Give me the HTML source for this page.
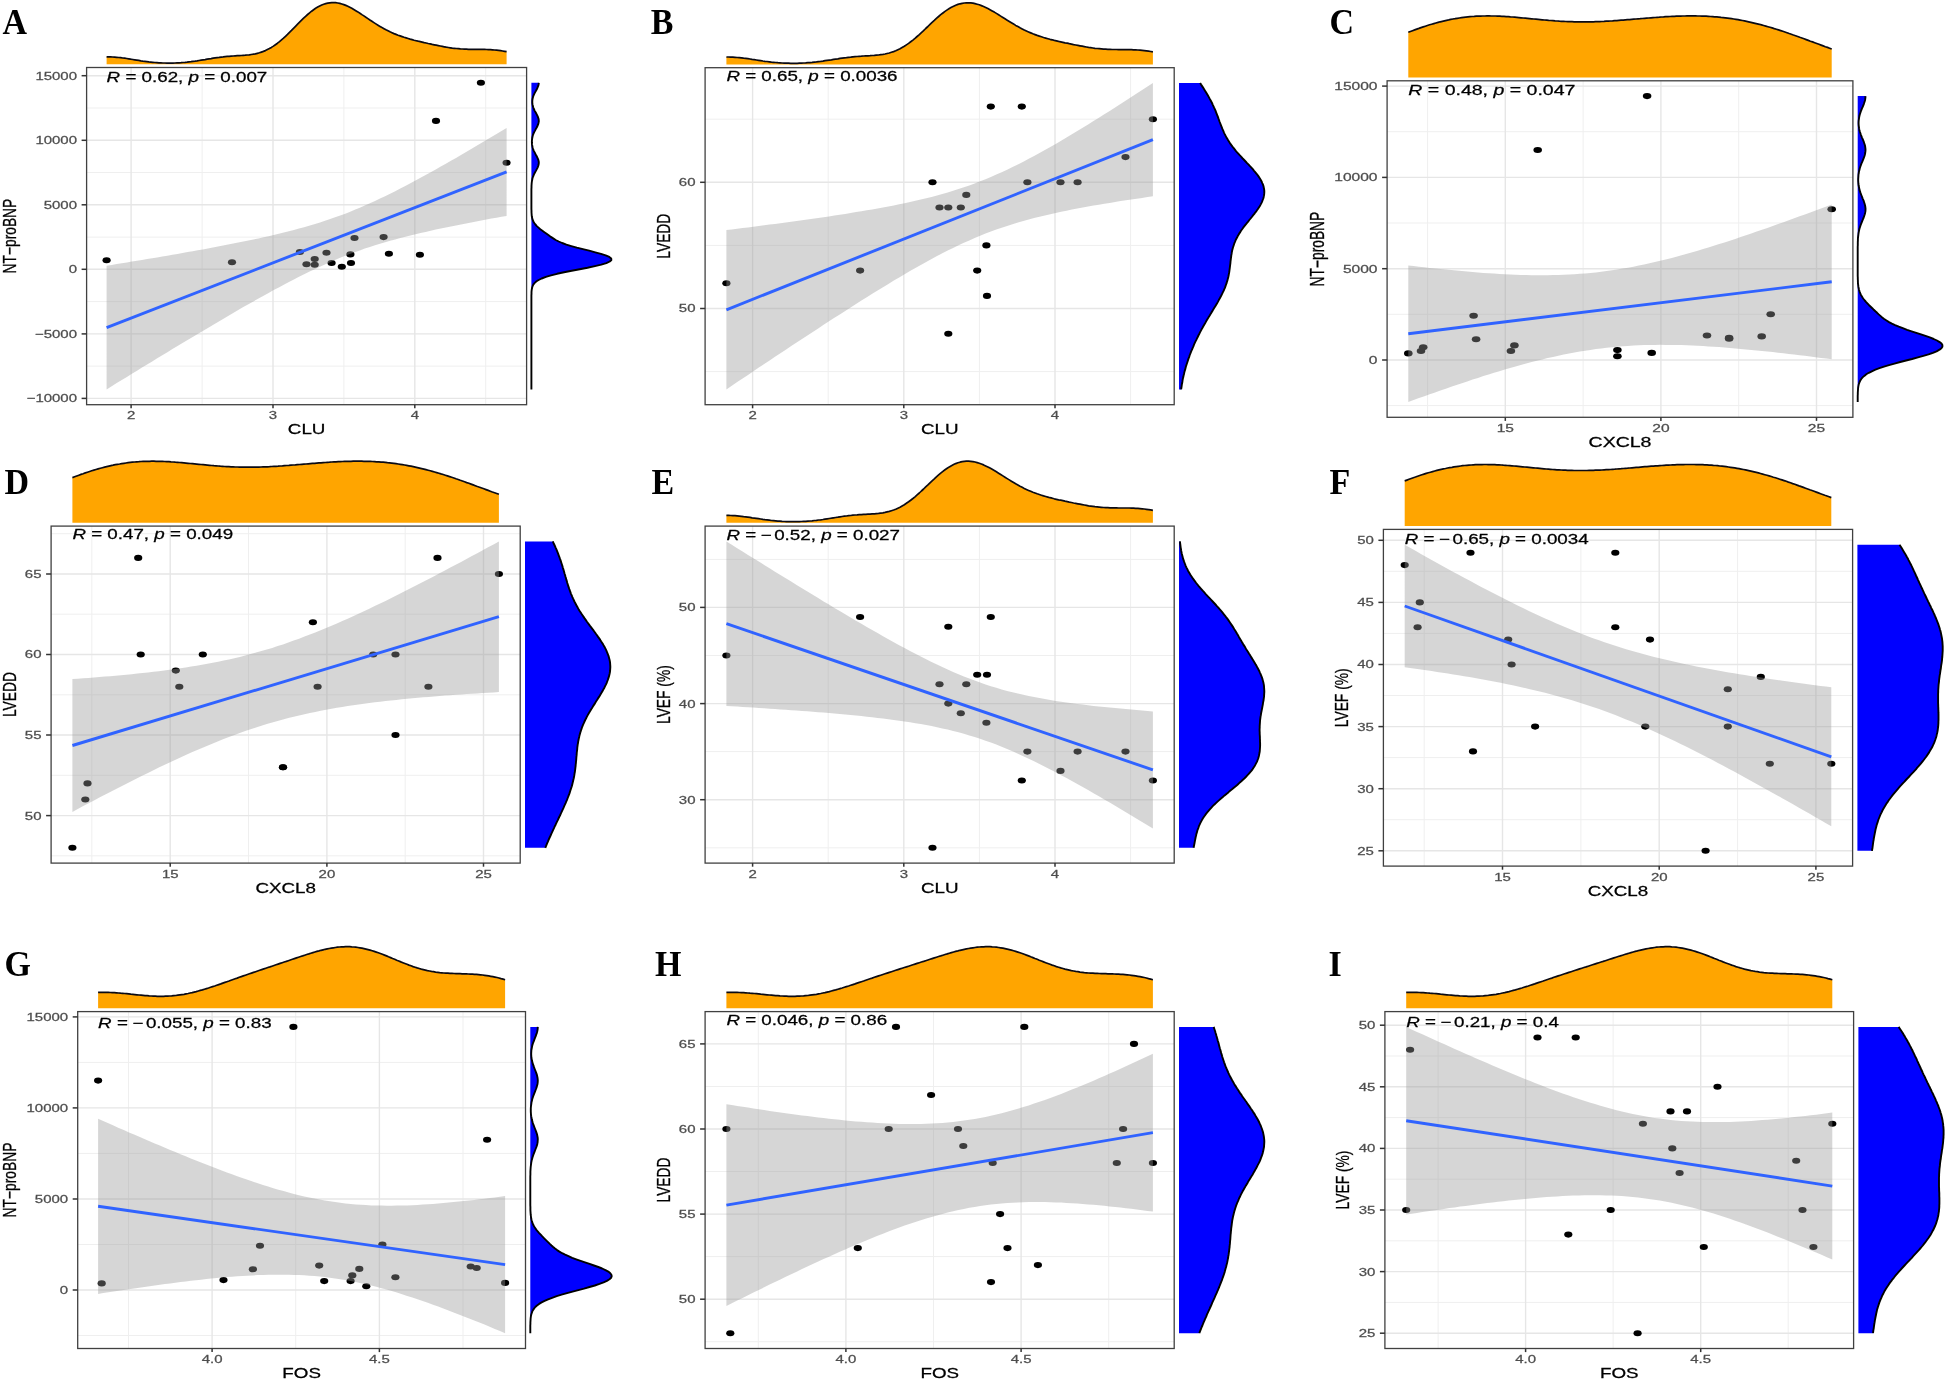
<!DOCTYPE html>
<html lang="en"><head><meta charset="utf-8"><title>Correlation of CLU, CXCL8 and FOS with NT-proBNP, LVEDD and LVEF</title>
<style>
html,body{margin:0;padding:0;background:#fff}
body{width:1948px;height:1382px;overflow:hidden}
svg{display:block}
svg text{font-family:"Liberation Sans",Arial,sans-serif;stroke-width:0.25px;paint-order:stroke}
svg text.pl{stroke:none;font-family:"Liberation Serif","Times New Roman",serif;font-weight:bold;font-size:34px;fill:#000}
</style></head><body>
<svg width="1948" height="1382" viewBox="0 0 1948 1382">
<defs><filter id="soft" x="0" y="0" width="1948" height="1382" filterUnits="userSpaceOnUse" color-interpolation-filters="sRGB"><feGaussianBlur stdDeviation="0.5"/></filter></defs>
<rect width="1948" height="1382" fill="#fff"/>
<g filter="url(#soft)">
<rect width="1948" height="1382" fill="#fff"/>
<g>
<rect x="86.6" y="67.5" width="440" height="337.2" fill="#fff"/>
<path d="M202.1 67.5V404.7" stroke="#efefef" stroke-width="1"/><path d="M343.9 67.5V404.7" stroke="#efefef" stroke-width="1"/><path d="M485.7 67.5V404.7" stroke="#efefef" stroke-width="1"/><path d="M86.6 366.1H526.6" stroke="#efefef" stroke-width="1"/><path d="M86.6 301.6H526.6" stroke="#efefef" stroke-width="1"/><path d="M86.6 237.1H526.6" stroke="#efefef" stroke-width="1"/><path d="M86.6 172.5H526.6" stroke="#efefef" stroke-width="1"/><path d="M86.6 108H526.6" stroke="#efefef" stroke-width="1"/><path d="M131.1 67.5V404.7" stroke="#e6e6e6" stroke-width="1.4"/><path d="M273 67.5V404.7" stroke="#e6e6e6" stroke-width="1.4"/><path d="M414.8 67.5V404.7" stroke="#e6e6e6" stroke-width="1.4"/><path d="M86.6 398.4H526.6" stroke="#e6e6e6" stroke-width="1.4"/><path d="M86.6 333.9H526.6" stroke="#e6e6e6" stroke-width="1.4"/><path d="M86.6 269.3H526.6" stroke="#e6e6e6" stroke-width="1.4"/><path d="M86.6 204.8H526.6" stroke="#e6e6e6" stroke-width="1.4"/><path d="M86.6 140.3H526.6" stroke="#e6e6e6" stroke-width="1.4"/><path d="M86.6 75.7H526.6" stroke="#e6e6e6" stroke-width="1.4"/>
<g fill="#000"><ellipse cx="106.6" cy="260.3" rx="4.1" ry="3.05"/><ellipse cx="232" cy="262.3" rx="4.1" ry="3.05"/><ellipse cx="299.9" cy="252" rx="4.1" ry="3.05"/><ellipse cx="306.5" cy="264.3" rx="4.1" ry="3.05"/><ellipse cx="314.7" cy="259" rx="4.1" ry="3.05"/><ellipse cx="314.7" cy="264.7" rx="4.1" ry="3.05"/><ellipse cx="326.5" cy="252.7" rx="4.1" ry="3.05"/><ellipse cx="331.6" cy="263" rx="4.1" ry="3.05"/><ellipse cx="341.8" cy="266.7" rx="4.1" ry="3.05"/><ellipse cx="350.4" cy="254.4" rx="4.1" ry="3.05"/><ellipse cx="351" cy="263" rx="4.1" ry="3.05"/><ellipse cx="354.5" cy="238" rx="4.1" ry="3.05"/><ellipse cx="383.6" cy="237.1" rx="4.1" ry="3.05"/><ellipse cx="388.9" cy="253.7" rx="4.1" ry="3.05"/><ellipse cx="419.9" cy="254.7" rx="4.1" ry="3.05"/><ellipse cx="436" cy="120.9" rx="4.1" ry="3.05"/><ellipse cx="480.9" cy="82.8" rx="4.1" ry="3.05"/><ellipse cx="506.6" cy="162.8" rx="4.1" ry="3.05"/></g>
<path d="M106.6 265.8 L111.7 264.9 L116.7 264.1 L121.8 263.3 L126.9 262.5 L131.9 261.6 L137 260.8 L142 259.9 L147.1 259.1 L152.2 258.2 L157.2 257.4 L162.3 256.5 L167.4 255.7 L172.4 254.8 L177.5 253.9 L182.5 253 L187.6 252.1 L192.7 251.2 L197.7 250.3 L202.8 249.4 L207.9 248.5 L212.9 247.5 L218 246.6 L223.1 245.6 L228.1 244.6 L233.2 243.6 L238.2 242.6 L243.3 241.6 L248.4 240.6 L253.4 239.5 L258.5 238.4 L263.6 237.3 L268.6 236.2 L273.7 235 L278.8 233.8 L283.8 232.6 L288.9 231.3 L293.9 230 L299 228.6 L304.1 227.2 L309.1 225.8 L314.2 224.2 L319.3 222.7 L324.3 221 L329.4 219.3 L334.4 217.6 L339.5 215.8 L344.6 213.9 L349.6 211.9 L354.7 209.8 L359.8 207.7 L364.8 205.5 L369.9 203.3 L375 201 L380 198.6 L385.1 196.2 L390.1 193.7 L395.2 191.2 L400.3 188.6 L405.3 185.9 L410.4 183.3 L415.5 180.6 L420.5 177.8 L425.6 175.1 L430.7 172.3 L435.7 169.4 L440.8 166.6 L445.8 163.7 L450.9 160.8 L456 157.9 L461 155 L466.1 152 L471.2 149 L476.2 146.1 L481.3 143.1 L486.3 140.1 L491.4 137.1 L496.5 134 L501.5 131 L506.6 128 L506.6 215.9 L501.5 216.8 L496.5 217.7 L491.4 218.6 L486.3 219.6 L481.3 220.5 L476.2 221.5 L471.2 222.4 L466.1 223.4 L461 224.4 L456 225.4 L450.9 226.4 L445.8 227.5 L440.8 228.5 L435.7 229.6 L430.7 230.7 L425.6 231.9 L420.5 233 L415.5 234.2 L410.4 235.5 L405.3 236.7 L400.3 238 L395.2 239.4 L390.1 240.8 L385.1 242.3 L380 243.8 L375 245.3 L369.9 247 L364.8 248.6 L359.8 250.4 L354.7 252.2 L349.6 254.1 L344.6 256.1 L339.5 258.1 L334.4 260.3 L329.4 262.4 L324.3 264.7 L319.3 267 L314.2 269.4 L309.1 271.8 L304.1 274.3 L299 276.8 L293.9 279.4 L288.9 282 L283.8 284.7 L278.8 287.4 L273.7 290.1 L268.6 292.9 L263.6 295.7 L258.5 298.5 L253.4 301.4 L248.4 304.2 L243.3 307.1 L238.2 310.1 L233.2 313 L228.1 315.9 L223.1 318.9 L218 321.9 L212.9 324.9 L207.9 327.9 L202.8 330.9 L197.7 333.9 L192.7 336.9 L187.6 340 L182.5 343 L177.5 346.1 L172.4 349.1 L167.4 352.2 L162.3 355.3 L157.2 358.3 L152.2 361.4 L147.1 364.5 L142 367.6 L137 370.7 L131.9 373.8 L126.9 376.9 L121.8 380 L116.7 383.1 L111.7 386.3 L106.6 389.4Z" fill="#999" fill-opacity="0.4"/>
<path d="M106.6 327.6L506.6 171.9" stroke="#3063ff" stroke-width="2.9" fill="none"/>
<rect x="86.6" y="67.5" width="440" height="337.2" fill="none" stroke="#404040" stroke-width="1.3"/>
<path d="M131.1 404.7v3.6" stroke="#333" stroke-width="1.5"/><text transform="translate(131.1 419.3) scale(1.36 1)" font-size="11.0" text-anchor="middle" fill="#4d4d4d" stroke="#4d4d4d">2</text><path d="M273 404.7v3.6" stroke="#333" stroke-width="1.5"/><text transform="translate(273 419.3) scale(1.36 1)" font-size="11.0" text-anchor="middle" fill="#4d4d4d" stroke="#4d4d4d">3</text><path d="M414.8 404.7v3.6" stroke="#333" stroke-width="1.5"/><text transform="translate(414.8 419.3) scale(1.36 1)" font-size="11.0" text-anchor="middle" fill="#4d4d4d" stroke="#4d4d4d">4</text><path d="M86.6 398.4h-5" stroke="#333" stroke-width="1.5"/><text transform="translate(77 402.3) scale(1.36 1)" font-size="11.0" text-anchor="end" fill="#4d4d4d" stroke="#4d4d4d">−10000</text><path d="M86.6 333.9h-5" stroke="#333" stroke-width="1.5"/><text transform="translate(77 337.8) scale(1.36 1)" font-size="11.0" text-anchor="end" fill="#4d4d4d" stroke="#4d4d4d">−5000</text><path d="M86.6 269.3h-5" stroke="#333" stroke-width="1.5"/><text transform="translate(77 273.2) scale(1.36 1)" font-size="11.0" text-anchor="end" fill="#4d4d4d" stroke="#4d4d4d">0</text><path d="M86.6 204.8h-5" stroke="#333" stroke-width="1.5"/><text transform="translate(77 208.7) scale(1.36 1)" font-size="11.0" text-anchor="end" fill="#4d4d4d" stroke="#4d4d4d">5000</text><path d="M86.6 140.3h-5" stroke="#333" stroke-width="1.5"/><text transform="translate(77 144.2) scale(1.36 1)" font-size="11.0" text-anchor="end" fill="#4d4d4d" stroke="#4d4d4d">10000</text><path d="M86.6 75.7h-5" stroke="#333" stroke-width="1.5"/><text transform="translate(77 79.6) scale(1.36 1)" font-size="11.0" text-anchor="end" fill="#4d4d4d" stroke="#4d4d4d">15000</text>
<text transform="translate(306.6 434.3) scale(1.36 1)" font-size="13.8" text-anchor="middle" fill="#000" stroke="#000">CLU</text>
<text transform="translate(16 236.1) rotate(-90) scale(1 1.36)" font-size="13.8" text-anchor="middle" fill="#000" stroke="#000">NT−proBNP</text>
<text xml:space="preserve" transform="translate(106.6 81.5) scale(1.36 1)" font-size="13.8" fill="#000" stroke="#000"><tspan font-style="italic">R</tspan> = 0.62, <tspan font-style="italic">p</tspan> = 0.007</text>
<path d="M106.6 64.2 L106.6 56.8 L108.6 56.8 L110.6 56.9 L112.6 57 L114.6 57.1 L116.7 57.3 L118.7 57.5 L120.7 57.7 L122.7 58 L124.7 58.2 L126.7 58.5 L128.7 58.8 L130.7 59.2 L132.7 59.5 L134.7 59.8 L136.8 60.1 L138.8 60.4 L140.8 60.8 L142.8 61.1 L144.8 61.3 L146.8 61.6 L148.8 61.9 L150.8 62.1 L152.8 62.3 L154.8 62.5 L156.9 62.6 L158.9 62.8 L160.9 62.9 L162.9 63 L164.9 63 L166.9 63.1 L168.9 63.1 L170.9 63.1 L172.9 63.1 L174.9 63 L177 62.9 L179 62.8 L181 62.7 L183 62.5 L185 62.4 L187 62.2 L189 61.9 L191 61.7 L193 61.4 L195 61.2 L197.1 60.9 L199.1 60.5 L201.1 60.2 L203.1 59.9 L205.1 59.6 L207.1 59.2 L209.1 58.9 L211.1 58.6 L213.1 58.2 L215.1 57.9 L217.2 57.6 L219.2 57.4 L221.2 57.1 L223.2 56.9 L225.2 56.6 L227.2 56.4 L229.2 56.3 L231.2 56.1 L233.2 56 L235.2 55.8 L237.3 55.7 L239.3 55.6 L241.3 55.5 L243.3 55.3 L245.3 55.2 L247.3 55 L249.3 54.8 L251.3 54.5 L253.3 54.2 L255.3 53.8 L257.4 53.3 L259.4 52.8 L261.4 52.1 L263.4 51.4 L265.4 50.6 L267.4 49.6 L269.4 48.6 L271.4 47.4 L273.4 46.1 L275.4 44.7 L277.5 43.2 L279.5 41.6 L281.5 39.9 L283.5 38.2 L285.5 36.3 L287.5 34.4 L289.5 32.4 L291.5 30.4 L293.5 28.3 L295.5 26.3 L297.6 24.2 L299.6 22.2 L301.6 20.2 L303.6 18.2 L305.6 16.3 L307.6 14.5 L309.6 12.8 L311.6 11.2 L313.6 9.7 L315.6 8.3 L317.7 7.1 L319.7 6 L321.7 5 L323.7 4.2 L325.7 3.6 L327.7 3.1 L329.7 2.8 L331.7 2.6 L333.7 2.6 L335.7 2.7 L337.8 3 L339.8 3.4 L341.8 4 L343.8 4.6 L345.8 5.4 L347.8 6.3 L349.8 7.3 L351.8 8.3 L353.8 9.5 L355.8 10.7 L357.9 11.9 L359.9 13.2 L361.9 14.6 L363.9 15.9 L365.9 17.3 L367.9 18.6 L369.9 20 L371.9 21.3 L373.9 22.6 L375.9 23.9 L378 25.2 L380 26.4 L382 27.6 L384 28.7 L386 29.8 L388 30.8 L390 31.8 L392 32.7 L394 33.6 L396 34.4 L398.1 35.2 L400.1 35.9 L402.1 36.6 L404.1 37.3 L406.1 37.9 L408.1 38.5 L410.1 39.1 L412.1 39.6 L414.1 40.2 L416.1 40.7 L418.2 41.2 L420.2 41.6 L422.2 42.1 L424.2 42.6 L426.2 43 L428.2 43.5 L430.2 43.9 L432.2 44.4 L434.2 44.8 L436.2 45.2 L438.3 45.6 L440.3 46 L442.3 46.4 L444.3 46.8 L446.3 47.2 L448.3 47.5 L450.3 47.8 L452.3 48.1 L454.3 48.3 L456.3 48.5 L458.4 48.7 L460.4 48.9 L462.4 49 L464.4 49.1 L466.4 49.2 L468.4 49.3 L470.4 49.3 L472.4 49.3 L474.4 49.4 L476.4 49.4 L478.5 49.4 L480.5 49.4 L482.5 49.4 L484.5 49.4 L486.5 49.5 L488.5 49.6 L490.5 49.7 L492.5 49.8 L494.5 50 L496.5 50.2 L498.6 50.4 L500.6 50.7 L502.6 51 L504.6 51.3 L506.6 51.7 L506.6 64.2Z" fill="#ffa500"/>
<path d="M106.6 56.8 L108.6 56.8 L110.6 56.9 L112.6 57 L114.6 57.1 L116.7 57.3 L118.7 57.5 L120.7 57.7 L122.7 58 L124.7 58.2 L126.7 58.5 L128.7 58.8 L130.7 59.2 L132.7 59.5 L134.7 59.8 L136.8 60.1 L138.8 60.4 L140.8 60.8 L142.8 61.1 L144.8 61.3 L146.8 61.6 L148.8 61.9 L150.8 62.1 L152.8 62.3 L154.8 62.5 L156.9 62.6 L158.9 62.8 L160.9 62.9 L162.9 63 L164.9 63 L166.9 63.1 L168.9 63.1 L170.9 63.1 L172.9 63.1 L174.9 63 L177 62.9 L179 62.8 L181 62.7 L183 62.5 L185 62.4 L187 62.2 L189 61.9 L191 61.7 L193 61.4 L195 61.2 L197.1 60.9 L199.1 60.5 L201.1 60.2 L203.1 59.9 L205.1 59.6 L207.1 59.2 L209.1 58.9 L211.1 58.6 L213.1 58.2 L215.1 57.9 L217.2 57.6 L219.2 57.4 L221.2 57.1 L223.2 56.9 L225.2 56.6 L227.2 56.4 L229.2 56.3 L231.2 56.1 L233.2 56 L235.2 55.8 L237.3 55.7 L239.3 55.6 L241.3 55.5 L243.3 55.3 L245.3 55.2 L247.3 55 L249.3 54.8 L251.3 54.5 L253.3 54.2 L255.3 53.8 L257.4 53.3 L259.4 52.8 L261.4 52.1 L263.4 51.4 L265.4 50.6 L267.4 49.6 L269.4 48.6 L271.4 47.4 L273.4 46.1 L275.4 44.7 L277.5 43.2 L279.5 41.6 L281.5 39.9 L283.5 38.2 L285.5 36.3 L287.5 34.4 L289.5 32.4 L291.5 30.4 L293.5 28.3 L295.5 26.3 L297.6 24.2 L299.6 22.2 L301.6 20.2 L303.6 18.2 L305.6 16.3 L307.6 14.5 L309.6 12.8 L311.6 11.2 L313.6 9.7 L315.6 8.3 L317.7 7.1 L319.7 6 L321.7 5 L323.7 4.2 L325.7 3.6 L327.7 3.1 L329.7 2.8 L331.7 2.6 L333.7 2.6 L335.7 2.7 L337.8 3 L339.8 3.4 L341.8 4 L343.8 4.6 L345.8 5.4 L347.8 6.3 L349.8 7.3 L351.8 8.3 L353.8 9.5 L355.8 10.7 L357.9 11.9 L359.9 13.2 L361.9 14.6 L363.9 15.9 L365.9 17.3 L367.9 18.6 L369.9 20 L371.9 21.3 L373.9 22.6 L375.9 23.9 L378 25.2 L380 26.4 L382 27.6 L384 28.7 L386 29.8 L388 30.8 L390 31.8 L392 32.7 L394 33.6 L396 34.4 L398.1 35.2 L400.1 35.9 L402.1 36.6 L404.1 37.3 L406.1 37.9 L408.1 38.5 L410.1 39.1 L412.1 39.6 L414.1 40.2 L416.1 40.7 L418.2 41.2 L420.2 41.6 L422.2 42.1 L424.2 42.6 L426.2 43 L428.2 43.5 L430.2 43.9 L432.2 44.4 L434.2 44.8 L436.2 45.2 L438.3 45.6 L440.3 46 L442.3 46.4 L444.3 46.8 L446.3 47.2 L448.3 47.5 L450.3 47.8 L452.3 48.1 L454.3 48.3 L456.3 48.5 L458.4 48.7 L460.4 48.9 L462.4 49 L464.4 49.1 L466.4 49.2 L468.4 49.3 L470.4 49.3 L472.4 49.3 L474.4 49.4 L476.4 49.4 L478.5 49.4 L480.5 49.4 L482.5 49.4 L484.5 49.4 L486.5 49.5 L488.5 49.6 L490.5 49.7 L492.5 49.8 L494.5 50 L496.5 50.2 L498.6 50.4 L500.6 50.7 L502.6 51 L504.6 51.3 L506.6 51.7" fill="none" stroke="#0a0a14" stroke-width="1.7" stroke-linejoin="round"/>
<path d="M531.4 389.4 L531.4 389.4 L531.4 387.8 L531.4 386.3 L531.4 384.8 L531.4 383.2 L531.4 381.7 L531.4 380.1 L531.4 378.6 L531.4 377 L531.4 375.5 L531.4 374 L531.4 372.4 L531.4 370.9 L531.4 369.3 L531.4 367.8 L531.4 366.3 L531.4 364.7 L531.4 363.2 L531.4 361.6 L531.4 360.1 L531.4 358.6 L531.4 357 L531.4 355.5 L531.4 353.9 L531.4 352.4 L531.4 350.9 L531.4 349.3 L531.4 347.8 L531.4 346.2 L531.4 344.7 L531.4 343.2 L531.4 341.6 L531.4 340.1 L531.4 338.5 L531.4 337 L531.4 335.5 L531.4 333.9 L531.4 332.4 L531.4 330.8 L531.4 329.3 L531.4 327.8 L531.4 326.2 L531.4 324.7 L531.4 323.1 L531.4 321.6 L531.4 320.1 L531.4 318.5 L531.4 317 L531.4 315.4 L531.4 313.9 L531.4 312.4 L531.4 310.8 L531.4 309.3 L531.4 307.7 L531.4 306.2 L531.4 304.6 L531.4 303.1 L531.4 301.6 L531.4 300 L531.4 298.5 L531.4 296.9 L531.4 295.4 L531.5 293.9 L531.5 292.3 L531.6 290.8 L531.8 289.2 L532.1 287.7 L532.6 286.2 L533.3 284.6 L534.5 283.1 L536.2 281.5 L538.6 280 L541.7 278.5 L545.9 276.9 L551 275.4 L557.1 273.8 L564.1 272.3 L571.7 270.8 L579.7 269.2 L587.5 267.7 L594.9 266.1 L601.3 264.6 L606.3 263.1 L609.8 261.5 L611.4 260 L611.2 258.4 L609.3 256.9 L605.7 255.4 L601 253.8 L595.3 252.3 L589.2 250.7 L582.9 249.2 L576.8 247.7 L571.3 246.1 L566.4 244.6 L562.2 243 L558.7 241.5 L555.7 240 L553.2 238.4 L550.9 236.9 L548.7 235.3 L546.6 233.8 L544.4 232.2 L542.4 230.7 L540.3 229.2 L538.5 227.6 L536.8 226.1 L535.4 224.5 L534.3 223 L533.4 221.5 L532.7 219.9 L532.3 218.4 L531.9 216.8 L531.7 215.3 L531.6 213.8 L531.5 212.2 L531.5 210.7 L531.4 209.1 L531.4 207.6 L531.4 206.1 L531.4 204.5 L531.4 203 L531.4 201.4 L531.4 199.9 L531.4 198.4 L531.4 196.8 L531.4 195.3 L531.4 193.7 L531.4 192.2 L531.4 190.7 L531.4 189.1 L531.5 187.6 L531.5 186 L531.6 184.5 L531.7 183 L531.9 181.4 L532.2 179.9 L532.5 178.3 L533 176.8 L533.6 175.3 L534.3 173.7 L535.1 172.2 L536 170.6 L536.8 169.1 L537.6 167.6 L538.2 166 L538.6 164.5 L538.8 162.9 L538.7 161.4 L538.3 159.8 L537.7 158.3 L537 156.8 L536.1 155.2 L535.3 153.7 L534.5 152.1 L533.7 150.6 L533.1 149.1 L532.6 147.5 L532.3 146 L532 144.4 L531.9 142.9 L531.9 141.4 L532 139.8 L532.2 138.3 L532.5 136.7 L532.9 135.2 L533.5 133.7 L534.2 132.1 L535 130.6 L535.8 129 L536.7 127.5 L537.4 126 L538.1 124.4 L538.5 122.9 L538.8 121.3 L538.7 119.8 L538.4 118.3 L537.8 116.7 L537.1 115.2 L536.3 113.6 L535.4 112.1 L534.6 110.6 L533.9 109 L533.3 107.5 L532.8 105.9 L532.5 104.4 L532.3 102.9 L532.3 101.3 L532.4 99.8 L532.7 98.2 L533.1 96.7 L533.7 95.2 L534.4 93.6 L535.2 92.1 L536.1 90.5 L536.9 89 L537.6 87.4 L538.2 85.9 L538.6 84.4 L538.8 82.8 L531.4 82.8Z" fill="#0000ff"/>
<path d="M531.4 389.4 L531.4 387.8 L531.4 386.3 L531.4 384.8 L531.4 383.2 L531.4 381.7 L531.4 380.1 L531.4 378.6 L531.4 377 L531.4 375.5 L531.4 374 L531.4 372.4 L531.4 370.9 L531.4 369.3 L531.4 367.8 L531.4 366.3 L531.4 364.7 L531.4 363.2 L531.4 361.6 L531.4 360.1 L531.4 358.6 L531.4 357 L531.4 355.5 L531.4 353.9 L531.4 352.4 L531.4 350.9 L531.4 349.3 L531.4 347.8 L531.4 346.2 L531.4 344.7 L531.4 343.2 L531.4 341.6 L531.4 340.1 L531.4 338.5 L531.4 337 L531.4 335.5 L531.4 333.9 L531.4 332.4 L531.4 330.8 L531.4 329.3 L531.4 327.8 L531.4 326.2 L531.4 324.7 L531.4 323.1 L531.4 321.6 L531.4 320.1 L531.4 318.5 L531.4 317 L531.4 315.4 L531.4 313.9 L531.4 312.4 L531.4 310.8 L531.4 309.3 L531.4 307.7 L531.4 306.2 L531.4 304.6 L531.4 303.1 L531.4 301.6 L531.4 300 L531.4 298.5 L531.4 296.9 L531.4 295.4 L531.5 293.9 L531.5 292.3 L531.6 290.8 L531.8 289.2 L532.1 287.7 L532.6 286.2 L533.3 284.6 L534.5 283.1 L536.2 281.5 L538.6 280 L541.7 278.5 L545.9 276.9 L551 275.4 L557.1 273.8 L564.1 272.3 L571.7 270.8 L579.7 269.2 L587.5 267.7 L594.9 266.1 L601.3 264.6 L606.3 263.1 L609.8 261.5 L611.4 260 L611.2 258.4 L609.3 256.9 L605.7 255.4 L601 253.8 L595.3 252.3 L589.2 250.7 L582.9 249.2 L576.8 247.7 L571.3 246.1 L566.4 244.6 L562.2 243 L558.7 241.5 L555.7 240 L553.2 238.4 L550.9 236.9 L548.7 235.3 L546.6 233.8 L544.4 232.2 L542.4 230.7 L540.3 229.2 L538.5 227.6 L536.8 226.1 L535.4 224.5 L534.3 223 L533.4 221.5 L532.7 219.9 L532.3 218.4 L531.9 216.8 L531.7 215.3 L531.6 213.8 L531.5 212.2 L531.5 210.7 L531.4 209.1 L531.4 207.6 L531.4 206.1 L531.4 204.5 L531.4 203 L531.4 201.4 L531.4 199.9 L531.4 198.4 L531.4 196.8 L531.4 195.3 L531.4 193.7 L531.4 192.2 L531.4 190.7 L531.4 189.1 L531.5 187.6 L531.5 186 L531.6 184.5 L531.7 183 L531.9 181.4 L532.2 179.9 L532.5 178.3 L533 176.8 L533.6 175.3 L534.3 173.7 L535.1 172.2 L536 170.6 L536.8 169.1 L537.6 167.6 L538.2 166 L538.6 164.5 L538.8 162.9 L538.7 161.4 L538.3 159.8 L537.7 158.3 L537 156.8 L536.1 155.2 L535.3 153.7 L534.5 152.1 L533.7 150.6 L533.1 149.1 L532.6 147.5 L532.3 146 L532 144.4 L531.9 142.9 L531.9 141.4 L532 139.8 L532.2 138.3 L532.5 136.7 L532.9 135.2 L533.5 133.7 L534.2 132.1 L535 130.6 L535.8 129 L536.7 127.5 L537.4 126 L538.1 124.4 L538.5 122.9 L538.8 121.3 L538.7 119.8 L538.4 118.3 L537.8 116.7 L537.1 115.2 L536.3 113.6 L535.4 112.1 L534.6 110.6 L533.9 109 L533.3 107.5 L532.8 105.9 L532.5 104.4 L532.3 102.9 L532.3 101.3 L532.4 99.8 L532.7 98.2 L533.1 96.7 L533.7 95.2 L534.4 93.6 L535.2 92.1 L536.1 90.5 L536.9 89 L537.6 87.4 L538.2 85.9 L538.6 84.4 L538.8 82.8" fill="none" stroke="#000" stroke-width="1.9" stroke-linejoin="round"/>
<text class="pl" transform="translate(2.5 34.2) scale(1 1.045)">A</text>
</g>
<g>
<rect x="705.1" y="67.7" width="469.1" height="337" fill="#fff"/>
<path d="M828.2 67.7V404.7" stroke="#efefef" stroke-width="1"/><path d="M979.4 67.7V404.7" stroke="#efefef" stroke-width="1"/><path d="M1130.6 67.7V404.7" stroke="#efefef" stroke-width="1"/><path d="M705.1 371.6H1174.2" stroke="#efefef" stroke-width="1"/><path d="M705.1 245.4H1174.2" stroke="#efefef" stroke-width="1"/><path d="M705.1 119.2H1174.2" stroke="#efefef" stroke-width="1"/><path d="M752.6 67.7V404.7" stroke="#e6e6e6" stroke-width="1.4"/><path d="M903.8 67.7V404.7" stroke="#e6e6e6" stroke-width="1.4"/><path d="M1055 67.7V404.7" stroke="#e6e6e6" stroke-width="1.4"/><path d="M705.1 308.5H1174.2" stroke="#e6e6e6" stroke-width="1.4"/><path d="M705.1 182.3H1174.2" stroke="#e6e6e6" stroke-width="1.4"/>
<g fill="#000"><ellipse cx="726.4" cy="283.2" rx="4.1" ry="3.05"/><ellipse cx="860.1" cy="270.6" rx="4.1" ry="3.05"/><ellipse cx="932.5" cy="182.3" rx="4.1" ry="3.05"/><ellipse cx="939.5" cy="207.5" rx="4.1" ry="3.05"/><ellipse cx="948.3" cy="207.5" rx="4.1" ry="3.05"/><ellipse cx="948.3" cy="333.7" rx="4.1" ry="3.05"/><ellipse cx="960.8" cy="207.5" rx="4.1" ry="3.05"/><ellipse cx="966.3" cy="194.9" rx="4.1" ry="3.05"/><ellipse cx="977.2" cy="270.6" rx="4.1" ry="3.05"/><ellipse cx="986.4" cy="245.4" rx="4.1" ry="3.05"/><ellipse cx="987" cy="295.9" rx="4.1" ry="3.05"/><ellipse cx="990.8" cy="106.6" rx="4.1" ry="3.05"/><ellipse cx="1021.8" cy="106.6" rx="4.1" ry="3.05"/><ellipse cx="1027.4" cy="182.3" rx="4.1" ry="3.05"/><ellipse cx="1060.5" cy="182.3" rx="4.1" ry="3.05"/><ellipse cx="1077.6" cy="182.3" rx="4.1" ry="3.05"/><ellipse cx="1125.5" cy="157.1" rx="4.1" ry="3.05"/><ellipse cx="1152.9" cy="119.2" rx="4.1" ry="3.05"/></g>
<path d="M726.4 230.1 L731.8 229.4 L737.2 228.8 L742.6 228.1 L748 227.4 L753.4 226.7 L758.8 226 L764.2 225.3 L769.6 224.6 L775 223.9 L780.4 223.2 L785.8 222.5 L791.2 221.7 L796.6 221 L802 220.2 L807.4 219.5 L812.8 218.7 L818.2 217.9 L823.6 217.2 L829 216.4 L834.4 215.5 L839.8 214.7 L845.2 213.9 L850.6 213 L856 212.1 L861.4 211.3 L866.8 210.3 L872.2 209.4 L877.6 208.4 L883 207.5 L888.4 206.4 L893.8 205.4 L899.2 204.3 L904.6 203.2 L910 202 L915.4 200.8 L920.8 199.6 L926.2 198.3 L931.6 196.9 L937 195.5 L942.3 194 L947.7 192.4 L953.1 190.8 L958.5 189.1 L963.9 187.3 L969.3 185.4 L974.7 183.4 L980.1 181.3 L985.5 179.2 L990.9 176.9 L996.3 174.6 L1001.7 172.2 L1007.1 169.7 L1012.5 167.1 L1017.9 164.4 L1023.3 161.7 L1028.7 158.8 L1034.1 156 L1039.5 153 L1044.9 150 L1050.3 147 L1055.7 143.9 L1061.1 140.7 L1066.5 137.5 L1071.9 134.3 L1077.3 131 L1082.7 127.7 L1088.1 124.4 L1093.5 121.1 L1098.9 117.7 L1104.3 114.3 L1109.7 110.9 L1115.1 107.5 L1120.5 104 L1125.9 100.6 L1131.3 97.1 L1136.7 93.6 L1142.1 90.1 L1147.5 86.5 L1152.9 83 L1152.9 196.3 L1147.5 197.1 L1142.1 197.9 L1136.7 198.7 L1131.3 199.5 L1125.9 200.3 L1120.5 201.1 L1115.1 202 L1109.7 202.9 L1104.3 203.8 L1098.9 204.7 L1093.5 205.6 L1088.1 206.6 L1082.7 207.6 L1077.3 208.6 L1071.9 209.6 L1066.5 210.7 L1061.1 211.8 L1055.7 213 L1050.3 214.2 L1044.9 215.4 L1039.5 216.7 L1034.1 218.1 L1028.7 219.5 L1023.3 221 L1017.9 222.6 L1012.5 224.2 L1007.1 225.9 L1001.7 227.7 L996.3 229.6 L990.9 231.6 L985.5 233.6 L980.1 235.8 L974.7 238 L969.3 240.4 L963.9 242.8 L958.5 245.3 L953.1 247.9 L947.7 250.5 L942.3 253.3 L937 256.1 L931.6 259 L926.2 261.9 L920.8 264.9 L915.4 268 L910 271.1 L904.6 274.2 L899.2 277.4 L893.8 280.6 L888.4 283.9 L883 287.2 L877.6 290.5 L872.2 293.8 L866.8 297.2 L861.4 300.6 L856 304 L850.6 307.4 L845.2 310.9 L839.8 314.4 L834.4 317.8 L829 321.3 L823.6 324.8 L818.2 328.4 L812.8 331.9 L807.4 335.4 L802 339 L796.6 342.5 L791.2 346.1 L785.8 349.7 L780.4 353.3 L775 356.8 L769.6 360.4 L764.2 364 L758.8 367.6 L753.4 371.3 L748 374.9 L742.6 378.5 L737.2 382.1 L731.8 385.7 L726.4 389.4Z" fill="#999" fill-opacity="0.4"/>
<path d="M726.4 309.8L1152.9 139.7" stroke="#3063ff" stroke-width="2.9" fill="none"/>
<rect x="705.1" y="67.7" width="469.1" height="337" fill="none" stroke="#404040" stroke-width="1.3"/>
<path d="M752.6 404.7v3.6" stroke="#333" stroke-width="1.5"/><text transform="translate(752.6 419.3) scale(1.36 1)" font-size="11.0" text-anchor="middle" fill="#4d4d4d" stroke="#4d4d4d">2</text><path d="M903.8 404.7v3.6" stroke="#333" stroke-width="1.5"/><text transform="translate(903.8 419.3) scale(1.36 1)" font-size="11.0" text-anchor="middle" fill="#4d4d4d" stroke="#4d4d4d">3</text><path d="M1055 404.7v3.6" stroke="#333" stroke-width="1.5"/><text transform="translate(1055 419.3) scale(1.36 1)" font-size="11.0" text-anchor="middle" fill="#4d4d4d" stroke="#4d4d4d">4</text><path d="M705.1 308.5h-5" stroke="#333" stroke-width="1.5"/><text transform="translate(695.5 312.4) scale(1.36 1)" font-size="11.0" text-anchor="end" fill="#4d4d4d" stroke="#4d4d4d">50</text><path d="M705.1 182.3h-5" stroke="#333" stroke-width="1.5"/><text transform="translate(695.5 186.2) scale(1.36 1)" font-size="11.0" text-anchor="end" fill="#4d4d4d" stroke="#4d4d4d">60</text>
<text transform="translate(939.7 434.3) scale(1.36 1)" font-size="13.8" text-anchor="middle" fill="#000" stroke="#000">CLU</text>
<text transform="translate(670 236.2) rotate(-90) scale(1 1.36)" font-size="13.8" text-anchor="middle" fill="#000" stroke="#000">LVEDD</text>
<text xml:space="preserve" transform="translate(726.4 81.3) scale(1.36 1)" font-size="13.8" fill="#000" stroke="#000"><tspan font-style="italic">R</tspan> = 0.65, <tspan font-style="italic">p</tspan> = 0.0036</text>
<path d="M726.4 64.4 L726.4 57 L728.6 57 L730.7 57.1 L732.9 57.2 L735 57.3 L737.1 57.5 L739.3 57.7 L741.4 57.9 L743.6 58.2 L745.7 58.4 L747.9 58.7 L750 59 L752.1 59.4 L754.3 59.7 L756.4 60 L758.6 60.3 L760.7 60.6 L762.9 61 L765 61.3 L767.1 61.5 L769.3 61.8 L771.4 62.1 L773.6 62.3 L775.7 62.5 L777.9 62.7 L780 62.8 L782.1 63 L784.3 63.1 L786.4 63.2 L788.6 63.2 L790.7 63.3 L792.9 63.3 L795 63.3 L797.1 63.3 L799.3 63.2 L801.4 63.1 L803.6 63 L805.7 62.9 L807.9 62.7 L810 62.6 L812.1 62.4 L814.3 62.1 L816.4 61.9 L818.6 61.6 L820.7 61.4 L822.9 61.1 L825 60.7 L827.1 60.4 L829.3 60.1 L831.4 59.8 L833.6 59.4 L835.7 59.1 L837.9 58.8 L840 58.4 L842.1 58.1 L844.3 57.8 L846.4 57.6 L848.6 57.3 L850.7 57.1 L852.9 56.8 L855 56.6 L857.1 56.5 L859.3 56.3 L861.4 56.2 L863.6 56 L865.7 55.9 L867.9 55.8 L870 55.7 L872.1 55.5 L874.3 55.4 L876.4 55.2 L878.6 55 L880.7 54.7 L882.9 54.4 L885 54 L887.1 53.5 L889.3 53 L891.4 52.3 L893.6 51.6 L895.7 50.8 L897.9 49.8 L900 48.8 L902.1 47.6 L904.3 46.3 L906.4 44.9 L908.6 43.4 L910.7 41.8 L912.9 40.1 L915 38.4 L917.1 36.5 L919.3 34.6 L921.4 32.6 L923.6 30.6 L925.7 28.5 L927.9 26.5 L930 24.4 L932.1 22.4 L934.3 20.4 L936.4 18.4 L938.6 16.5 L940.7 14.7 L942.9 13 L945 11.4 L947.2 9.9 L949.3 8.5 L951.4 7.3 L953.6 6.2 L955.7 5.2 L957.9 4.4 L960 3.8 L962.2 3.3 L964.3 3 L966.4 2.8 L968.6 2.8 L970.7 2.9 L972.9 3.2 L975 3.6 L977.2 4.2 L979.3 4.8 L981.4 5.6 L983.6 6.5 L985.7 7.5 L987.9 8.5 L990 9.7 L992.2 10.9 L994.3 12.1 L996.4 13.4 L998.6 14.8 L1000.7 16.1 L1002.9 17.5 L1005 18.8 L1007.2 20.2 L1009.3 21.5 L1011.4 22.8 L1013.6 24.1 L1015.7 25.4 L1017.9 26.6 L1020 27.8 L1022.2 28.9 L1024.3 30 L1026.4 31 L1028.6 32 L1030.7 32.9 L1032.9 33.8 L1035 34.6 L1037.2 35.4 L1039.3 36.1 L1041.4 36.8 L1043.6 37.5 L1045.7 38.1 L1047.9 38.7 L1050 39.3 L1052.2 39.8 L1054.3 40.4 L1056.4 40.9 L1058.6 41.4 L1060.7 41.8 L1062.9 42.3 L1065 42.8 L1067.2 43.2 L1069.3 43.7 L1071.4 44.1 L1073.6 44.6 L1075.7 45 L1077.9 45.4 L1080 45.8 L1082.2 46.2 L1084.3 46.6 L1086.4 47 L1088.6 47.4 L1090.7 47.7 L1092.9 48 L1095 48.3 L1097.2 48.5 L1099.3 48.7 L1101.4 48.9 L1103.6 49.1 L1105.7 49.2 L1107.9 49.3 L1110 49.4 L1112.2 49.5 L1114.3 49.5 L1116.4 49.5 L1118.6 49.6 L1120.7 49.6 L1122.9 49.6 L1125 49.6 L1127.2 49.6 L1129.3 49.6 L1131.4 49.7 L1133.6 49.8 L1135.7 49.9 L1137.9 50 L1140 50.2 L1142.2 50.4 L1144.3 50.6 L1146.4 50.9 L1148.6 51.2 L1150.7 51.5 L1152.9 51.9 L1152.9 64.4Z" fill="#ffa500"/>
<path d="M726.4 57 L728.6 57 L730.7 57.1 L732.9 57.2 L735 57.3 L737.1 57.5 L739.3 57.7 L741.4 57.9 L743.6 58.2 L745.7 58.4 L747.9 58.7 L750 59 L752.1 59.4 L754.3 59.7 L756.4 60 L758.6 60.3 L760.7 60.6 L762.9 61 L765 61.3 L767.1 61.5 L769.3 61.8 L771.4 62.1 L773.6 62.3 L775.7 62.5 L777.9 62.7 L780 62.8 L782.1 63 L784.3 63.1 L786.4 63.2 L788.6 63.2 L790.7 63.3 L792.9 63.3 L795 63.3 L797.1 63.3 L799.3 63.2 L801.4 63.1 L803.6 63 L805.7 62.9 L807.9 62.7 L810 62.6 L812.1 62.4 L814.3 62.1 L816.4 61.9 L818.6 61.6 L820.7 61.4 L822.9 61.1 L825 60.7 L827.1 60.4 L829.3 60.1 L831.4 59.8 L833.6 59.4 L835.7 59.1 L837.9 58.8 L840 58.4 L842.1 58.1 L844.3 57.8 L846.4 57.6 L848.6 57.3 L850.7 57.1 L852.9 56.8 L855 56.6 L857.1 56.5 L859.3 56.3 L861.4 56.2 L863.6 56 L865.7 55.9 L867.9 55.8 L870 55.7 L872.1 55.5 L874.3 55.4 L876.4 55.2 L878.6 55 L880.7 54.7 L882.9 54.4 L885 54 L887.1 53.5 L889.3 53 L891.4 52.3 L893.6 51.6 L895.7 50.8 L897.9 49.8 L900 48.8 L902.1 47.6 L904.3 46.3 L906.4 44.9 L908.6 43.4 L910.7 41.8 L912.9 40.1 L915 38.4 L917.1 36.5 L919.3 34.6 L921.4 32.6 L923.6 30.6 L925.7 28.5 L927.9 26.5 L930 24.4 L932.1 22.4 L934.3 20.4 L936.4 18.4 L938.6 16.5 L940.7 14.7 L942.9 13 L945 11.4 L947.2 9.9 L949.3 8.5 L951.4 7.3 L953.6 6.2 L955.7 5.2 L957.9 4.4 L960 3.8 L962.2 3.3 L964.3 3 L966.4 2.8 L968.6 2.8 L970.7 2.9 L972.9 3.2 L975 3.6 L977.2 4.2 L979.3 4.8 L981.4 5.6 L983.6 6.5 L985.7 7.5 L987.9 8.5 L990 9.7 L992.2 10.9 L994.3 12.1 L996.4 13.4 L998.6 14.8 L1000.7 16.1 L1002.9 17.5 L1005 18.8 L1007.2 20.2 L1009.3 21.5 L1011.4 22.8 L1013.6 24.1 L1015.7 25.4 L1017.9 26.6 L1020 27.8 L1022.2 28.9 L1024.3 30 L1026.4 31 L1028.6 32 L1030.7 32.9 L1032.9 33.8 L1035 34.6 L1037.2 35.4 L1039.3 36.1 L1041.4 36.8 L1043.6 37.5 L1045.7 38.1 L1047.9 38.7 L1050 39.3 L1052.2 39.8 L1054.3 40.4 L1056.4 40.9 L1058.6 41.4 L1060.7 41.8 L1062.9 42.3 L1065 42.8 L1067.2 43.2 L1069.3 43.7 L1071.4 44.1 L1073.6 44.6 L1075.7 45 L1077.9 45.4 L1080 45.8 L1082.2 46.2 L1084.3 46.6 L1086.4 47 L1088.6 47.4 L1090.7 47.7 L1092.9 48 L1095 48.3 L1097.2 48.5 L1099.3 48.7 L1101.4 48.9 L1103.6 49.1 L1105.7 49.2 L1107.9 49.3 L1110 49.4 L1112.2 49.5 L1114.3 49.5 L1116.4 49.5 L1118.6 49.6 L1120.7 49.6 L1122.9 49.6 L1125 49.6 L1127.2 49.6 L1129.3 49.6 L1131.4 49.7 L1133.6 49.8 L1135.7 49.9 L1137.9 50 L1140 50.2 L1142.2 50.4 L1144.3 50.6 L1146.4 50.9 L1148.6 51.2 L1150.7 51.5 L1152.9 51.9" fill="none" stroke="#0a0a14" stroke-width="1.7" stroke-linejoin="round"/>
<path d="M1179 389.4 L1181.1 389.4 L1181.4 387.8 L1181.6 386.3 L1181.8 384.8 L1182.1 383.2 L1182.4 381.7 L1182.6 380.1 L1182.9 378.6 L1183.3 377.1 L1183.6 375.5 L1184 374 L1184.3 372.4 L1184.7 370.9 L1185.2 369.4 L1185.6 367.8 L1186 366.3 L1186.5 364.7 L1187 363.2 L1187.5 361.7 L1188 360.1 L1188.5 358.6 L1189.1 357.1 L1189.6 355.5 L1190.2 354 L1190.8 352.4 L1191.4 350.9 L1192.1 349.4 L1192.7 347.8 L1193.4 346.3 L1194 344.7 L1194.7 343.2 L1195.4 341.7 L1196.2 340.1 L1196.9 338.6 L1197.7 337 L1198.4 335.5 L1199.2 334 L1200 332.4 L1200.8 330.9 L1201.6 329.3 L1202.5 327.8 L1203.3 326.3 L1204.2 324.7 L1205.1 323.2 L1206 321.6 L1206.9 320.1 L1207.8 318.6 L1208.7 317 L1209.7 315.5 L1210.6 313.9 L1211.5 312.4 L1212.5 310.9 L1213.4 309.3 L1214.3 307.8 L1215.3 306.2 L1216.2 304.7 L1217.1 303.2 L1218 301.6 L1218.8 300.1 L1219.7 298.6 L1220.5 297 L1221.3 295.5 L1222.1 293.9 L1222.8 292.4 L1223.6 290.9 L1224.2 289.3 L1224.9 287.8 L1225.5 286.2 L1226 284.7 L1226.6 283.2 L1227 281.6 L1227.5 280.1 L1227.9 278.5 L1228.3 277 L1228.6 275.5 L1228.9 273.9 L1229.2 272.4 L1229.4 270.8 L1229.6 269.3 L1229.8 267.8 L1230 266.2 L1230.2 264.7 L1230.4 263.1 L1230.5 261.6 L1230.7 260.1 L1230.9 258.5 L1231.1 257 L1231.3 255.4 L1231.6 253.9 L1231.8 252.4 L1232.1 250.8 L1232.5 249.3 L1232.9 247.7 L1233.4 246.2 L1233.9 244.7 L1234.4 243.1 L1235.1 241.6 L1235.7 240 L1236.5 238.5 L1237.3 237 L1238.1 235.4 L1239 233.9 L1240 232.4 L1241 230.8 L1242.1 229.3 L1243.2 227.7 L1244.4 226.2 L1245.6 224.7 L1246.8 223.1 L1248.1 221.6 L1249.3 220 L1250.6 218.5 L1251.8 217 L1253 215.4 L1254.3 213.9 L1255.4 212.3 L1256.6 210.8 L1257.7 209.3 L1258.7 207.7 L1259.7 206.2 L1260.6 204.6 L1261.4 203.1 L1262.1 201.6 L1262.7 200 L1263.3 198.5 L1263.7 196.9 L1264 195.4 L1264.2 193.9 L1264.3 192.3 L1264.3 190.8 L1264.1 189.2 L1263.8 187.7 L1263.5 186.2 L1263 184.6 L1262.3 183.1 L1261.6 181.5 L1260.8 180 L1259.9 178.5 L1258.9 176.9 L1257.8 175.4 L1256.6 173.8 L1255.4 172.3 L1254.1 170.8 L1252.8 169.2 L1251.4 167.7 L1250 166.2 L1248.6 164.6 L1247.1 163.1 L1245.6 161.5 L1244.2 160 L1242.7 158.5 L1241.3 156.9 L1239.9 155.4 L1238.5 153.8 L1237.1 152.3 L1235.8 150.8 L1234.5 149.2 L1233.3 147.7 L1232.1 146.1 L1231 144.6 L1229.9 143.1 L1228.9 141.5 L1228 140 L1227.1 138.4 L1226.2 136.9 L1225.4 135.4 L1224.6 133.8 L1223.9 132.3 L1223.2 130.7 L1222.5 129.2 L1221.9 127.7 L1221.3 126.1 L1220.7 124.6 L1220.1 123 L1219.5 121.5 L1219 120 L1218.4 118.4 L1217.9 116.9 L1217.3 115.3 L1216.7 113.8 L1216.1 112.3 L1215.5 110.7 L1214.8 109.2 L1214.1 107.7 L1213.4 106.1 L1212.7 104.6 L1212 103 L1211.2 101.5 L1210.4 100 L1209.5 98.4 L1208.7 96.9 L1207.8 95.3 L1206.9 93.8 L1206 92.3 L1205 90.7 L1204.1 89.2 L1203.1 87.6 L1202.1 86.1 L1201.1 84.6 L1200.1 83 L1179 83Z" fill="#0000ff"/>
<path d="M1181.1 389.4 L1181.4 387.8 L1181.6 386.3 L1181.8 384.8 L1182.1 383.2 L1182.4 381.7 L1182.6 380.1 L1182.9 378.6 L1183.3 377.1 L1183.6 375.5 L1184 374 L1184.3 372.4 L1184.7 370.9 L1185.2 369.4 L1185.6 367.8 L1186 366.3 L1186.5 364.7 L1187 363.2 L1187.5 361.7 L1188 360.1 L1188.5 358.6 L1189.1 357.1 L1189.6 355.5 L1190.2 354 L1190.8 352.4 L1191.4 350.9 L1192.1 349.4 L1192.7 347.8 L1193.4 346.3 L1194 344.7 L1194.7 343.2 L1195.4 341.7 L1196.2 340.1 L1196.9 338.6 L1197.7 337 L1198.4 335.5 L1199.2 334 L1200 332.4 L1200.8 330.9 L1201.6 329.3 L1202.5 327.8 L1203.3 326.3 L1204.2 324.7 L1205.1 323.2 L1206 321.6 L1206.9 320.1 L1207.8 318.6 L1208.7 317 L1209.7 315.5 L1210.6 313.9 L1211.5 312.4 L1212.5 310.9 L1213.4 309.3 L1214.3 307.8 L1215.3 306.2 L1216.2 304.7 L1217.1 303.2 L1218 301.6 L1218.8 300.1 L1219.7 298.6 L1220.5 297 L1221.3 295.5 L1222.1 293.9 L1222.8 292.4 L1223.6 290.9 L1224.2 289.3 L1224.9 287.8 L1225.5 286.2 L1226 284.7 L1226.6 283.2 L1227 281.6 L1227.5 280.1 L1227.9 278.5 L1228.3 277 L1228.6 275.5 L1228.9 273.9 L1229.2 272.4 L1229.4 270.8 L1229.6 269.3 L1229.8 267.8 L1230 266.2 L1230.2 264.7 L1230.4 263.1 L1230.5 261.6 L1230.7 260.1 L1230.9 258.5 L1231.1 257 L1231.3 255.4 L1231.6 253.9 L1231.8 252.4 L1232.1 250.8 L1232.5 249.3 L1232.9 247.7 L1233.4 246.2 L1233.9 244.7 L1234.4 243.1 L1235.1 241.6 L1235.7 240 L1236.5 238.5 L1237.3 237 L1238.1 235.4 L1239 233.9 L1240 232.4 L1241 230.8 L1242.1 229.3 L1243.2 227.7 L1244.4 226.2 L1245.6 224.7 L1246.8 223.1 L1248.1 221.6 L1249.3 220 L1250.6 218.5 L1251.8 217 L1253 215.4 L1254.3 213.9 L1255.4 212.3 L1256.6 210.8 L1257.7 209.3 L1258.7 207.7 L1259.7 206.2 L1260.6 204.6 L1261.4 203.1 L1262.1 201.6 L1262.7 200 L1263.3 198.5 L1263.7 196.9 L1264 195.4 L1264.2 193.9 L1264.3 192.3 L1264.3 190.8 L1264.1 189.2 L1263.8 187.7 L1263.5 186.2 L1263 184.6 L1262.3 183.1 L1261.6 181.5 L1260.8 180 L1259.9 178.5 L1258.9 176.9 L1257.8 175.4 L1256.6 173.8 L1255.4 172.3 L1254.1 170.8 L1252.8 169.2 L1251.4 167.7 L1250 166.2 L1248.6 164.6 L1247.1 163.1 L1245.6 161.5 L1244.2 160 L1242.7 158.5 L1241.3 156.9 L1239.9 155.4 L1238.5 153.8 L1237.1 152.3 L1235.8 150.8 L1234.5 149.2 L1233.3 147.7 L1232.1 146.1 L1231 144.6 L1229.9 143.1 L1228.9 141.5 L1228 140 L1227.1 138.4 L1226.2 136.9 L1225.4 135.4 L1224.6 133.8 L1223.9 132.3 L1223.2 130.7 L1222.5 129.2 L1221.9 127.7 L1221.3 126.1 L1220.7 124.6 L1220.1 123 L1219.5 121.5 L1219 120 L1218.4 118.4 L1217.9 116.9 L1217.3 115.3 L1216.7 113.8 L1216.1 112.3 L1215.5 110.7 L1214.8 109.2 L1214.1 107.7 L1213.4 106.1 L1212.7 104.6 L1212 103 L1211.2 101.5 L1210.4 100 L1209.5 98.4 L1208.7 96.9 L1207.8 95.3 L1206.9 93.8 L1206 92.3 L1205 90.7 L1204.1 89.2 L1203.1 87.6 L1202.1 86.1 L1201.1 84.6 L1200.1 83" fill="none" stroke="#000" stroke-width="1.9" stroke-linejoin="round"/>
<text class="pl" transform="translate(650.8 33.8) scale(1 1.045)">B</text>
</g>
<g>
<rect x="1387.1" y="80.8" width="465.8" height="336.5" fill="#fff"/>
<path d="M1427.6 80.8V417.3" stroke="#efefef" stroke-width="1"/><path d="M1583.1 80.8V417.3" stroke="#efefef" stroke-width="1"/><path d="M1738.7 80.8V417.3" stroke="#efefef" stroke-width="1"/><path d="M1387.1 405.6H1852.9" stroke="#efefef" stroke-width="1"/><path d="M1387.1 314.3H1852.9" stroke="#efefef" stroke-width="1"/><path d="M1387.1 223H1852.9" stroke="#efefef" stroke-width="1"/><path d="M1387.1 131.7H1852.9" stroke="#efefef" stroke-width="1"/><path d="M1505.3 80.8V417.3" stroke="#e6e6e6" stroke-width="1.4"/><path d="M1660.9 80.8V417.3" stroke="#e6e6e6" stroke-width="1.4"/><path d="M1816.5 80.8V417.3" stroke="#e6e6e6" stroke-width="1.4"/><path d="M1387.1 360H1852.9" stroke="#e6e6e6" stroke-width="1.4"/><path d="M1387.1 268.7H1852.9" stroke="#e6e6e6" stroke-width="1.4"/><path d="M1387.1 177.4H1852.9" stroke="#e6e6e6" stroke-width="1.4"/><path d="M1387.1 86.1H1852.9" stroke="#e6e6e6" stroke-width="1.4"/>
<g fill="#000"><ellipse cx="1423.2" cy="347.3" rx="4.3" ry="3.05"/><ellipse cx="1617.4" cy="350.1" rx="4.3" ry="3.05"/><ellipse cx="1707" cy="335.5" rx="4.3" ry="3.05"/><ellipse cx="1651.7" cy="352.9" rx="4.3" ry="3.05"/><ellipse cx="1514.4" cy="345.4" rx="4.3" ry="3.05"/><ellipse cx="1408.3" cy="353.4" rx="4.3" ry="3.05"/><ellipse cx="1761.7" cy="336.4" rx="4.3" ry="3.05"/><ellipse cx="1510.9" cy="351" rx="4.3" ry="3.05"/><ellipse cx="1617.4" cy="356.2" rx="4.3" ry="3.05"/><ellipse cx="1729.1" cy="338.8" rx="4.3" ry="3.05"/><ellipse cx="1421" cy="351" rx="4.3" ry="3.05"/><ellipse cx="1473.6" cy="315.7" rx="4.3" ry="3.05"/><ellipse cx="1770.7" cy="314.3" rx="4.3" ry="3.05"/><ellipse cx="1729.1" cy="337.9" rx="4.3" ry="3.05"/><ellipse cx="1476.1" cy="339.3" rx="4.3" ry="3.05"/><ellipse cx="1537.7" cy="150" rx="4.3" ry="3.05"/><ellipse cx="1647.1" cy="96.1" rx="4.3" ry="3.05"/><ellipse cx="1831.7" cy="209.2" rx="4.3" ry="3.05"/></g>
<path d="M1408.3 265.4 L1413.6 266.1 L1419 266.7 L1424.4 267.3 L1429.7 267.9 L1435.1 268.5 L1440.4 269.1 L1445.8 269.6 L1451.2 270.1 L1456.5 270.6 L1461.9 271.1 L1467.2 271.6 L1472.6 272.1 L1478 272.5 L1483.3 272.9 L1488.7 273.3 L1494 273.6 L1499.4 274 L1504.8 274.2 L1510.1 274.5 L1515.5 274.7 L1520.8 274.9 L1526.2 275.1 L1531.6 275.2 L1536.9 275.2 L1542.3 275.2 L1547.6 275.2 L1553 275.1 L1558.4 275 L1563.7 274.8 L1569.1 274.5 L1574.4 274.2 L1579.8 273.8 L1585.2 273.4 L1590.5 272.9 L1595.9 272.4 L1601.2 271.7 L1606.6 271 L1612 270.3 L1617.3 269.5 L1622.7 268.6 L1628 267.7 L1633.4 266.7 L1638.8 265.6 L1644.1 264.5 L1649.5 263.3 L1654.8 262.1 L1660.2 260.8 L1665.6 259.5 L1670.9 258.2 L1676.3 256.7 L1681.6 255.3 L1687 253.8 L1692.4 252.3 L1697.7 250.7 L1703.1 249.1 L1708.4 247.5 L1713.8 245.8 L1719.2 244.1 L1724.5 242.4 L1729.9 240.7 L1735.2 238.9 L1740.6 237.1 L1746 235.3 L1751.3 233.5 L1756.7 231.6 L1762 229.8 L1767.4 227.9 L1772.8 226 L1778.1 224.1 L1783.5 222.2 L1788.8 220.2 L1794.2 218.3 L1799.6 216.3 L1804.9 214.4 L1810.3 212.4 L1815.6 210.4 L1821 208.4 L1826.4 206.4 L1831.7 204.4 L1831.7 359.3 L1826.4 358.6 L1821 357.9 L1815.6 357.2 L1810.3 356.5 L1804.9 355.8 L1799.6 355.2 L1794.2 354.5 L1788.8 353.9 L1783.5 353.3 L1778.1 352.7 L1772.8 352.1 L1767.4 351.5 L1762 350.9 L1756.7 350.4 L1751.3 349.9 L1746 349.4 L1740.6 348.9 L1735.2 348.4 L1729.9 347.9 L1724.5 347.5 L1719.2 347.1 L1713.8 346.7 L1708.4 346.4 L1703.1 346.1 L1697.7 345.8 L1692.4 345.5 L1687 345.3 L1681.6 345.1 L1676.3 345 L1670.9 344.9 L1665.6 344.9 L1660.2 344.8 L1654.8 344.9 L1649.5 345 L1644.1 345.1 L1638.8 345.3 L1633.4 345.6 L1628 345.9 L1622.7 346.3 L1617.3 346.7 L1612 347.2 L1606.6 347.8 L1601.2 348.4 L1595.9 349.1 L1590.5 349.9 L1585.2 350.7 L1579.8 351.6 L1574.4 352.5 L1569.1 353.5 L1563.7 354.6 L1558.4 355.7 L1553 356.9 L1547.6 358.1 L1542.3 359.4 L1536.9 360.7 L1531.6 362.1 L1526.2 363.5 L1520.8 364.9 L1515.5 366.4 L1510.1 368 L1504.8 369.6 L1499.4 371.2 L1494 372.8 L1488.7 374.5 L1483.3 376.1 L1478 377.9 L1472.6 379.6 L1467.2 381.4 L1461.9 383.2 L1456.5 385 L1451.2 386.8 L1445.8 388.7 L1440.4 390.5 L1435.1 392.4 L1429.7 394.3 L1424.4 396.2 L1419 398.1 L1413.6 400.1 L1408.3 402Z" fill="#999" fill-opacity="0.4"/>
<path d="M1408.3 333.7L1831.7 281.8" stroke="#3063ff" stroke-width="2.9" fill="none"/>
<rect x="1387.1" y="80.8" width="465.8" height="336.5" fill="none" stroke="#404040" stroke-width="1.3"/>
<path d="M1505.3 417.3v3.6" stroke="#333" stroke-width="1.5"/><text transform="translate(1505.3 431.9) scale(1.415 1)" font-size="11.0" text-anchor="middle" fill="#4d4d4d" stroke="#4d4d4d">15</text><path d="M1660.9 417.3v3.6" stroke="#333" stroke-width="1.5"/><text transform="translate(1660.9 431.9) scale(1.415 1)" font-size="11.0" text-anchor="middle" fill="#4d4d4d" stroke="#4d4d4d">20</text><path d="M1816.5 417.3v3.6" stroke="#333" stroke-width="1.5"/><text transform="translate(1816.5 431.9) scale(1.415 1)" font-size="11.0" text-anchor="middle" fill="#4d4d4d" stroke="#4d4d4d">25</text><path d="M1387.1 360h-5" stroke="#333" stroke-width="1.5"/><text transform="translate(1377.5 363.9) scale(1.415 1)" font-size="11.0" text-anchor="end" fill="#4d4d4d" stroke="#4d4d4d">0</text><path d="M1387.1 268.7h-5" stroke="#333" stroke-width="1.5"/><text transform="translate(1377.5 272.6) scale(1.415 1)" font-size="11.0" text-anchor="end" fill="#4d4d4d" stroke="#4d4d4d">5000</text><path d="M1387.1 177.4h-5" stroke="#333" stroke-width="1.5"/><text transform="translate(1377.5 181.3) scale(1.415 1)" font-size="11.0" text-anchor="end" fill="#4d4d4d" stroke="#4d4d4d">10000</text><path d="M1387.1 86.1h-5" stroke="#333" stroke-width="1.5"/><text transform="translate(1377.5 90) scale(1.415 1)" font-size="11.0" text-anchor="end" fill="#4d4d4d" stroke="#4d4d4d">15000</text>
<text transform="translate(1620 446.9) scale(1.415 1)" font-size="13.8" text-anchor="middle" fill="#000" stroke="#000">CXCL8</text>
<text transform="translate(1323.5 249.1) rotate(-90) scale(1 1.415)" font-size="13.8" text-anchor="middle" fill="#000" stroke="#000">NT−proBNP</text>
<text xml:space="preserve" transform="translate(1408.3 94.6) scale(1.415 1)" font-size="13.8" fill="#000" stroke="#000"><tspan font-style="italic">R</tspan> = 0.48, <tspan font-style="italic">p</tspan> = 0.047</text>
<path d="M1408.3 77.5 L1408.3 32.3 L1410.4 31.5 L1412.5 30.7 L1414.7 29.9 L1416.8 29.1 L1418.9 28.4 L1421 27.6 L1423.2 26.9 L1425.3 26.2 L1427.4 25.5 L1429.6 24.8 L1431.7 24.2 L1433.8 23.6 L1435.9 23 L1438.1 22.4 L1440.2 21.8 L1442.3 21.3 L1444.4 20.8 L1446.6 20.3 L1448.7 19.9 L1450.8 19.4 L1453 19 L1455.1 18.7 L1457.2 18.3 L1459.3 18 L1461.5 17.7 L1463.6 17.4 L1465.7 17.1 L1467.9 16.9 L1470 16.7 L1472.1 16.5 L1474.2 16.4 L1476.4 16.2 L1478.5 16.1 L1480.6 16.1 L1482.7 16 L1484.9 16 L1487 15.9 L1489.1 15.9 L1491.3 16 L1493.4 16 L1495.5 16 L1497.6 16.1 L1499.8 16.2 L1501.9 16.3 L1504 16.4 L1506.2 16.6 L1508.3 16.7 L1510.4 16.9 L1512.5 17 L1514.7 17.2 L1516.8 17.4 L1518.9 17.6 L1521.1 17.8 L1523.2 18 L1525.3 18.2 L1527.4 18.4 L1529.6 18.6 L1531.7 18.8 L1533.8 19 L1535.9 19.2 L1538.1 19.4 L1540.2 19.6 L1542.3 19.8 L1544.5 20 L1546.6 20.2 L1548.7 20.4 L1550.8 20.5 L1553 20.7 L1555.1 20.9 L1557.2 21 L1559.4 21.2 L1561.5 21.3 L1563.6 21.4 L1565.7 21.5 L1567.9 21.6 L1570 21.7 L1572.1 21.7 L1574.2 21.8 L1576.4 21.9 L1578.5 21.9 L1580.6 21.9 L1582.8 21.9 L1584.9 21.9 L1587 21.9 L1589.1 21.9 L1591.3 21.8 L1593.4 21.8 L1595.5 21.7 L1597.7 21.6 L1599.8 21.6 L1601.9 21.5 L1604 21.4 L1606.2 21.2 L1608.3 21.1 L1610.4 21 L1612.6 20.9 L1614.7 20.7 L1616.8 20.6 L1618.9 20.4 L1621.1 20.2 L1623.2 20.1 L1625.3 19.9 L1627.4 19.7 L1629.6 19.6 L1631.7 19.4 L1633.8 19.2 L1636 19 L1638.1 18.8 L1640.2 18.7 L1642.3 18.5 L1644.5 18.3 L1646.6 18.1 L1648.7 18 L1650.9 17.8 L1653 17.6 L1655.1 17.5 L1657.2 17.3 L1659.4 17.2 L1661.5 17 L1663.6 16.9 L1665.8 16.7 L1667.9 16.6 L1670 16.5 L1672.1 16.4 L1674.3 16.3 L1676.4 16.2 L1678.5 16.1 L1680.6 16.1 L1682.8 16 L1684.9 16 L1687 15.9 L1689.2 15.9 L1691.3 15.9 L1693.4 15.9 L1695.5 15.9 L1697.7 16 L1699.8 16 L1701.9 16.1 L1704.1 16.1 L1706.2 16.2 L1708.3 16.3 L1710.4 16.5 L1712.6 16.6 L1714.7 16.8 L1716.8 16.9 L1718.9 17.1 L1721.1 17.4 L1723.2 17.6 L1725.3 17.8 L1727.5 18.1 L1729.6 18.4 L1731.7 18.7 L1733.8 19 L1736 19.3 L1738.1 19.7 L1740.2 20.1 L1742.4 20.5 L1744.5 20.9 L1746.6 21.3 L1748.7 21.8 L1750.9 22.3 L1753 22.8 L1755.1 23.3 L1757.3 23.8 L1759.4 24.3 L1761.5 24.9 L1763.6 25.5 L1765.8 26.1 L1767.9 26.7 L1770 27.3 L1772.1 27.9 L1774.3 28.6 L1776.4 29.2 L1778.5 29.9 L1780.7 30.6 L1782.8 31.3 L1784.9 32 L1787 32.7 L1789.2 33.5 L1791.3 34.2 L1793.4 35 L1795.6 35.7 L1797.7 36.5 L1799.8 37.3 L1801.9 38 L1804.1 38.8 L1806.2 39.6 L1808.3 40.4 L1810.4 41.2 L1812.6 41.9 L1814.7 42.7 L1816.8 43.5 L1819 44.3 L1821.1 45.1 L1823.2 45.9 L1825.3 46.7 L1827.5 47.4 L1829.6 48.2 L1831.7 49 L1831.7 77.5Z" fill="#ffa500"/>
<path d="M1408.3 32.3 L1410.4 31.5 L1412.5 30.7 L1414.7 29.9 L1416.8 29.1 L1418.9 28.4 L1421 27.6 L1423.2 26.9 L1425.3 26.2 L1427.4 25.5 L1429.6 24.8 L1431.7 24.2 L1433.8 23.6 L1435.9 23 L1438.1 22.4 L1440.2 21.8 L1442.3 21.3 L1444.4 20.8 L1446.6 20.3 L1448.7 19.9 L1450.8 19.4 L1453 19 L1455.1 18.7 L1457.2 18.3 L1459.3 18 L1461.5 17.7 L1463.6 17.4 L1465.7 17.1 L1467.9 16.9 L1470 16.7 L1472.1 16.5 L1474.2 16.4 L1476.4 16.2 L1478.5 16.1 L1480.6 16.1 L1482.7 16 L1484.9 16 L1487 15.9 L1489.1 15.9 L1491.3 16 L1493.4 16 L1495.5 16 L1497.6 16.1 L1499.8 16.2 L1501.9 16.3 L1504 16.4 L1506.2 16.6 L1508.3 16.7 L1510.4 16.9 L1512.5 17 L1514.7 17.2 L1516.8 17.4 L1518.9 17.6 L1521.1 17.8 L1523.2 18 L1525.3 18.2 L1527.4 18.4 L1529.6 18.6 L1531.7 18.8 L1533.8 19 L1535.9 19.2 L1538.1 19.4 L1540.2 19.6 L1542.3 19.8 L1544.5 20 L1546.6 20.2 L1548.7 20.4 L1550.8 20.5 L1553 20.7 L1555.1 20.9 L1557.2 21 L1559.4 21.2 L1561.5 21.3 L1563.6 21.4 L1565.7 21.5 L1567.9 21.6 L1570 21.7 L1572.1 21.7 L1574.2 21.8 L1576.4 21.9 L1578.5 21.9 L1580.6 21.9 L1582.8 21.9 L1584.9 21.9 L1587 21.9 L1589.1 21.9 L1591.3 21.8 L1593.4 21.8 L1595.5 21.7 L1597.7 21.6 L1599.8 21.6 L1601.9 21.5 L1604 21.4 L1606.2 21.2 L1608.3 21.1 L1610.4 21 L1612.6 20.9 L1614.7 20.7 L1616.8 20.6 L1618.9 20.4 L1621.1 20.2 L1623.2 20.1 L1625.3 19.9 L1627.4 19.7 L1629.6 19.6 L1631.7 19.4 L1633.8 19.2 L1636 19 L1638.1 18.8 L1640.2 18.7 L1642.3 18.5 L1644.5 18.3 L1646.6 18.1 L1648.7 18 L1650.9 17.8 L1653 17.6 L1655.1 17.5 L1657.2 17.3 L1659.4 17.2 L1661.5 17 L1663.6 16.9 L1665.8 16.7 L1667.9 16.6 L1670 16.5 L1672.1 16.4 L1674.3 16.3 L1676.4 16.2 L1678.5 16.1 L1680.6 16.1 L1682.8 16 L1684.9 16 L1687 15.9 L1689.2 15.9 L1691.3 15.9 L1693.4 15.9 L1695.5 15.9 L1697.7 16 L1699.8 16 L1701.9 16.1 L1704.1 16.1 L1706.2 16.2 L1708.3 16.3 L1710.4 16.5 L1712.6 16.6 L1714.7 16.8 L1716.8 16.9 L1718.9 17.1 L1721.1 17.4 L1723.2 17.6 L1725.3 17.8 L1727.5 18.1 L1729.6 18.4 L1731.7 18.7 L1733.8 19 L1736 19.3 L1738.1 19.7 L1740.2 20.1 L1742.4 20.5 L1744.5 20.9 L1746.6 21.3 L1748.7 21.8 L1750.9 22.3 L1753 22.8 L1755.1 23.3 L1757.3 23.8 L1759.4 24.3 L1761.5 24.9 L1763.6 25.5 L1765.8 26.1 L1767.9 26.7 L1770 27.3 L1772.1 27.9 L1774.3 28.6 L1776.4 29.2 L1778.5 29.9 L1780.7 30.6 L1782.8 31.3 L1784.9 32 L1787 32.7 L1789.2 33.5 L1791.3 34.2 L1793.4 35 L1795.6 35.7 L1797.7 36.5 L1799.8 37.3 L1801.9 38 L1804.1 38.8 L1806.2 39.6 L1808.3 40.4 L1810.4 41.2 L1812.6 41.9 L1814.7 42.7 L1816.8 43.5 L1819 44.3 L1821.1 45.1 L1823.2 45.9 L1825.3 46.7 L1827.5 47.4 L1829.6 48.2 L1831.7 49" fill="none" stroke="#0a0a14" stroke-width="1.7" stroke-linejoin="round"/>
<path d="M1857.7 402 L1857.7 402 L1857.7 400.5 L1857.7 398.9 L1857.7 397.4 L1857.7 395.9 L1857.8 394.3 L1857.8 392.8 L1857.9 391.2 L1858 389.7 L1858.1 388.2 L1858.3 386.6 L1858.6 385.1 L1859 383.6 L1859.6 382 L1860.3 380.5 L1861.3 378.9 L1862.6 377.4 L1864.3 375.9 L1866.3 374.3 L1868.8 372.8 L1871.8 371.3 L1875.4 369.7 L1879.4 368.2 L1884 366.6 L1889 365.1 L1894.5 363.6 L1900.2 362 L1906.1 360.5 L1912.1 359 L1917.9 357.4 L1923.4 355.9 L1928.5 354.4 L1932.9 352.8 L1936.6 351.3 L1939.5 349.7 L1941.4 348.2 L1942.4 346.7 L1942.4 345.1 L1941.5 343.6 L1939.6 342.1 L1937 340.5 L1933.7 339 L1929.8 337.4 L1925.5 335.9 L1921 334.4 L1916.3 332.8 L1911.6 331.3 L1907.1 329.8 L1902.8 328.2 L1898.8 326.7 L1895.1 325.1 L1891.9 323.6 L1889 322.1 L1886.5 320.5 L1884.2 319 L1882.2 317.5 L1880.4 315.9 L1878.7 314.4 L1877.1 312.8 L1875.4 311.3 L1873.8 309.8 L1872.3 308.2 L1870.7 306.7 L1869.1 305.2 L1867.6 303.6 L1866.2 302.1 L1864.8 300.5 L1863.6 299 L1862.5 297.5 L1861.6 295.9 L1860.7 294.4 L1860.1 292.9 L1859.5 291.3 L1859 289.8 L1858.7 288.2 L1858.4 286.7 L1858.2 285.2 L1858 283.6 L1857.9 282.1 L1857.9 280.6 L1857.8 279 L1857.8 277.5 L1857.7 276 L1857.7 274.4 L1857.7 272.9 L1857.7 271.3 L1857.7 269.8 L1857.7 268.3 L1857.7 266.7 L1857.7 265.2 L1857.7 263.7 L1857.7 262.1 L1857.7 260.6 L1857.7 259 L1857.7 257.5 L1857.7 256 L1857.7 254.4 L1857.7 252.9 L1857.7 251.4 L1857.7 249.8 L1857.7 248.3 L1857.7 246.7 L1857.8 245.2 L1857.8 243.7 L1857.8 242.1 L1857.9 240.6 L1857.9 239.1 L1858 237.5 L1858.2 236 L1858.4 234.4 L1858.6 232.9 L1858.9 231.4 L1859.2 229.8 L1859.6 228.3 L1860.1 226.8 L1860.6 225.2 L1861.2 223.7 L1861.8 222.1 L1862.4 220.6 L1863 219.1 L1863.7 217.5 L1864.2 216 L1864.7 214.5 L1865.1 212.9 L1865.4 211.4 L1865.5 209.9 L1865.5 208.3 L1865.3 206.8 L1865 205.2 L1864.6 203.7 L1864.1 202.2 L1863.6 200.6 L1862.9 199.1 L1862.3 197.6 L1861.7 196 L1861.1 194.5 L1860.5 192.9 L1860 191.4 L1859.5 189.9 L1859.2 188.3 L1858.9 186.8 L1858.6 185.3 L1858.4 183.7 L1858.3 182.2 L1858.2 180.6 L1858.2 179.1 L1858.3 177.6 L1858.4 176 L1858.5 174.5 L1858.8 173 L1859 171.4 L1859.4 169.9 L1859.8 168.3 L1860.3 166.8 L1860.8 165.3 L1861.4 163.7 L1862.1 162.2 L1862.7 160.7 L1863.3 159.1 L1863.9 157.6 L1864.5 156 L1864.9 154.5 L1865.2 153 L1865.4 151.4 L1865.5 149.9 L1865.4 148.4 L1865.2 146.8 L1864.9 145.3 L1864.4 143.7 L1863.9 142.2 L1863.3 140.7 L1862.7 139.1 L1862 137.6 L1861.4 136.1 L1860.8 134.5 L1860.3 133 L1859.8 131.5 L1859.4 129.9 L1859.1 128.4 L1858.9 126.8 L1858.7 125.3 L1858.6 123.8 L1858.6 122.2 L1858.7 120.7 L1858.9 119.2 L1859.1 117.6 L1859.4 116.1 L1859.8 114.5 L1860.3 113 L1860.8 111.5 L1861.4 109.9 L1862 108.4 L1862.7 106.9 L1863.3 105.3 L1863.9 103.8 L1864.4 102.2 L1864.9 100.7 L1865.2 99.2 L1865.4 97.6 L1865.5 96.1 L1857.7 96.1Z" fill="#0000ff"/>
<path d="M1857.7 402 L1857.7 400.5 L1857.7 398.9 L1857.7 397.4 L1857.7 395.9 L1857.8 394.3 L1857.8 392.8 L1857.9 391.2 L1858 389.7 L1858.1 388.2 L1858.3 386.6 L1858.6 385.1 L1859 383.6 L1859.6 382 L1860.3 380.5 L1861.3 378.9 L1862.6 377.4 L1864.3 375.9 L1866.3 374.3 L1868.8 372.8 L1871.8 371.3 L1875.4 369.7 L1879.4 368.2 L1884 366.6 L1889 365.1 L1894.5 363.6 L1900.2 362 L1906.1 360.5 L1912.1 359 L1917.9 357.4 L1923.4 355.9 L1928.5 354.4 L1932.9 352.8 L1936.6 351.3 L1939.5 349.7 L1941.4 348.2 L1942.4 346.7 L1942.4 345.1 L1941.5 343.6 L1939.6 342.1 L1937 340.5 L1933.7 339 L1929.8 337.4 L1925.5 335.9 L1921 334.4 L1916.3 332.8 L1911.6 331.3 L1907.1 329.8 L1902.8 328.2 L1898.8 326.7 L1895.1 325.1 L1891.9 323.6 L1889 322.1 L1886.5 320.5 L1884.2 319 L1882.2 317.5 L1880.4 315.9 L1878.7 314.4 L1877.1 312.8 L1875.4 311.3 L1873.8 309.8 L1872.3 308.2 L1870.7 306.7 L1869.1 305.2 L1867.6 303.6 L1866.2 302.1 L1864.8 300.5 L1863.6 299 L1862.5 297.5 L1861.6 295.9 L1860.7 294.4 L1860.1 292.9 L1859.5 291.3 L1859 289.8 L1858.7 288.2 L1858.4 286.7 L1858.2 285.2 L1858 283.6 L1857.9 282.1 L1857.9 280.6 L1857.8 279 L1857.8 277.5 L1857.7 276 L1857.7 274.4 L1857.7 272.9 L1857.7 271.3 L1857.7 269.8 L1857.7 268.3 L1857.7 266.7 L1857.7 265.2 L1857.7 263.7 L1857.7 262.1 L1857.7 260.6 L1857.7 259 L1857.7 257.5 L1857.7 256 L1857.7 254.4 L1857.7 252.9 L1857.7 251.4 L1857.7 249.8 L1857.7 248.3 L1857.7 246.7 L1857.8 245.2 L1857.8 243.7 L1857.8 242.1 L1857.9 240.6 L1857.9 239.1 L1858 237.5 L1858.2 236 L1858.4 234.4 L1858.6 232.9 L1858.9 231.4 L1859.2 229.8 L1859.6 228.3 L1860.1 226.8 L1860.6 225.2 L1861.2 223.7 L1861.8 222.1 L1862.4 220.6 L1863 219.1 L1863.7 217.5 L1864.2 216 L1864.7 214.5 L1865.1 212.9 L1865.4 211.4 L1865.5 209.9 L1865.5 208.3 L1865.3 206.8 L1865 205.2 L1864.6 203.7 L1864.1 202.2 L1863.6 200.6 L1862.9 199.1 L1862.3 197.6 L1861.7 196 L1861.1 194.5 L1860.5 192.9 L1860 191.4 L1859.5 189.9 L1859.2 188.3 L1858.9 186.8 L1858.6 185.3 L1858.4 183.7 L1858.3 182.2 L1858.2 180.6 L1858.2 179.1 L1858.3 177.6 L1858.4 176 L1858.5 174.5 L1858.8 173 L1859 171.4 L1859.4 169.9 L1859.8 168.3 L1860.3 166.8 L1860.8 165.3 L1861.4 163.7 L1862.1 162.2 L1862.7 160.7 L1863.3 159.1 L1863.9 157.6 L1864.5 156 L1864.9 154.5 L1865.2 153 L1865.4 151.4 L1865.5 149.9 L1865.4 148.4 L1865.2 146.8 L1864.9 145.3 L1864.4 143.7 L1863.9 142.2 L1863.3 140.7 L1862.7 139.1 L1862 137.6 L1861.4 136.1 L1860.8 134.5 L1860.3 133 L1859.8 131.5 L1859.4 129.9 L1859.1 128.4 L1858.9 126.8 L1858.7 125.3 L1858.6 123.8 L1858.6 122.2 L1858.7 120.7 L1858.9 119.2 L1859.1 117.6 L1859.4 116.1 L1859.8 114.5 L1860.3 113 L1860.8 111.5 L1861.4 109.9 L1862 108.4 L1862.7 106.9 L1863.3 105.3 L1863.9 103.8 L1864.4 102.2 L1864.9 100.7 L1865.2 99.2 L1865.4 97.6 L1865.5 96.1" fill="none" stroke="#000" stroke-width="1.9" stroke-linejoin="round"/>
<text class="pl" transform="translate(1329.5 34) scale(1 1.045)">C</text>
</g>
<g>
<rect x="51.1" y="526.1" width="469.1" height="337" fill="#fff"/>
<path d="M91.8 526.1V863.1" stroke="#efefef" stroke-width="1"/><path d="M248.5 526.1V863.1" stroke="#efefef" stroke-width="1"/><path d="M405.2 526.1V863.1" stroke="#efefef" stroke-width="1"/><path d="M51.1 855.8H520.2" stroke="#efefef" stroke-width="1"/><path d="M51.1 775.3H520.2" stroke="#efefef" stroke-width="1"/><path d="M51.1 694.8H520.2" stroke="#efefef" stroke-width="1"/><path d="M51.1 614.2H520.2" stroke="#efefef" stroke-width="1"/><path d="M51.1 533.7H520.2" stroke="#efefef" stroke-width="1"/><path d="M170.2 526.1V863.1" stroke="#e6e6e6" stroke-width="1.4"/><path d="M326.9 526.1V863.1" stroke="#e6e6e6" stroke-width="1.4"/><path d="M483.5 526.1V863.1" stroke="#e6e6e6" stroke-width="1.4"/><path d="M51.1 815.6H520.2" stroke="#e6e6e6" stroke-width="1.4"/><path d="M51.1 735H520.2" stroke="#e6e6e6" stroke-width="1.4"/><path d="M51.1 654.5H520.2" stroke="#e6e6e6" stroke-width="1.4"/><path d="M51.1 574H520.2" stroke="#e6e6e6" stroke-width="1.4"/>
<g fill="#000"><ellipse cx="87.5" cy="783.4" rx="4.1" ry="3.05"/><ellipse cx="283" cy="767.3" rx="4.1" ry="3.05"/><ellipse cx="373.2" cy="654.5" rx="4.1" ry="3.05"/><ellipse cx="317.6" cy="686.7" rx="4.1" ry="3.05"/><ellipse cx="179.3" cy="686.7" rx="4.1" ry="3.05"/><ellipse cx="72.4" cy="847.8" rx="4.1" ry="3.05"/><ellipse cx="428.4" cy="686.7" rx="4.1" ry="3.05"/><ellipse cx="175.8" cy="670.6" rx="4.1" ry="3.05"/><ellipse cx="283" cy="767.3" rx="4.1" ry="3.05"/><ellipse cx="395.5" cy="735" rx="4.1" ry="3.05"/><ellipse cx="85.3" cy="799.5" rx="4.1" ry="3.05"/><ellipse cx="138.2" cy="557.9" rx="4.1" ry="3.05"/><ellipse cx="437.5" cy="557.9" rx="4.1" ry="3.05"/><ellipse cx="395.5" cy="654.5" rx="4.1" ry="3.05"/><ellipse cx="140.7" cy="654.5" rx="4.1" ry="3.05"/><ellipse cx="202.8" cy="654.5" rx="4.1" ry="3.05"/><ellipse cx="312.9" cy="622.3" rx="4.1" ry="3.05"/><ellipse cx="498.9" cy="574" rx="4.1" ry="3.05"/></g>
<path d="M72.4 679.1 L77.8 678.7 L83.2 678.3 L88.6 677.9 L94 677.5 L99.4 677.1 L104.8 676.6 L110.2 676.2 L115.6 675.7 L121 675.2 L126.4 674.7 L131.8 674.2 L137.2 673.6 L142.6 673 L148 672.5 L153.4 671.8 L158.8 671.2 L164.2 670.5 L169.6 669.8 L175 669.1 L180.4 668.3 L185.8 667.5 L191.2 666.6 L196.6 665.7 L202 664.8 L207.4 663.8 L212.8 662.8 L218.2 661.7 L223.6 660.6 L229 659.4 L234.4 658.2 L239.8 656.9 L245.2 655.5 L250.6 654.1 L256 652.6 L261.4 651.1 L266.8 649.5 L272.2 647.9 L277.6 646.1 L283 644.4 L288.3 642.5 L293.7 640.6 L299.1 638.7 L304.5 636.6 L309.9 634.6 L315.3 632.4 L320.7 630.3 L326.1 628 L331.5 625.8 L336.9 623.4 L342.3 621.1 L347.7 618.7 L353.1 616.2 L358.5 613.8 L363.9 611.2 L369.3 608.7 L374.7 606.1 L380.1 603.5 L385.5 600.9 L390.9 598.2 L396.3 595.5 L401.7 592.8 L407.1 590.1 L412.5 587.3 L417.9 584.6 L423.3 581.8 L428.7 579 L434.1 576.2 L439.5 573.3 L444.9 570.5 L450.3 567.6 L455.7 564.8 L461.1 561.9 L466.5 559 L471.9 556.1 L477.3 553.2 L482.7 550.2 L488.1 547.3 L493.5 544.4 L498.9 541.4 L498.9 692.1 L493.5 692.4 L488.1 692.7 L482.7 693 L477.3 693.4 L471.9 693.7 L466.5 694.1 L461.1 694.4 L455.7 694.8 L450.3 695.2 L444.9 695.6 L439.5 696 L434.1 696.4 L428.7 696.9 L423.3 697.3 L417.9 697.8 L412.5 698.3 L407.1 698.8 L401.7 699.3 L396.3 699.9 L390.9 700.5 L385.5 701.1 L380.1 701.7 L374.7 702.3 L369.3 703 L363.9 703.7 L358.5 704.5 L353.1 705.3 L347.7 706.1 L342.3 706.9 L336.9 707.8 L331.5 708.8 L326.1 709.7 L320.7 710.8 L315.3 711.9 L309.9 713 L304.5 714.2 L299.1 715.4 L293.7 716.7 L288.3 718.1 L283 719.5 L277.6 721 L272.2 722.5 L266.8 724.1 L261.4 725.8 L256 727.5 L250.6 729.3 L245.2 731.1 L239.8 733 L234.4 735 L229 737 L223.6 739.1 L218.2 741.3 L212.8 743.4 L207.4 745.7 L202 747.9 L196.6 750.3 L191.2 752.6 L185.8 755.1 L180.4 757.5 L175 760 L169.6 762.5 L164.2 765.1 L158.8 767.6 L153.4 770.2 L148 772.9 L142.6 775.5 L137.2 778.2 L131.8 780.9 L126.4 783.7 L121 786.4 L115.6 789.2 L110.2 792 L104.8 794.8 L99.4 797.6 L94 800.4 L88.6 803.3 L83.2 806.1 L77.8 809 L72.4 811.9Z" fill="#999" fill-opacity="0.4"/>
<path d="M72.4 745.5L498.9 616.7" stroke="#3063ff" stroke-width="2.9" fill="none"/>
<rect x="51.1" y="526.1" width="469.1" height="337" fill="none" stroke="#404040" stroke-width="1.3"/>
<path d="M170.2 863.1v3.6" stroke="#333" stroke-width="1.5"/><text transform="translate(170.2 877.7) scale(1.36 1)" font-size="11.0" text-anchor="middle" fill="#4d4d4d" stroke="#4d4d4d">15</text><path d="M326.9 863.1v3.6" stroke="#333" stroke-width="1.5"/><text transform="translate(326.9 877.7) scale(1.36 1)" font-size="11.0" text-anchor="middle" fill="#4d4d4d" stroke="#4d4d4d">20</text><path d="M483.5 863.1v3.6" stroke="#333" stroke-width="1.5"/><text transform="translate(483.5 877.7) scale(1.36 1)" font-size="11.0" text-anchor="middle" fill="#4d4d4d" stroke="#4d4d4d">25</text><path d="M51.1 815.6h-5" stroke="#333" stroke-width="1.5"/><text transform="translate(41.5 819.5) scale(1.36 1)" font-size="11.0" text-anchor="end" fill="#4d4d4d" stroke="#4d4d4d">50</text><path d="M51.1 735h-5" stroke="#333" stroke-width="1.5"/><text transform="translate(41.5 738.9) scale(1.36 1)" font-size="11.0" text-anchor="end" fill="#4d4d4d" stroke="#4d4d4d">55</text><path d="M51.1 654.5h-5" stroke="#333" stroke-width="1.5"/><text transform="translate(41.5 658.4) scale(1.36 1)" font-size="11.0" text-anchor="end" fill="#4d4d4d" stroke="#4d4d4d">60</text><path d="M51.1 574h-5" stroke="#333" stroke-width="1.5"/><text transform="translate(41.5 577.9) scale(1.36 1)" font-size="11.0" text-anchor="end" fill="#4d4d4d" stroke="#4d4d4d">65</text>
<text transform="translate(285.7 892.7) scale(1.36 1)" font-size="13.8" text-anchor="middle" fill="#000" stroke="#000">CXCL8</text>
<text transform="translate(16 694.6) rotate(-90) scale(1 1.36)" font-size="13.8" text-anchor="middle" fill="#000" stroke="#000">LVEDD</text>
<text xml:space="preserve" transform="translate(72.4 539.3) scale(1.36 1)" font-size="13.8" fill="#000" stroke="#000"><tspan font-style="italic">R</tspan> = 0.47, <tspan font-style="italic">p</tspan> = 0.049</text>
<path d="M72.4 522.8 L72.4 477.6 L74.6 476.8 L76.7 476 L78.9 475.2 L81 474.4 L83.1 473.7 L85.3 472.9 L87.4 472.2 L89.6 471.5 L91.7 470.8 L93.9 470.1 L96 469.5 L98.1 468.9 L100.3 468.3 L102.4 467.7 L104.6 467.1 L106.7 466.6 L108.9 466.1 L111 465.6 L113.1 465.2 L115.3 464.7 L117.4 464.3 L119.6 464 L121.7 463.6 L123.9 463.3 L126 463 L128.1 462.7 L130.3 462.4 L132.4 462.2 L134.6 462 L136.7 461.8 L138.9 461.7 L141 461.5 L143.1 461.4 L145.3 461.4 L147.4 461.3 L149.6 461.3 L151.7 461.2 L153.9 461.2 L156 461.3 L158.1 461.3 L160.3 461.3 L162.4 461.4 L164.6 461.5 L166.7 461.6 L168.9 461.7 L171 461.9 L173.1 462 L175.3 462.2 L177.4 462.3 L179.6 462.5 L181.7 462.7 L183.9 462.9 L186 463.1 L188.1 463.3 L190.3 463.5 L192.4 463.7 L194.6 463.9 L196.7 464.1 L198.9 464.3 L201 464.5 L203.1 464.7 L205.3 464.9 L207.4 465.1 L209.6 465.3 L211.7 465.5 L213.9 465.7 L216 465.8 L218.1 466 L220.3 466.2 L222.4 466.3 L224.6 466.5 L226.7 466.6 L228.9 466.7 L231 466.8 L233.1 466.9 L235.3 467 L237.4 467 L239.6 467.1 L241.7 467.2 L243.9 467.2 L246 467.2 L248.1 467.2 L250.3 467.2 L252.4 467.2 L254.6 467.2 L256.7 467.1 L258.9 467.1 L261 467 L263.1 466.9 L265.3 466.9 L267.4 466.8 L269.6 466.7 L271.7 466.5 L273.9 466.4 L276 466.3 L278.1 466.2 L280.3 466 L282.4 465.9 L284.6 465.7 L286.7 465.5 L288.9 465.4 L291 465.2 L293.2 465 L295.3 464.9 L297.4 464.7 L299.6 464.5 L301.7 464.3 L303.9 464.1 L306 464 L308.2 463.8 L310.3 463.6 L312.4 463.4 L314.6 463.3 L316.7 463.1 L318.9 462.9 L321 462.8 L323.2 462.6 L325.3 462.5 L327.4 462.3 L329.6 462.2 L331.7 462 L333.9 461.9 L336 461.8 L338.2 461.7 L340.3 461.6 L342.4 461.5 L344.6 461.4 L346.7 461.4 L348.9 461.3 L351 461.3 L353.2 461.2 L355.3 461.2 L357.4 461.2 L359.6 461.2 L361.7 461.2 L363.9 461.3 L366 461.3 L368.2 461.4 L370.3 461.4 L372.4 461.5 L374.6 461.6 L376.7 461.8 L378.9 461.9 L381 462.1 L383.2 462.2 L385.3 462.4 L387.4 462.7 L389.6 462.9 L391.7 463.1 L393.9 463.4 L396 463.7 L398.2 464 L400.3 464.3 L402.4 464.6 L404.6 465 L406.7 465.4 L408.9 465.8 L411 466.2 L413.2 466.6 L415.3 467.1 L417.4 467.6 L419.6 468.1 L421.7 468.6 L423.9 469.1 L426 469.6 L428.2 470.2 L430.3 470.8 L432.4 471.4 L434.6 472 L436.7 472.6 L438.9 473.2 L441 473.9 L443.2 474.5 L445.3 475.2 L447.4 475.9 L449.6 476.6 L451.7 477.3 L453.9 478 L456 478.8 L458.2 479.5 L460.3 480.3 L462.4 481 L464.6 481.8 L466.7 482.6 L468.9 483.3 L471 484.1 L473.2 484.9 L475.3 485.7 L477.4 486.5 L479.6 487.2 L481.7 488 L483.9 488.8 L486 489.6 L488.2 490.4 L490.3 491.2 L492.4 492 L494.6 492.7 L496.7 493.5 L498.9 494.3 L498.9 522.8Z" fill="#ffa500"/>
<path d="M72.4 477.6 L74.6 476.8 L76.7 476 L78.9 475.2 L81 474.4 L83.1 473.7 L85.3 472.9 L87.4 472.2 L89.6 471.5 L91.7 470.8 L93.9 470.1 L96 469.5 L98.1 468.9 L100.3 468.3 L102.4 467.7 L104.6 467.1 L106.7 466.6 L108.9 466.1 L111 465.6 L113.1 465.2 L115.3 464.7 L117.4 464.3 L119.6 464 L121.7 463.6 L123.9 463.3 L126 463 L128.1 462.7 L130.3 462.4 L132.4 462.2 L134.6 462 L136.7 461.8 L138.9 461.7 L141 461.5 L143.1 461.4 L145.3 461.4 L147.4 461.3 L149.6 461.3 L151.7 461.2 L153.9 461.2 L156 461.3 L158.1 461.3 L160.3 461.3 L162.4 461.4 L164.6 461.5 L166.7 461.6 L168.9 461.7 L171 461.9 L173.1 462 L175.3 462.2 L177.4 462.3 L179.6 462.5 L181.7 462.7 L183.9 462.9 L186 463.1 L188.1 463.3 L190.3 463.5 L192.4 463.7 L194.6 463.9 L196.7 464.1 L198.9 464.3 L201 464.5 L203.1 464.7 L205.3 464.9 L207.4 465.1 L209.6 465.3 L211.7 465.5 L213.9 465.7 L216 465.8 L218.1 466 L220.3 466.2 L222.4 466.3 L224.6 466.5 L226.7 466.6 L228.9 466.7 L231 466.8 L233.1 466.9 L235.3 467 L237.4 467 L239.6 467.1 L241.7 467.2 L243.9 467.2 L246 467.2 L248.1 467.2 L250.3 467.2 L252.4 467.2 L254.6 467.2 L256.7 467.1 L258.9 467.1 L261 467 L263.1 466.9 L265.3 466.9 L267.4 466.8 L269.6 466.7 L271.7 466.5 L273.9 466.4 L276 466.3 L278.1 466.2 L280.3 466 L282.4 465.9 L284.6 465.7 L286.7 465.5 L288.9 465.4 L291 465.2 L293.2 465 L295.3 464.9 L297.4 464.7 L299.6 464.5 L301.7 464.3 L303.9 464.1 L306 464 L308.2 463.8 L310.3 463.6 L312.4 463.4 L314.6 463.3 L316.7 463.1 L318.9 462.9 L321 462.8 L323.2 462.6 L325.3 462.5 L327.4 462.3 L329.6 462.2 L331.7 462 L333.9 461.9 L336 461.8 L338.2 461.7 L340.3 461.6 L342.4 461.5 L344.6 461.4 L346.7 461.4 L348.9 461.3 L351 461.3 L353.2 461.2 L355.3 461.2 L357.4 461.2 L359.6 461.2 L361.7 461.2 L363.9 461.3 L366 461.3 L368.2 461.4 L370.3 461.4 L372.4 461.5 L374.6 461.6 L376.7 461.8 L378.9 461.9 L381 462.1 L383.2 462.2 L385.3 462.4 L387.4 462.7 L389.6 462.9 L391.7 463.1 L393.9 463.4 L396 463.7 L398.2 464 L400.3 464.3 L402.4 464.6 L404.6 465 L406.7 465.4 L408.9 465.8 L411 466.2 L413.2 466.6 L415.3 467.1 L417.4 467.6 L419.6 468.1 L421.7 468.6 L423.9 469.1 L426 469.6 L428.2 470.2 L430.3 470.8 L432.4 471.4 L434.6 472 L436.7 472.6 L438.9 473.2 L441 473.9 L443.2 474.5 L445.3 475.2 L447.4 475.9 L449.6 476.6 L451.7 477.3 L453.9 478 L456 478.8 L458.2 479.5 L460.3 480.3 L462.4 481 L464.6 481.8 L466.7 482.6 L468.9 483.3 L471 484.1 L473.2 484.9 L475.3 485.7 L477.4 486.5 L479.6 487.2 L481.7 488 L483.9 488.8 L486 489.6 L488.2 490.4 L490.3 491.2 L492.4 492 L494.6 492.7 L496.7 493.5 L498.9 494.3" fill="none" stroke="#0a0a14" stroke-width="1.7" stroke-linejoin="round"/>
<path d="M525 847.8 L545.3 847.8 L546 846.2 L546.6 844.7 L547.2 843.2 L547.9 841.6 L548.5 840.1 L549.2 838.5 L549.9 837 L550.6 835.5 L551.3 833.9 L552 832.4 L552.7 830.8 L553.4 829.3 L554.1 827.8 L554.8 826.2 L555.6 824.7 L556.3 823.1 L557 821.6 L557.8 820.1 L558.5 818.5 L559.2 817 L560 815.5 L560.7 813.9 L561.4 812.4 L562.1 810.8 L562.8 809.3 L563.5 807.8 L564.2 806.2 L564.9 804.7 L565.6 803.1 L566.2 801.6 L566.9 800.1 L567.5 798.5 L568.1 797 L568.7 795.4 L569.3 793.9 L569.8 792.4 L570.3 790.8 L570.8 789.3 L571.3 787.7 L571.8 786.2 L572.2 784.7 L572.6 783.1 L573 781.6 L573.3 780 L573.7 778.5 L574 777 L574.3 775.4 L574.5 773.9 L574.8 772.3 L575 770.8 L575.2 769.3 L575.4 767.7 L575.6 766.2 L575.7 764.6 L575.9 763.1 L576 761.6 L576.2 760 L576.3 758.5 L576.4 757 L576.6 755.4 L576.7 753.9 L576.8 752.3 L577 750.8 L577.2 749.3 L577.3 747.7 L577.5 746.2 L577.7 744.6 L578 743.1 L578.2 741.6 L578.5 740 L578.8 738.5 L579.2 736.9 L579.5 735.4 L579.9 733.9 L580.4 732.3 L580.9 730.8 L581.4 729.2 L581.9 727.7 L582.5 726.2 L583.1 724.6 L583.8 723.1 L584.5 721.5 L585.2 720 L586 718.5 L586.8 716.9 L587.6 715.4 L588.5 713.8 L589.4 712.3 L590.3 710.8 L591.2 709.2 L592.2 707.7 L593.1 706.1 L594.1 704.6 L595.1 703.1 L596 701.5 L597 700 L598 698.4 L599 696.9 L599.9 695.4 L600.9 693.8 L601.8 692.3 L602.7 690.8 L603.5 689.2 L604.4 687.7 L605.1 686.1 L605.9 684.6 L606.6 683.1 L607.2 681.5 L607.8 680 L608.3 678.4 L608.8 676.9 L609.2 675.4 L609.6 673.8 L609.9 672.3 L610.1 670.7 L610.2 669.2 L610.3 667.7 L610.3 666.1 L610.2 664.6 L610.1 663 L609.9 661.5 L609.6 660 L609.2 658.4 L608.8 656.9 L608.3 655.3 L607.7 653.8 L607.1 652.3 L606.4 650.7 L605.7 649.2 L604.9 647.6 L604 646.1 L603.2 644.6 L602.2 643 L601.2 641.5 L600.2 639.9 L599.2 638.4 L598.1 636.9 L597 635.3 L595.9 633.8 L594.8 632.2 L593.7 630.7 L592.5 629.2 L591.4 627.6 L590.2 626.1 L589.1 624.6 L587.9 623 L586.8 621.5 L585.7 619.9 L584.6 618.4 L583.6 616.9 L582.5 615.3 L581.5 613.8 L580.5 612.2 L579.5 610.7 L578.6 609.2 L577.7 607.6 L576.8 606.1 L576 604.5 L575.2 603 L574.4 601.5 L573.7 599.9 L573 598.4 L572.3 596.8 L571.7 595.3 L571 593.8 L570.4 592.2 L569.9 590.7 L569.3 589.1 L568.8 587.6 L568.3 586.1 L567.8 584.5 L567.3 583 L566.9 581.4 L566.4 579.9 L566 578.4 L565.5 576.8 L565.1 575.3 L564.6 573.7 L564.2 572.2 L563.8 570.7 L563.3 569.1 L562.8 567.6 L562.4 566.1 L561.9 564.5 L561.4 563 L560.9 561.4 L560.4 559.9 L559.8 558.4 L559.3 556.8 L558.7 555.3 L558.1 553.7 L557.5 552.2 L556.9 550.7 L556.3 549.1 L555.6 547.6 L554.9 546 L554.2 544.5 L553.5 543 L552.8 541.4 L525 541.4Z" fill="#0000ff"/>
<path d="M545.3 847.8 L546 846.2 L546.6 844.7 L547.2 843.2 L547.9 841.6 L548.5 840.1 L549.2 838.5 L549.9 837 L550.6 835.5 L551.3 833.9 L552 832.4 L552.7 830.8 L553.4 829.3 L554.1 827.8 L554.8 826.2 L555.6 824.7 L556.3 823.1 L557 821.6 L557.8 820.1 L558.5 818.5 L559.2 817 L560 815.5 L560.7 813.9 L561.4 812.4 L562.1 810.8 L562.8 809.3 L563.5 807.8 L564.2 806.2 L564.9 804.7 L565.6 803.1 L566.2 801.6 L566.9 800.1 L567.5 798.5 L568.1 797 L568.7 795.4 L569.3 793.9 L569.8 792.4 L570.3 790.8 L570.8 789.3 L571.3 787.7 L571.8 786.2 L572.2 784.7 L572.6 783.1 L573 781.6 L573.3 780 L573.7 778.5 L574 777 L574.3 775.4 L574.5 773.9 L574.8 772.3 L575 770.8 L575.2 769.3 L575.4 767.7 L575.6 766.2 L575.7 764.6 L575.9 763.1 L576 761.6 L576.2 760 L576.3 758.5 L576.4 757 L576.6 755.4 L576.7 753.9 L576.8 752.3 L577 750.8 L577.2 749.3 L577.3 747.7 L577.5 746.2 L577.7 744.6 L578 743.1 L578.2 741.6 L578.5 740 L578.8 738.5 L579.2 736.9 L579.5 735.4 L579.9 733.9 L580.4 732.3 L580.9 730.8 L581.4 729.2 L581.9 727.7 L582.5 726.2 L583.1 724.6 L583.8 723.1 L584.5 721.5 L585.2 720 L586 718.5 L586.8 716.9 L587.6 715.4 L588.5 713.8 L589.4 712.3 L590.3 710.8 L591.2 709.2 L592.2 707.7 L593.1 706.1 L594.1 704.6 L595.1 703.1 L596 701.5 L597 700 L598 698.4 L599 696.9 L599.9 695.4 L600.9 693.8 L601.8 692.3 L602.7 690.8 L603.5 689.2 L604.4 687.7 L605.1 686.1 L605.9 684.6 L606.6 683.1 L607.2 681.5 L607.8 680 L608.3 678.4 L608.8 676.9 L609.2 675.4 L609.6 673.8 L609.9 672.3 L610.1 670.7 L610.2 669.2 L610.3 667.7 L610.3 666.1 L610.2 664.6 L610.1 663 L609.9 661.5 L609.6 660 L609.2 658.4 L608.8 656.9 L608.3 655.3 L607.7 653.8 L607.1 652.3 L606.4 650.7 L605.7 649.2 L604.9 647.6 L604 646.1 L603.2 644.6 L602.2 643 L601.2 641.5 L600.2 639.9 L599.2 638.4 L598.1 636.9 L597 635.3 L595.9 633.8 L594.8 632.2 L593.7 630.7 L592.5 629.2 L591.4 627.6 L590.2 626.1 L589.1 624.6 L587.9 623 L586.8 621.5 L585.7 619.9 L584.6 618.4 L583.6 616.9 L582.5 615.3 L581.5 613.8 L580.5 612.2 L579.5 610.7 L578.6 609.2 L577.7 607.6 L576.8 606.1 L576 604.5 L575.2 603 L574.4 601.5 L573.7 599.9 L573 598.4 L572.3 596.8 L571.7 595.3 L571 593.8 L570.4 592.2 L569.9 590.7 L569.3 589.1 L568.8 587.6 L568.3 586.1 L567.8 584.5 L567.3 583 L566.9 581.4 L566.4 579.9 L566 578.4 L565.5 576.8 L565.1 575.3 L564.6 573.7 L564.2 572.2 L563.8 570.7 L563.3 569.1 L562.8 567.6 L562.4 566.1 L561.9 564.5 L561.4 563 L560.9 561.4 L560.4 559.9 L559.8 558.4 L559.3 556.8 L558.7 555.3 L558.1 553.7 L557.5 552.2 L556.9 550.7 L556.3 549.1 L555.6 547.6 L554.9 546 L554.2 544.5 L553.5 543 L552.8 541.4" fill="none" stroke="#000" stroke-width="1.9" stroke-linejoin="round"/>
<text class="pl" transform="translate(4.5 494) scale(1 1.045)">D</text>
</g>
<g>
<rect x="705.1" y="526.1" width="469.1" height="337" fill="#fff"/>
<path d="M828.2 526.1V863.1" stroke="#efefef" stroke-width="1"/><path d="M979.4 526.1V863.1" stroke="#efefef" stroke-width="1"/><path d="M1130.6 526.1V863.1" stroke="#efefef" stroke-width="1"/><path d="M705.1 847.8H1174.2" stroke="#efefef" stroke-width="1"/><path d="M705.1 751.6H1174.2" stroke="#efefef" stroke-width="1"/><path d="M705.1 655.5H1174.2" stroke="#efefef" stroke-width="1"/><path d="M705.1 559.4H1174.2" stroke="#efefef" stroke-width="1"/><path d="M752.6 526.1V863.1" stroke="#e6e6e6" stroke-width="1.4"/><path d="M903.8 526.1V863.1" stroke="#e6e6e6" stroke-width="1.4"/><path d="M1055 526.1V863.1" stroke="#e6e6e6" stroke-width="1.4"/><path d="M705.1 799.7H1174.2" stroke="#e6e6e6" stroke-width="1.4"/><path d="M705.1 703.6H1174.2" stroke="#e6e6e6" stroke-width="1.4"/><path d="M705.1 607.4H1174.2" stroke="#e6e6e6" stroke-width="1.4"/>
<g fill="#000"><ellipse cx="726.4" cy="655.5" rx="4.1" ry="3.05"/><ellipse cx="860.1" cy="617" rx="4.1" ry="3.05"/><ellipse cx="932.5" cy="847.8" rx="4.1" ry="3.05"/><ellipse cx="939.5" cy="684.3" rx="4.1" ry="3.05"/><ellipse cx="948.3" cy="703.6" rx="4.1" ry="3.05"/><ellipse cx="948.3" cy="626.7" rx="4.1" ry="3.05"/><ellipse cx="960.8" cy="713.2" rx="4.1" ry="3.05"/><ellipse cx="966.3" cy="684.3" rx="4.1" ry="3.05"/><ellipse cx="977.2" cy="674.7" rx="4.1" ry="3.05"/><ellipse cx="986.4" cy="722.8" rx="4.1" ry="3.05"/><ellipse cx="987" cy="674.7" rx="4.1" ry="3.05"/><ellipse cx="990.8" cy="617" rx="4.1" ry="3.05"/><ellipse cx="1021.8" cy="780.5" rx="4.1" ry="3.05"/><ellipse cx="1027.4" cy="751.6" rx="4.1" ry="3.05"/><ellipse cx="1060.5" cy="770.9" rx="4.1" ry="3.05"/><ellipse cx="1077.6" cy="751.6" rx="4.1" ry="3.05"/><ellipse cx="1125.5" cy="751.6" rx="4.1" ry="3.05"/><ellipse cx="1152.9" cy="780.5" rx="4.1" ry="3.05"/></g>
<path d="M726.4 541.4 L731.8 544.8 L737.2 548.2 L742.6 551.5 L748 554.9 L753.4 558.3 L758.8 561.6 L764.2 565 L769.6 568.3 L775 571.7 L780.4 575 L785.8 578.3 L791.2 581.6 L796.6 585 L802 588.3 L807.4 591.6 L812.8 594.8 L818.2 598.1 L823.6 601.4 L829 604.6 L834.4 607.9 L839.8 611.1 L845.2 614.3 L850.6 617.5 L856 620.7 L861.4 623.8 L866.8 626.9 L872.2 630.1 L877.6 633.1 L883 636.2 L888.4 639.2 L893.8 642.2 L899.2 645.2 L904.6 648.1 L910 651 L915.4 653.8 L920.8 656.6 L926.2 659.3 L931.6 662 L937 664.6 L942.3 667.1 L947.7 669.6 L953.1 671.9 L958.5 674.2 L963.9 676.5 L969.3 678.6 L974.7 680.6 L980.1 682.6 L985.5 684.4 L990.9 686.2 L996.3 687.8 L1001.7 689.4 L1007.1 690.9 L1012.5 692.3 L1017.9 693.6 L1023.3 694.8 L1028.7 696 L1034.1 697.1 L1039.5 698.1 L1044.9 699.1 L1050.3 700 L1055.7 700.9 L1061.1 701.7 L1066.5 702.5 L1071.9 703.3 L1077.3 704 L1082.7 704.6 L1088.1 705.3 L1093.5 705.9 L1098.9 706.5 L1104.3 707.1 L1109.7 707.6 L1115.1 708.1 L1120.5 708.6 L1125.9 709.1 L1131.3 709.6 L1136.7 710.1 L1142.1 710.5 L1147.5 711 L1152.9 711.4 L1152.9 828.4 L1147.5 825.2 L1142.1 821.9 L1136.7 818.7 L1131.3 815.4 L1125.9 812.2 L1120.5 809 L1115.1 805.8 L1109.7 802.6 L1104.3 799.5 L1098.9 796.3 L1093.5 793.2 L1088.1 790.1 L1082.7 787.1 L1077.3 784.1 L1071.9 781.1 L1066.5 778.1 L1061.1 775.2 L1055.7 772.3 L1050.3 769.5 L1044.9 766.7 L1039.5 764 L1034.1 761.3 L1028.7 758.7 L1023.3 756.2 L1017.9 753.7 L1012.5 751.3 L1007.1 749 L1001.7 746.8 L996.3 744.6 L990.9 742.6 L985.5 740.7 L980.1 738.8 L974.7 737 L969.3 735.4 L963.9 733.8 L958.5 732.3 L953.1 730.9 L947.7 729.6 L942.3 728.4 L937 727.2 L931.6 726.1 L926.2 725.1 L920.8 724.1 L915.4 723.2 L910 722.3 L904.6 721.5 L899.2 720.7 L893.8 719.9 L888.4 719.2 L883 718.5 L877.6 717.9 L872.2 717.3 L866.8 716.7 L861.4 716.1 L856 715.6 L850.6 715 L845.2 714.5 L839.8 714 L834.4 713.6 L829 713.1 L823.6 712.6 L818.2 712.2 L812.8 711.8 L807.4 711.3 L802 710.9 L796.6 710.5 L791.2 710.2 L785.8 709.8 L780.4 709.4 L775 709 L769.6 708.7 L764.2 708.3 L758.8 708 L753.4 707.6 L748 707.3 L742.6 706.9 L737.2 706.6 L731.8 706.3 L726.4 706Z" fill="#999" fill-opacity="0.4"/>
<path d="M726.4 623.7L1152.9 769.9" stroke="#3063ff" stroke-width="2.9" fill="none"/>
<rect x="705.1" y="526.1" width="469.1" height="337" fill="none" stroke="#404040" stroke-width="1.3"/>
<path d="M752.6 863.1v3.6" stroke="#333" stroke-width="1.5"/><text transform="translate(752.6 877.7) scale(1.36 1)" font-size="11.0" text-anchor="middle" fill="#4d4d4d" stroke="#4d4d4d">2</text><path d="M903.8 863.1v3.6" stroke="#333" stroke-width="1.5"/><text transform="translate(903.8 877.7) scale(1.36 1)" font-size="11.0" text-anchor="middle" fill="#4d4d4d" stroke="#4d4d4d">3</text><path d="M1055 863.1v3.6" stroke="#333" stroke-width="1.5"/><text transform="translate(1055 877.7) scale(1.36 1)" font-size="11.0" text-anchor="middle" fill="#4d4d4d" stroke="#4d4d4d">4</text><path d="M705.1 799.7h-5" stroke="#333" stroke-width="1.5"/><text transform="translate(695.5 803.6) scale(1.36 1)" font-size="11.0" text-anchor="end" fill="#4d4d4d" stroke="#4d4d4d">30</text><path d="M705.1 703.6h-5" stroke="#333" stroke-width="1.5"/><text transform="translate(695.5 707.5) scale(1.36 1)" font-size="11.0" text-anchor="end" fill="#4d4d4d" stroke="#4d4d4d">40</text><path d="M705.1 607.4h-5" stroke="#333" stroke-width="1.5"/><text transform="translate(695.5 611.3) scale(1.36 1)" font-size="11.0" text-anchor="end" fill="#4d4d4d" stroke="#4d4d4d">50</text>
<text transform="translate(939.7 892.7) scale(1.36 1)" font-size="13.8" text-anchor="middle" fill="#000" stroke="#000">CLU</text>
<text transform="translate(670 694.6) rotate(-90) scale(1 1.36)" font-size="13.8" text-anchor="middle" fill="#000" stroke="#000">LVEF (%)</text>
<text xml:space="preserve" transform="translate(726.4 539.9) scale(1.36 1)" font-size="13.8" fill="#000" stroke="#000"><tspan font-style="italic">R</tspan> =<tspan dx="3.2">−</tspan><tspan dx="2">0.52, </tspan><tspan font-style="italic">p</tspan> = 0.027</text>
<path d="M726.4 522.8 L726.4 515.4 L728.6 515.4 L730.7 515.5 L732.9 515.6 L735 515.7 L737.1 515.9 L739.3 516.1 L741.4 516.3 L743.6 516.6 L745.7 516.8 L747.9 517.1 L750 517.4 L752.1 517.8 L754.3 518.1 L756.4 518.4 L758.6 518.7 L760.7 519 L762.9 519.4 L765 519.7 L767.1 519.9 L769.3 520.2 L771.4 520.5 L773.6 520.7 L775.7 520.9 L777.9 521.1 L780 521.2 L782.1 521.4 L784.3 521.5 L786.4 521.6 L788.6 521.6 L790.7 521.7 L792.9 521.7 L795 521.7 L797.1 521.7 L799.3 521.6 L801.4 521.5 L803.6 521.4 L805.7 521.3 L807.9 521.1 L810 521 L812.1 520.8 L814.3 520.5 L816.4 520.3 L818.6 520 L820.7 519.8 L822.9 519.5 L825 519.1 L827.1 518.8 L829.3 518.5 L831.4 518.2 L833.6 517.8 L835.7 517.5 L837.9 517.2 L840 516.8 L842.1 516.5 L844.3 516.2 L846.4 516 L848.6 515.7 L850.7 515.5 L852.9 515.2 L855 515 L857.1 514.9 L859.3 514.7 L861.4 514.6 L863.6 514.4 L865.7 514.3 L867.9 514.2 L870 514.1 L872.1 513.9 L874.3 513.8 L876.4 513.6 L878.6 513.4 L880.7 513.1 L882.9 512.8 L885 512.4 L887.1 511.9 L889.3 511.4 L891.4 510.7 L893.6 510 L895.7 509.2 L897.9 508.2 L900 507.2 L902.1 506 L904.3 504.7 L906.4 503.3 L908.6 501.8 L910.7 500.2 L912.9 498.5 L915 496.8 L917.1 494.9 L919.3 493 L921.4 491 L923.6 489 L925.7 486.9 L927.9 484.9 L930 482.8 L932.1 480.8 L934.3 478.8 L936.4 476.8 L938.6 474.9 L940.7 473.1 L942.9 471.4 L945 469.8 L947.2 468.3 L949.3 466.9 L951.4 465.7 L953.6 464.6 L955.7 463.6 L957.9 462.8 L960 462.2 L962.2 461.7 L964.3 461.4 L966.4 461.2 L968.6 461.2 L970.7 461.3 L972.9 461.6 L975 462 L977.2 462.6 L979.3 463.2 L981.4 464 L983.6 464.9 L985.7 465.9 L987.9 466.9 L990 468.1 L992.2 469.3 L994.3 470.5 L996.4 471.8 L998.6 473.2 L1000.7 474.5 L1002.9 475.9 L1005 477.2 L1007.2 478.6 L1009.3 479.9 L1011.4 481.2 L1013.6 482.5 L1015.7 483.8 L1017.9 485 L1020 486.2 L1022.2 487.3 L1024.3 488.4 L1026.4 489.4 L1028.6 490.4 L1030.7 491.3 L1032.9 492.2 L1035 493 L1037.2 493.8 L1039.3 494.5 L1041.4 495.2 L1043.6 495.9 L1045.7 496.5 L1047.9 497.1 L1050 497.7 L1052.2 498.2 L1054.3 498.8 L1056.4 499.3 L1058.6 499.8 L1060.7 500.2 L1062.9 500.7 L1065 501.2 L1067.2 501.6 L1069.3 502.1 L1071.4 502.5 L1073.6 503 L1075.7 503.4 L1077.9 503.8 L1080 504.2 L1082.2 504.6 L1084.3 505 L1086.4 505.4 L1088.6 505.8 L1090.7 506.1 L1092.9 506.4 L1095 506.7 L1097.2 506.9 L1099.3 507.1 L1101.4 507.3 L1103.6 507.5 L1105.7 507.6 L1107.9 507.7 L1110 507.8 L1112.2 507.9 L1114.3 507.9 L1116.4 507.9 L1118.6 508 L1120.7 508 L1122.9 508 L1125 508 L1127.2 508 L1129.3 508 L1131.4 508.1 L1133.6 508.2 L1135.7 508.3 L1137.9 508.4 L1140 508.6 L1142.2 508.8 L1144.3 509 L1146.4 509.3 L1148.6 509.6 L1150.7 509.9 L1152.9 510.3 L1152.9 522.8Z" fill="#ffa500"/>
<path d="M726.4 515.4 L728.6 515.4 L730.7 515.5 L732.9 515.6 L735 515.7 L737.1 515.9 L739.3 516.1 L741.4 516.3 L743.6 516.6 L745.7 516.8 L747.9 517.1 L750 517.4 L752.1 517.8 L754.3 518.1 L756.4 518.4 L758.6 518.7 L760.7 519 L762.9 519.4 L765 519.7 L767.1 519.9 L769.3 520.2 L771.4 520.5 L773.6 520.7 L775.7 520.9 L777.9 521.1 L780 521.2 L782.1 521.4 L784.3 521.5 L786.4 521.6 L788.6 521.6 L790.7 521.7 L792.9 521.7 L795 521.7 L797.1 521.7 L799.3 521.6 L801.4 521.5 L803.6 521.4 L805.7 521.3 L807.9 521.1 L810 521 L812.1 520.8 L814.3 520.5 L816.4 520.3 L818.6 520 L820.7 519.8 L822.9 519.5 L825 519.1 L827.1 518.8 L829.3 518.5 L831.4 518.2 L833.6 517.8 L835.7 517.5 L837.9 517.2 L840 516.8 L842.1 516.5 L844.3 516.2 L846.4 516 L848.6 515.7 L850.7 515.5 L852.9 515.2 L855 515 L857.1 514.9 L859.3 514.7 L861.4 514.6 L863.6 514.4 L865.7 514.3 L867.9 514.2 L870 514.1 L872.1 513.9 L874.3 513.8 L876.4 513.6 L878.6 513.4 L880.7 513.1 L882.9 512.8 L885 512.4 L887.1 511.9 L889.3 511.4 L891.4 510.7 L893.6 510 L895.7 509.2 L897.9 508.2 L900 507.2 L902.1 506 L904.3 504.7 L906.4 503.3 L908.6 501.8 L910.7 500.2 L912.9 498.5 L915 496.8 L917.1 494.9 L919.3 493 L921.4 491 L923.6 489 L925.7 486.9 L927.9 484.9 L930 482.8 L932.1 480.8 L934.3 478.8 L936.4 476.8 L938.6 474.9 L940.7 473.1 L942.9 471.4 L945 469.8 L947.2 468.3 L949.3 466.9 L951.4 465.7 L953.6 464.6 L955.7 463.6 L957.9 462.8 L960 462.2 L962.2 461.7 L964.3 461.4 L966.4 461.2 L968.6 461.2 L970.7 461.3 L972.9 461.6 L975 462 L977.2 462.6 L979.3 463.2 L981.4 464 L983.6 464.9 L985.7 465.9 L987.9 466.9 L990 468.1 L992.2 469.3 L994.3 470.5 L996.4 471.8 L998.6 473.2 L1000.7 474.5 L1002.9 475.9 L1005 477.2 L1007.2 478.6 L1009.3 479.9 L1011.4 481.2 L1013.6 482.5 L1015.7 483.8 L1017.9 485 L1020 486.2 L1022.2 487.3 L1024.3 488.4 L1026.4 489.4 L1028.6 490.4 L1030.7 491.3 L1032.9 492.2 L1035 493 L1037.2 493.8 L1039.3 494.5 L1041.4 495.2 L1043.6 495.9 L1045.7 496.5 L1047.9 497.1 L1050 497.7 L1052.2 498.2 L1054.3 498.8 L1056.4 499.3 L1058.6 499.8 L1060.7 500.2 L1062.9 500.7 L1065 501.2 L1067.2 501.6 L1069.3 502.1 L1071.4 502.5 L1073.6 503 L1075.7 503.4 L1077.9 503.8 L1080 504.2 L1082.2 504.6 L1084.3 505 L1086.4 505.4 L1088.6 505.8 L1090.7 506.1 L1092.9 506.4 L1095 506.7 L1097.2 506.9 L1099.3 507.1 L1101.4 507.3 L1103.6 507.5 L1105.7 507.6 L1107.9 507.7 L1110 507.8 L1112.2 507.9 L1114.3 507.9 L1116.4 507.9 L1118.6 508 L1120.7 508 L1122.9 508 L1125 508 L1127.2 508 L1129.3 508 L1131.4 508.1 L1133.6 508.2 L1135.7 508.3 L1137.9 508.4 L1140 508.6 L1142.2 508.8 L1144.3 509 L1146.4 509.3 L1148.6 509.6 L1150.7 509.9 L1152.9 510.3" fill="none" stroke="#0a0a14" stroke-width="1.7" stroke-linejoin="round"/>
<path d="M1179 847.8 L1193.6 847.8 L1193.9 846.2 L1194.2 844.7 L1194.5 843.2 L1194.8 841.6 L1195.1 840.1 L1195.4 838.5 L1195.7 837 L1196.1 835.5 L1196.4 833.9 L1196.9 832.4 L1197.3 830.8 L1197.8 829.3 L1198.4 827.8 L1198.9 826.2 L1199.6 824.7 L1200.3 823.1 L1201.1 821.6 L1201.9 820.1 L1202.8 818.5 L1203.8 817 L1204.9 815.5 L1206 813.9 L1207.2 812.4 L1208.5 810.8 L1209.8 809.3 L1211.2 807.8 L1212.7 806.2 L1214.2 804.7 L1215.9 803.1 L1217.5 801.6 L1219.2 800.1 L1221 798.5 L1222.8 797 L1224.6 795.4 L1226.4 793.9 L1228.3 792.4 L1230.1 790.8 L1232 789.3 L1233.8 787.7 L1235.7 786.2 L1237.5 784.7 L1239.2 783.1 L1241 781.6 L1242.6 780 L1244.3 778.5 L1245.8 777 L1247.3 775.4 L1248.7 773.9 L1250 772.3 L1251.3 770.8 L1252.5 769.3 L1253.5 767.7 L1254.5 766.2 L1255.4 764.6 L1256.2 763.1 L1257 761.6 L1257.6 760 L1258.2 758.5 L1258.6 757 L1259 755.4 L1259.3 753.9 L1259.6 752.3 L1259.8 750.8 L1259.9 749.3 L1260 747.7 L1260.1 746.2 L1260.1 744.6 L1260.1 743.1 L1260 741.6 L1260 740 L1259.9 738.5 L1259.9 736.9 L1259.8 735.4 L1259.7 733.9 L1259.7 732.3 L1259.6 730.8 L1259.6 729.2 L1259.7 727.7 L1259.7 726.2 L1259.8 724.6 L1259.9 723.1 L1260 721.5 L1260.1 720 L1260.3 718.5 L1260.5 716.9 L1260.8 715.4 L1261 713.8 L1261.3 712.3 L1261.6 710.8 L1261.9 709.2 L1262.2 707.7 L1262.5 706.1 L1262.8 704.6 L1263 703.1 L1263.3 701.5 L1263.6 700 L1263.8 698.4 L1264 696.9 L1264.1 695.4 L1264.2 693.8 L1264.3 692.3 L1264.3 690.8 L1264.2 689.2 L1264.1 687.7 L1264 686.1 L1263.8 684.6 L1263.5 683.1 L1263.1 681.5 L1262.7 680 L1262.3 678.4 L1261.7 676.9 L1261.1 675.4 L1260.5 673.8 L1259.8 672.3 L1259.1 670.7 L1258.3 669.2 L1257.5 667.7 L1256.6 666.1 L1255.7 664.6 L1254.8 663 L1253.9 661.5 L1253 660 L1252 658.4 L1251 656.9 L1250.1 655.3 L1249.1 653.8 L1248.2 652.3 L1247.2 650.7 L1246.2 649.2 L1245.3 647.6 L1244.4 646.1 L1243.4 644.6 L1242.5 643 L1241.6 641.5 L1240.7 639.9 L1239.8 638.4 L1238.9 636.9 L1238 635.3 L1237.1 633.8 L1236.2 632.2 L1235.3 630.7 L1234.3 629.2 L1233.4 627.6 L1232.4 626.1 L1231.4 624.6 L1230.3 623 L1229.3 621.5 L1228.2 619.9 L1227.1 618.4 L1225.9 616.9 L1224.7 615.3 L1223.5 613.8 L1222.2 612.2 L1220.9 610.7 L1219.6 609.2 L1218.3 607.6 L1216.9 606.1 L1215.5 604.5 L1214.1 603 L1212.7 601.5 L1211.2 599.9 L1209.8 598.4 L1208.3 596.8 L1206.9 595.3 L1205.5 593.8 L1204.1 592.2 L1202.7 590.7 L1201.3 589.1 L1200 587.6 L1198.7 586.1 L1197.4 584.5 L1196.2 583 L1195 581.4 L1193.9 579.9 L1192.8 578.4 L1191.7 576.8 L1190.7 575.3 L1189.8 573.7 L1188.9 572.2 L1188 570.7 L1187.3 569.1 L1186.5 567.6 L1185.8 566.1 L1185.2 564.5 L1184.6 563 L1184 561.4 L1183.5 559.9 L1183 558.4 L1182.6 556.8 L1182.2 555.3 L1181.8 553.7 L1181.5 552.2 L1181.2 550.7 L1181 549.1 L1180.7 547.6 L1180.5 546 L1180.3 544.5 L1180.1 543 L1180 541.4 L1179 541.4Z" fill="#0000ff"/>
<path d="M1193.6 847.8 L1193.9 846.2 L1194.2 844.7 L1194.5 843.2 L1194.8 841.6 L1195.1 840.1 L1195.4 838.5 L1195.7 837 L1196.1 835.5 L1196.4 833.9 L1196.9 832.4 L1197.3 830.8 L1197.8 829.3 L1198.4 827.8 L1198.9 826.2 L1199.6 824.7 L1200.3 823.1 L1201.1 821.6 L1201.9 820.1 L1202.8 818.5 L1203.8 817 L1204.9 815.5 L1206 813.9 L1207.2 812.4 L1208.5 810.8 L1209.8 809.3 L1211.2 807.8 L1212.7 806.2 L1214.2 804.7 L1215.9 803.1 L1217.5 801.6 L1219.2 800.1 L1221 798.5 L1222.8 797 L1224.6 795.4 L1226.4 793.9 L1228.3 792.4 L1230.1 790.8 L1232 789.3 L1233.8 787.7 L1235.7 786.2 L1237.5 784.7 L1239.2 783.1 L1241 781.6 L1242.6 780 L1244.3 778.5 L1245.8 777 L1247.3 775.4 L1248.7 773.9 L1250 772.3 L1251.3 770.8 L1252.5 769.3 L1253.5 767.7 L1254.5 766.2 L1255.4 764.6 L1256.2 763.1 L1257 761.6 L1257.6 760 L1258.2 758.5 L1258.6 757 L1259 755.4 L1259.3 753.9 L1259.6 752.3 L1259.8 750.8 L1259.9 749.3 L1260 747.7 L1260.1 746.2 L1260.1 744.6 L1260.1 743.1 L1260 741.6 L1260 740 L1259.9 738.5 L1259.9 736.9 L1259.8 735.4 L1259.7 733.9 L1259.7 732.3 L1259.6 730.8 L1259.6 729.2 L1259.7 727.7 L1259.7 726.2 L1259.8 724.6 L1259.9 723.1 L1260 721.5 L1260.1 720 L1260.3 718.5 L1260.5 716.9 L1260.8 715.4 L1261 713.8 L1261.3 712.3 L1261.6 710.8 L1261.9 709.2 L1262.2 707.7 L1262.5 706.1 L1262.8 704.6 L1263 703.1 L1263.3 701.5 L1263.6 700 L1263.8 698.4 L1264 696.9 L1264.1 695.4 L1264.2 693.8 L1264.3 692.3 L1264.3 690.8 L1264.2 689.2 L1264.1 687.7 L1264 686.1 L1263.8 684.6 L1263.5 683.1 L1263.1 681.5 L1262.7 680 L1262.3 678.4 L1261.7 676.9 L1261.1 675.4 L1260.5 673.8 L1259.8 672.3 L1259.1 670.7 L1258.3 669.2 L1257.5 667.7 L1256.6 666.1 L1255.7 664.6 L1254.8 663 L1253.9 661.5 L1253 660 L1252 658.4 L1251 656.9 L1250.1 655.3 L1249.1 653.8 L1248.2 652.3 L1247.2 650.7 L1246.2 649.2 L1245.3 647.6 L1244.4 646.1 L1243.4 644.6 L1242.5 643 L1241.6 641.5 L1240.7 639.9 L1239.8 638.4 L1238.9 636.9 L1238 635.3 L1237.1 633.8 L1236.2 632.2 L1235.3 630.7 L1234.3 629.2 L1233.4 627.6 L1232.4 626.1 L1231.4 624.6 L1230.3 623 L1229.3 621.5 L1228.2 619.9 L1227.1 618.4 L1225.9 616.9 L1224.7 615.3 L1223.5 613.8 L1222.2 612.2 L1220.9 610.7 L1219.6 609.2 L1218.3 607.6 L1216.9 606.1 L1215.5 604.5 L1214.1 603 L1212.7 601.5 L1211.2 599.9 L1209.8 598.4 L1208.3 596.8 L1206.9 595.3 L1205.5 593.8 L1204.1 592.2 L1202.7 590.7 L1201.3 589.1 L1200 587.6 L1198.7 586.1 L1197.4 584.5 L1196.2 583 L1195 581.4 L1193.9 579.9 L1192.8 578.4 L1191.7 576.8 L1190.7 575.3 L1189.8 573.7 L1188.9 572.2 L1188 570.7 L1187.3 569.1 L1186.5 567.6 L1185.8 566.1 L1185.2 564.5 L1184.6 563 L1184 561.4 L1183.5 559.9 L1183 558.4 L1182.6 556.8 L1182.2 555.3 L1181.8 553.7 L1181.5 552.2 L1181.2 550.7 L1181 549.1 L1180.7 547.6 L1180.5 546 L1180.3 544.5 L1180.1 543 L1180 541.4" fill="none" stroke="#000" stroke-width="1.9" stroke-linejoin="round"/>
<text class="pl" transform="translate(651.5 494) scale(1 1.045)">E</text>
</g>
<g>
<rect x="1383.4" y="529.4" width="469.2" height="336.7" fill="#fff"/>
<path d="M1424.2 529.4V866.1" stroke="#efefef" stroke-width="1"/><path d="M1580.9 529.4V866.1" stroke="#efefef" stroke-width="1"/><path d="M1737.6 529.4V866.1" stroke="#efefef" stroke-width="1"/><path d="M1383.4 819.7H1852.6" stroke="#efefef" stroke-width="1"/><path d="M1383.4 757.6H1852.6" stroke="#efefef" stroke-width="1"/><path d="M1383.4 695.5H1852.6" stroke="#efefef" stroke-width="1"/><path d="M1383.4 633.4H1852.6" stroke="#efefef" stroke-width="1"/><path d="M1383.4 571.3H1852.6" stroke="#efefef" stroke-width="1"/><path d="M1502.5 529.4V866.1" stroke="#e6e6e6" stroke-width="1.4"/><path d="M1659.2 529.4V866.1" stroke="#e6e6e6" stroke-width="1.4"/><path d="M1815.9 529.4V866.1" stroke="#e6e6e6" stroke-width="1.4"/><path d="M1383.4 850.8H1852.6" stroke="#e6e6e6" stroke-width="1.4"/><path d="M1383.4 788.7H1852.6" stroke="#e6e6e6" stroke-width="1.4"/><path d="M1383.4 726.6H1852.6" stroke="#e6e6e6" stroke-width="1.4"/><path d="M1383.4 664.5H1852.6" stroke="#e6e6e6" stroke-width="1.4"/><path d="M1383.4 602.4H1852.6" stroke="#e6e6e6" stroke-width="1.4"/><path d="M1383.4 540.3H1852.6" stroke="#e6e6e6" stroke-width="1.4"/>
<g fill="#000"><ellipse cx="1419.8" cy="602.4" rx="4.1" ry="3.05"/><ellipse cx="1615.3" cy="552.7" rx="4.1" ry="3.05"/><ellipse cx="1705.6" cy="850.8" rx="4.1" ry="3.05"/><ellipse cx="1650" cy="639.6" rx="4.1" ry="3.05"/><ellipse cx="1511.6" cy="664.5" rx="4.1" ry="3.05"/><ellipse cx="1404.7" cy="565.1" rx="4.1" ry="3.05"/><ellipse cx="1760.8" cy="676.9" rx="4.1" ry="3.05"/><ellipse cx="1508.2" cy="639.6" rx="4.1" ry="3.05"/><ellipse cx="1615.3" cy="627.2" rx="4.1" ry="3.05"/><ellipse cx="1727.8" cy="689.3" rx="4.1" ry="3.05"/><ellipse cx="1417.6" cy="627.2" rx="4.1" ry="3.05"/><ellipse cx="1470.5" cy="552.7" rx="4.1" ry="3.05"/><ellipse cx="1769.8" cy="763.8" rx="4.1" ry="3.05"/><ellipse cx="1727.8" cy="726.6" rx="4.1" ry="3.05"/><ellipse cx="1473" cy="751.4" rx="4.1" ry="3.05"/><ellipse cx="1535.1" cy="726.6" rx="4.1" ry="3.05"/><ellipse cx="1645.3" cy="726.6" rx="4.1" ry="3.05"/><ellipse cx="1831.3" cy="763.8" rx="4.1" ry="3.05"/></g>
<path d="M1404.7 544.7 L1410.1 547.8 L1415.5 550.8 L1420.9 553.9 L1426.3 556.9 L1431.7 559.9 L1437.1 562.9 L1442.5 565.9 L1447.9 568.9 L1453.3 571.9 L1458.7 574.8 L1464.1 577.7 L1469.5 580.6 L1474.9 583.5 L1480.3 586.4 L1485.7 589.2 L1491.1 592 L1496.5 594.8 L1501.9 597.6 L1507.3 600.3 L1512.7 603 L1518.1 605.7 L1523.5 608.3 L1528.9 610.9 L1534.3 613.4 L1539.7 616 L1545.1 618.4 L1550.5 620.8 L1555.9 623.2 L1561.3 625.5 L1566.7 627.8 L1572.1 630 L1577.5 632.2 L1582.9 634.3 L1588.3 636.4 L1593.7 638.4 L1599.1 640.3 L1604.5 642.2 L1609.9 644 L1615.3 645.8 L1620.7 647.5 L1626.1 649.2 L1631.5 650.8 L1636.9 652.3 L1642.3 653.8 L1647.7 655.3 L1653.1 656.7 L1658.5 658 L1663.9 659.3 L1669.3 660.6 L1674.7 661.8 L1680.1 663 L1685.5 664.2 L1690.9 665.3 L1696.3 666.4 L1701.7 667.5 L1707.1 668.5 L1712.5 669.5 L1717.9 670.5 L1723.3 671.5 L1728.7 672.4 L1734.1 673.3 L1739.5 674.2 L1744.9 675.1 L1750.3 675.9 L1755.7 676.8 L1761.1 677.6 L1766.5 678.4 L1771.9 679.2 L1777.3 680 L1782.7 680.8 L1788.1 681.6 L1793.5 682.3 L1798.9 683 L1804.3 683.8 L1809.7 684.5 L1815.1 685.2 L1820.5 685.9 L1825.9 686.6 L1831.3 687.3 L1831.3 826.3 L1825.9 823.2 L1820.5 820.1 L1815.1 816.9 L1809.7 813.8 L1804.3 810.7 L1798.9 807.7 L1793.5 804.6 L1788.1 801.5 L1782.7 798.5 L1777.3 795.4 L1771.9 792.4 L1766.5 789.4 L1761.1 786.4 L1755.7 783.4 L1750.3 780.4 L1744.9 777.4 L1739.5 774.5 L1734.1 771.6 L1728.7 768.7 L1723.3 765.8 L1717.9 762.9 L1712.5 760.1 L1707.1 757.3 L1701.7 754.5 L1696.3 751.7 L1690.9 749 L1685.5 746.3 L1680.1 743.7 L1674.7 741 L1669.3 738.5 L1663.9 735.9 L1658.5 733.4 L1653.1 730.9 L1647.7 728.5 L1642.3 726.2 L1636.9 723.8 L1631.5 721.6 L1626.1 719.4 L1620.7 717.2 L1615.3 715.1 L1609.9 713.1 L1604.5 711.1 L1599.1 709.1 L1593.7 707.2 L1588.3 705.4 L1582.9 703.7 L1577.5 702 L1572.1 700.3 L1566.7 698.7 L1561.3 697.2 L1555.9 695.7 L1550.5 694.2 L1545.1 692.8 L1539.7 691.5 L1534.3 690.2 L1528.9 688.9 L1523.5 687.7 L1518.1 686.5 L1512.7 685.3 L1507.3 684.2 L1501.9 683.1 L1496.5 682.1 L1491.1 681 L1485.7 680 L1480.3 679 L1474.9 678.1 L1469.5 677.1 L1464.1 676.2 L1458.7 675.3 L1453.3 674.5 L1447.9 673.6 L1442.5 672.8 L1437.1 671.9 L1431.7 671.1 L1426.3 670.3 L1420.9 669.5 L1415.5 668.8 L1410.1 668 L1404.7 667.3Z" fill="#999" fill-opacity="0.4"/>
<path d="M1404.7 606L1831.3 756.8" stroke="#3063ff" stroke-width="2.9" fill="none"/>
<rect x="1383.4" y="529.4" width="469.2" height="336.7" fill="none" stroke="#404040" stroke-width="1.3"/>
<path d="M1502.5 866.1v3.6" stroke="#333" stroke-width="1.5"/><text transform="translate(1502.5 880.7) scale(1.36 1)" font-size="11.0" text-anchor="middle" fill="#4d4d4d" stroke="#4d4d4d">15</text><path d="M1659.2 866.1v3.6" stroke="#333" stroke-width="1.5"/><text transform="translate(1659.2 880.7) scale(1.36 1)" font-size="11.0" text-anchor="middle" fill="#4d4d4d" stroke="#4d4d4d">20</text><path d="M1815.9 866.1v3.6" stroke="#333" stroke-width="1.5"/><text transform="translate(1815.9 880.7) scale(1.36 1)" font-size="11.0" text-anchor="middle" fill="#4d4d4d" stroke="#4d4d4d">25</text><path d="M1383.4 850.8h-5" stroke="#333" stroke-width="1.5"/><text transform="translate(1373.8 854.7) scale(1.36 1)" font-size="11.0" text-anchor="end" fill="#4d4d4d" stroke="#4d4d4d">25</text><path d="M1383.4 788.7h-5" stroke="#333" stroke-width="1.5"/><text transform="translate(1373.8 792.6) scale(1.36 1)" font-size="11.0" text-anchor="end" fill="#4d4d4d" stroke="#4d4d4d">30</text><path d="M1383.4 726.6h-5" stroke="#333" stroke-width="1.5"/><text transform="translate(1373.8 730.5) scale(1.36 1)" font-size="11.0" text-anchor="end" fill="#4d4d4d" stroke="#4d4d4d">35</text><path d="M1383.4 664.5h-5" stroke="#333" stroke-width="1.5"/><text transform="translate(1373.8 668.4) scale(1.36 1)" font-size="11.0" text-anchor="end" fill="#4d4d4d" stroke="#4d4d4d">40</text><path d="M1383.4 602.4h-5" stroke="#333" stroke-width="1.5"/><text transform="translate(1373.8 606.3) scale(1.36 1)" font-size="11.0" text-anchor="end" fill="#4d4d4d" stroke="#4d4d4d">45</text><path d="M1383.4 540.3h-5" stroke="#333" stroke-width="1.5"/><text transform="translate(1373.8 544.2) scale(1.36 1)" font-size="11.0" text-anchor="end" fill="#4d4d4d" stroke="#4d4d4d">50</text>
<text transform="translate(1618 895.7) scale(1.36 1)" font-size="13.8" text-anchor="middle" fill="#000" stroke="#000">CXCL8</text>
<text transform="translate(1348 697.8) rotate(-90) scale(1 1.36)" font-size="13.8" text-anchor="middle" fill="#000" stroke="#000">LVEF (%)</text>
<text xml:space="preserve" transform="translate(1404.7 544.1) scale(1.36 1)" font-size="13.8" fill="#000" stroke="#000"><tspan font-style="italic">R</tspan> =<tspan dx="3.2">−</tspan><tspan dx="2">0.65, </tspan><tspan font-style="italic">p</tspan> = 0.0034</text>
<path d="M1404.7 526.1 L1404.7 480.9 L1406.9 480.1 L1409 479.3 L1411.2 478.5 L1413.3 477.7 L1415.4 477 L1417.6 476.2 L1419.7 475.5 L1421.9 474.8 L1424 474.1 L1426.2 473.4 L1428.3 472.8 L1430.4 472.2 L1432.6 471.6 L1434.7 471 L1436.9 470.4 L1439 469.9 L1441.2 469.4 L1443.3 468.9 L1445.5 468.5 L1447.6 468 L1449.7 467.6 L1451.9 467.3 L1454 466.9 L1456.2 466.6 L1458.3 466.3 L1460.5 466 L1462.6 465.7 L1464.7 465.5 L1466.9 465.3 L1469 465.1 L1471.2 465 L1473.3 464.8 L1475.5 464.7 L1477.6 464.7 L1479.7 464.6 L1481.9 464.6 L1484 464.5 L1486.2 464.5 L1488.3 464.6 L1490.5 464.6 L1492.6 464.6 L1494.8 464.7 L1496.9 464.8 L1499 464.9 L1501.2 465 L1503.3 465.2 L1505.5 465.3 L1507.6 465.5 L1509.8 465.6 L1511.9 465.8 L1514 466 L1516.2 466.2 L1518.3 466.4 L1520.5 466.6 L1522.6 466.8 L1524.8 467 L1526.9 467.2 L1529 467.4 L1531.2 467.6 L1533.3 467.8 L1535.5 468 L1537.6 468.2 L1539.8 468.4 L1541.9 468.6 L1544.1 468.8 L1546.2 469 L1548.3 469.1 L1550.5 469.3 L1552.6 469.5 L1554.8 469.6 L1556.9 469.8 L1559.1 469.9 L1561.2 470 L1563.3 470.1 L1565.5 470.2 L1567.6 470.3 L1569.8 470.3 L1571.9 470.4 L1574.1 470.5 L1576.2 470.5 L1578.3 470.5 L1580.5 470.5 L1582.6 470.5 L1584.8 470.5 L1586.9 470.5 L1589.1 470.4 L1591.2 470.4 L1593.4 470.3 L1595.5 470.2 L1597.6 470.2 L1599.8 470.1 L1601.9 470 L1604.1 469.8 L1606.2 469.7 L1608.4 469.6 L1610.5 469.5 L1612.6 469.3 L1614.8 469.2 L1616.9 469 L1619.1 468.8 L1621.2 468.7 L1623.4 468.5 L1625.5 468.3 L1627.6 468.2 L1629.8 468 L1631.9 467.8 L1634.1 467.6 L1636.2 467.4 L1638.4 467.3 L1640.5 467.1 L1642.6 466.9 L1644.8 466.7 L1646.9 466.6 L1649.1 466.4 L1651.2 466.2 L1653.4 466.1 L1655.5 465.9 L1657.7 465.8 L1659.8 465.6 L1661.9 465.5 L1664.1 465.3 L1666.2 465.2 L1668.4 465.1 L1670.5 465 L1672.7 464.9 L1674.8 464.8 L1676.9 464.7 L1679.1 464.7 L1681.2 464.6 L1683.4 464.6 L1685.5 464.5 L1687.7 464.5 L1689.8 464.5 L1691.9 464.5 L1694.1 464.5 L1696.2 464.6 L1698.4 464.6 L1700.5 464.7 L1702.7 464.7 L1704.8 464.8 L1707 464.9 L1709.1 465.1 L1711.2 465.2 L1713.4 465.4 L1715.5 465.5 L1717.7 465.7 L1719.8 466 L1722 466.2 L1724.1 466.4 L1726.2 466.7 L1728.4 467 L1730.5 467.3 L1732.7 467.6 L1734.8 467.9 L1737 468.3 L1739.1 468.7 L1741.2 469.1 L1743.4 469.5 L1745.5 469.9 L1747.7 470.4 L1749.8 470.9 L1752 471.4 L1754.1 471.9 L1756.3 472.4 L1758.4 472.9 L1760.5 473.5 L1762.7 474.1 L1764.8 474.7 L1767 475.3 L1769.1 475.9 L1771.3 476.5 L1773.4 477.2 L1775.5 477.8 L1777.7 478.5 L1779.8 479.2 L1782 479.9 L1784.1 480.6 L1786.3 481.3 L1788.4 482.1 L1790.5 482.8 L1792.7 483.6 L1794.8 484.3 L1797 485.1 L1799.1 485.9 L1801.3 486.6 L1803.4 487.4 L1805.6 488.2 L1807.7 489 L1809.8 489.8 L1812 490.5 L1814.1 491.3 L1816.3 492.1 L1818.4 492.9 L1820.6 493.7 L1822.7 494.5 L1824.8 495.3 L1827 496 L1829.1 496.8 L1831.3 497.6 L1831.3 526.1Z" fill="#ffa500"/>
<path d="M1404.7 480.9 L1406.9 480.1 L1409 479.3 L1411.2 478.5 L1413.3 477.7 L1415.4 477 L1417.6 476.2 L1419.7 475.5 L1421.9 474.8 L1424 474.1 L1426.2 473.4 L1428.3 472.8 L1430.4 472.2 L1432.6 471.6 L1434.7 471 L1436.9 470.4 L1439 469.9 L1441.2 469.4 L1443.3 468.9 L1445.5 468.5 L1447.6 468 L1449.7 467.6 L1451.9 467.3 L1454 466.9 L1456.2 466.6 L1458.3 466.3 L1460.5 466 L1462.6 465.7 L1464.7 465.5 L1466.9 465.3 L1469 465.1 L1471.2 465 L1473.3 464.8 L1475.5 464.7 L1477.6 464.7 L1479.7 464.6 L1481.9 464.6 L1484 464.5 L1486.2 464.5 L1488.3 464.6 L1490.5 464.6 L1492.6 464.6 L1494.8 464.7 L1496.9 464.8 L1499 464.9 L1501.2 465 L1503.3 465.2 L1505.5 465.3 L1507.6 465.5 L1509.8 465.6 L1511.9 465.8 L1514 466 L1516.2 466.2 L1518.3 466.4 L1520.5 466.6 L1522.6 466.8 L1524.8 467 L1526.9 467.2 L1529 467.4 L1531.2 467.6 L1533.3 467.8 L1535.5 468 L1537.6 468.2 L1539.8 468.4 L1541.9 468.6 L1544.1 468.8 L1546.2 469 L1548.3 469.1 L1550.5 469.3 L1552.6 469.5 L1554.8 469.6 L1556.9 469.8 L1559.1 469.9 L1561.2 470 L1563.3 470.1 L1565.5 470.2 L1567.6 470.3 L1569.8 470.3 L1571.9 470.4 L1574.1 470.5 L1576.2 470.5 L1578.3 470.5 L1580.5 470.5 L1582.6 470.5 L1584.8 470.5 L1586.9 470.5 L1589.1 470.4 L1591.2 470.4 L1593.4 470.3 L1595.5 470.2 L1597.6 470.2 L1599.8 470.1 L1601.9 470 L1604.1 469.8 L1606.2 469.7 L1608.4 469.6 L1610.5 469.5 L1612.6 469.3 L1614.8 469.2 L1616.9 469 L1619.1 468.8 L1621.2 468.7 L1623.4 468.5 L1625.5 468.3 L1627.6 468.2 L1629.8 468 L1631.9 467.8 L1634.1 467.6 L1636.2 467.4 L1638.4 467.3 L1640.5 467.1 L1642.6 466.9 L1644.8 466.7 L1646.9 466.6 L1649.1 466.4 L1651.2 466.2 L1653.4 466.1 L1655.5 465.9 L1657.7 465.8 L1659.8 465.6 L1661.9 465.5 L1664.1 465.3 L1666.2 465.2 L1668.4 465.1 L1670.5 465 L1672.7 464.9 L1674.8 464.8 L1676.9 464.7 L1679.1 464.7 L1681.2 464.6 L1683.4 464.6 L1685.5 464.5 L1687.7 464.5 L1689.8 464.5 L1691.9 464.5 L1694.1 464.5 L1696.2 464.6 L1698.4 464.6 L1700.5 464.7 L1702.7 464.7 L1704.8 464.8 L1707 464.9 L1709.1 465.1 L1711.2 465.2 L1713.4 465.4 L1715.5 465.5 L1717.7 465.7 L1719.8 466 L1722 466.2 L1724.1 466.4 L1726.2 466.7 L1728.4 467 L1730.5 467.3 L1732.7 467.6 L1734.8 467.9 L1737 468.3 L1739.1 468.7 L1741.2 469.1 L1743.4 469.5 L1745.5 469.9 L1747.7 470.4 L1749.8 470.9 L1752 471.4 L1754.1 471.9 L1756.3 472.4 L1758.4 472.9 L1760.5 473.5 L1762.7 474.1 L1764.8 474.7 L1767 475.3 L1769.1 475.9 L1771.3 476.5 L1773.4 477.2 L1775.5 477.8 L1777.7 478.5 L1779.8 479.2 L1782 479.9 L1784.1 480.6 L1786.3 481.3 L1788.4 482.1 L1790.5 482.8 L1792.7 483.6 L1794.8 484.3 L1797 485.1 L1799.1 485.9 L1801.3 486.6 L1803.4 487.4 L1805.6 488.2 L1807.7 489 L1809.8 489.8 L1812 490.5 L1814.1 491.3 L1816.3 492.1 L1818.4 492.9 L1820.6 493.7 L1822.7 494.5 L1824.8 495.3 L1827 496 L1829.1 496.8 L1831.3 497.6" fill="none" stroke="#0a0a14" stroke-width="1.7" stroke-linejoin="round"/>
<path d="M1857.4 850.8 L1872 850.8 L1872.2 849.3 L1872.5 847.7 L1872.7 846.2 L1872.9 844.6 L1873.1 843.1 L1873.3 841.6 L1873.6 840 L1873.8 838.5 L1874.1 837 L1874.4 835.4 L1874.7 833.9 L1875 832.3 L1875.3 830.8 L1875.6 829.3 L1876 827.7 L1876.4 826.2 L1876.8 824.6 L1877.3 823.1 L1877.8 821.6 L1878.3 820 L1878.9 818.5 L1879.5 817 L1880.1 815.4 L1880.8 813.9 L1881.6 812.3 L1882.3 810.8 L1883.1 809.3 L1884 807.7 L1884.9 806.2 L1885.8 804.7 L1886.8 803.1 L1887.9 801.6 L1888.9 800 L1890.1 798.5 L1891.2 797 L1892.4 795.4 L1893.6 793.9 L1894.9 792.3 L1896.2 790.8 L1897.5 789.3 L1898.9 787.7 L1900.2 786.2 L1901.6 784.7 L1903 783.1 L1904.5 781.6 L1905.9 780 L1907.3 778.5 L1908.8 777 L1910.2 775.4 L1911.6 773.9 L1913.1 772.4 L1914.5 770.8 L1915.9 769.3 L1917.2 767.7 L1918.6 766.2 L1919.9 764.7 L1921.2 763.1 L1922.4 761.6 L1923.7 760 L1924.8 758.5 L1926 757 L1927.1 755.4 L1928.1 753.9 L1929.1 752.4 L1930 750.8 L1930.9 749.3 L1931.8 747.7 L1932.6 746.2 L1933.3 744.7 L1934 743.1 L1934.6 741.6 L1935.2 740 L1935.7 738.5 L1936.2 737 L1936.6 735.4 L1936.9 733.9 L1937.3 732.4 L1937.6 730.8 L1937.8 729.3 L1938 727.7 L1938.2 726.2 L1938.3 724.7 L1938.4 723.1 L1938.4 721.6 L1938.5 720.1 L1938.5 718.5 L1938.5 717 L1938.5 715.4 L1938.5 713.9 L1938.4 712.4 L1938.4 710.8 L1938.3 709.3 L1938.3 707.7 L1938.2 706.2 L1938.2 704.7 L1938.1 703.1 L1938.1 701.6 L1938.1 700.1 L1938.1 698.5 L1938.1 697 L1938.1 695.4 L1938.1 693.9 L1938.2 692.4 L1938.2 690.8 L1938.3 689.3 L1938.4 687.8 L1938.5 686.2 L1938.6 684.7 L1938.8 683.1 L1939 681.6 L1939.1 680.1 L1939.3 678.5 L1939.5 677 L1939.7 675.4 L1940 673.9 L1940.2 672.4 L1940.4 670.8 L1940.7 669.3 L1940.9 667.8 L1941.1 666.2 L1941.3 664.7 L1941.6 663.1 L1941.8 661.6 L1942 660.1 L1942.1 658.5 L1942.3 657 L1942.4 655.5 L1942.5 653.9 L1942.6 652.4 L1942.7 650.8 L1942.7 649.3 L1942.7 647.8 L1942.7 646.2 L1942.6 644.7 L1942.5 643.1 L1942.4 641.6 L1942.2 640.1 L1942 638.5 L1941.7 637 L1941.4 635.5 L1941.1 633.9 L1940.8 632.4 L1940.4 630.8 L1939.9 629.3 L1939.5 627.8 L1939 626.2 L1938.5 624.7 L1937.9 623.1 L1937.3 621.6 L1936.7 620.1 L1936.1 618.5 L1935.4 617 L1934.8 615.5 L1934.1 613.9 L1933.4 612.4 L1932.7 610.8 L1931.9 609.3 L1931.2 607.8 L1930.5 606.2 L1929.7 604.7 L1929 603.2 L1928.2 601.6 L1927.5 600.1 L1926.7 598.5 L1926 597 L1925.3 595.5 L1924.5 593.9 L1923.8 592.4 L1923.1 590.8 L1922.4 589.3 L1921.6 587.8 L1920.9 586.2 L1920.2 584.7 L1919.5 583.2 L1918.8 581.6 L1918.1 580.1 L1917.4 578.5 L1916.7 577 L1916 575.5 L1915.3 573.9 L1914.6 572.4 L1913.9 570.9 L1913.2 569.3 L1912.5 567.8 L1911.7 566.2 L1911 564.7 L1910.2 563.2 L1909.4 561.6 L1908.6 560.1 L1907.8 558.5 L1906.9 557 L1906.1 555.5 L1905.2 553.9 L1904.3 552.4 L1903.4 550.9 L1902.4 549.3 L1901.5 547.8 L1900.5 546.2 L1899.5 544.7 L1857.4 544.7Z" fill="#0000ff"/>
<path d="M1872 850.8 L1872.2 849.3 L1872.5 847.7 L1872.7 846.2 L1872.9 844.6 L1873.1 843.1 L1873.3 841.6 L1873.6 840 L1873.8 838.5 L1874.1 837 L1874.4 835.4 L1874.7 833.9 L1875 832.3 L1875.3 830.8 L1875.6 829.3 L1876 827.7 L1876.4 826.2 L1876.8 824.6 L1877.3 823.1 L1877.8 821.6 L1878.3 820 L1878.9 818.5 L1879.5 817 L1880.1 815.4 L1880.8 813.9 L1881.6 812.3 L1882.3 810.8 L1883.1 809.3 L1884 807.7 L1884.9 806.2 L1885.8 804.7 L1886.8 803.1 L1887.9 801.6 L1888.9 800 L1890.1 798.5 L1891.2 797 L1892.4 795.4 L1893.6 793.9 L1894.9 792.3 L1896.2 790.8 L1897.5 789.3 L1898.9 787.7 L1900.2 786.2 L1901.6 784.7 L1903 783.1 L1904.5 781.6 L1905.9 780 L1907.3 778.5 L1908.8 777 L1910.2 775.4 L1911.6 773.9 L1913.1 772.4 L1914.5 770.8 L1915.9 769.3 L1917.2 767.7 L1918.6 766.2 L1919.9 764.7 L1921.2 763.1 L1922.4 761.6 L1923.7 760 L1924.8 758.5 L1926 757 L1927.1 755.4 L1928.1 753.9 L1929.1 752.4 L1930 750.8 L1930.9 749.3 L1931.8 747.7 L1932.6 746.2 L1933.3 744.7 L1934 743.1 L1934.6 741.6 L1935.2 740 L1935.7 738.5 L1936.2 737 L1936.6 735.4 L1936.9 733.9 L1937.3 732.4 L1937.6 730.8 L1937.8 729.3 L1938 727.7 L1938.2 726.2 L1938.3 724.7 L1938.4 723.1 L1938.4 721.6 L1938.5 720.1 L1938.5 718.5 L1938.5 717 L1938.5 715.4 L1938.5 713.9 L1938.4 712.4 L1938.4 710.8 L1938.3 709.3 L1938.3 707.7 L1938.2 706.2 L1938.2 704.7 L1938.1 703.1 L1938.1 701.6 L1938.1 700.1 L1938.1 698.5 L1938.1 697 L1938.1 695.4 L1938.1 693.9 L1938.2 692.4 L1938.2 690.8 L1938.3 689.3 L1938.4 687.8 L1938.5 686.2 L1938.6 684.7 L1938.8 683.1 L1939 681.6 L1939.1 680.1 L1939.3 678.5 L1939.5 677 L1939.7 675.4 L1940 673.9 L1940.2 672.4 L1940.4 670.8 L1940.7 669.3 L1940.9 667.8 L1941.1 666.2 L1941.3 664.7 L1941.6 663.1 L1941.8 661.6 L1942 660.1 L1942.1 658.5 L1942.3 657 L1942.4 655.5 L1942.5 653.9 L1942.6 652.4 L1942.7 650.8 L1942.7 649.3 L1942.7 647.8 L1942.7 646.2 L1942.6 644.7 L1942.5 643.1 L1942.4 641.6 L1942.2 640.1 L1942 638.5 L1941.7 637 L1941.4 635.5 L1941.1 633.9 L1940.8 632.4 L1940.4 630.8 L1939.9 629.3 L1939.5 627.8 L1939 626.2 L1938.5 624.7 L1937.9 623.1 L1937.3 621.6 L1936.7 620.1 L1936.1 618.5 L1935.4 617 L1934.8 615.5 L1934.1 613.9 L1933.4 612.4 L1932.7 610.8 L1931.9 609.3 L1931.2 607.8 L1930.5 606.2 L1929.7 604.7 L1929 603.2 L1928.2 601.6 L1927.5 600.1 L1926.7 598.5 L1926 597 L1925.3 595.5 L1924.5 593.9 L1923.8 592.4 L1923.1 590.8 L1922.4 589.3 L1921.6 587.8 L1920.9 586.2 L1920.2 584.7 L1919.5 583.2 L1918.8 581.6 L1918.1 580.1 L1917.4 578.5 L1916.7 577 L1916 575.5 L1915.3 573.9 L1914.6 572.4 L1913.9 570.9 L1913.2 569.3 L1912.5 567.8 L1911.7 566.2 L1911 564.7 L1910.2 563.2 L1909.4 561.6 L1908.6 560.1 L1907.8 558.5 L1906.9 557 L1906.1 555.5 L1905.2 553.9 L1904.3 552.4 L1903.4 550.9 L1902.4 549.3 L1901.5 547.8 L1900.5 546.2 L1899.5 544.7" fill="none" stroke="#000" stroke-width="1.9" stroke-linejoin="round"/>
<text class="pl" transform="translate(1329.5 494) scale(1 1.045)">F</text>
</g>
<g>
<rect x="77.7" y="1011.6" width="447.8" height="336.9" fill="#fff"/>
<path d="M128.5 1011.6V1348.5" stroke="#efefef" stroke-width="1"/><path d="M295.7 1011.6V1348.5" stroke="#efefef" stroke-width="1"/><path d="M463 1011.6V1348.5" stroke="#efefef" stroke-width="1"/><path d="M77.7 1335.5H525.5" stroke="#efefef" stroke-width="1"/><path d="M77.7 1244.5H525.5" stroke="#efefef" stroke-width="1"/><path d="M77.7 1153.4H525.5" stroke="#efefef" stroke-width="1"/><path d="M77.7 1062.4H525.5" stroke="#efefef" stroke-width="1"/><path d="M212.1 1011.6V1348.5" stroke="#e6e6e6" stroke-width="1.4"/><path d="M379.4 1011.6V1348.5" stroke="#e6e6e6" stroke-width="1.4"/><path d="M77.7 1290H525.5" stroke="#e6e6e6" stroke-width="1.4"/><path d="M77.7 1199H525.5" stroke="#e6e6e6" stroke-width="1.4"/><path d="M77.7 1107.9H525.5" stroke="#e6e6e6" stroke-width="1.4"/><path d="M77.7 1016.9H525.5" stroke="#e6e6e6" stroke-width="1.4"/>
<g fill="#000"><ellipse cx="395.4" cy="1277.3" rx="4.1" ry="3.05"/><ellipse cx="223.5" cy="1280.1" rx="4.1" ry="3.05"/><ellipse cx="319.2" cy="1265.6" rx="4.1" ry="3.05"/><ellipse cx="505.1" cy="1282.9" rx="4.1" ry="3.05"/><ellipse cx="352.3" cy="1275.4" rx="4.1" ry="3.05"/><ellipse cx="101.7" cy="1283.4" rx="4.1" ry="3.05"/><ellipse cx="470.7" cy="1266.5" rx="4.1" ry="3.05"/><ellipse cx="324.2" cy="1281.1" rx="4.1" ry="3.05"/><ellipse cx="366.3" cy="1286.2" rx="4.1" ry="3.05"/><ellipse cx="359.3" cy="1268.9" rx="4.1" ry="3.05"/><ellipse cx="350.6" cy="1281.1" rx="4.1" ry="3.05"/><ellipse cx="260" cy="1245.8" rx="4.1" ry="3.05"/><ellipse cx="382.4" cy="1244.5" rx="4.1" ry="3.05"/><ellipse cx="476.7" cy="1268" rx="4.1" ry="3.05"/><ellipse cx="252.9" cy="1269.3" rx="4.1" ry="3.05"/><ellipse cx="98.1" cy="1080.6" rx="4.1" ry="3.05"/><ellipse cx="293.4" cy="1026.9" rx="4.1" ry="3.05"/><ellipse cx="487.1" cy="1139.7" rx="4.1" ry="3.05"/></g>
<path d="M98.1 1118.8 L103.2 1121.1 L108.4 1123.3 L113.5 1125.6 L118.7 1127.9 L123.8 1130.1 L129 1132.4 L134.1 1134.6 L139.3 1136.8 L144.4 1139 L149.6 1141.2 L154.7 1143.4 L159.9 1145.6 L165 1147.8 L170.2 1149.9 L175.4 1152.1 L180.5 1154.2 L185.7 1156.3 L190.8 1158.4 L196 1160.5 L201.1 1162.5 L206.3 1164.5 L211.4 1166.6 L216.6 1168.5 L221.7 1170.5 L226.9 1172.4 L232 1174.3 L237.2 1176.2 L242.3 1178 L247.5 1179.8 L252.6 1181.6 L257.8 1183.3 L263 1185 L268.1 1186.6 L273.3 1188.2 L278.4 1189.7 L283.6 1191.1 L288.7 1192.5 L293.9 1193.9 L299 1195.2 L304.2 1196.4 L309.3 1197.5 L314.5 1198.6 L319.6 1199.6 L324.8 1200.5 L329.9 1201.3 L335.1 1202.1 L340.2 1202.8 L345.4 1203.4 L350.6 1203.9 L355.7 1204.4 L360.9 1204.8 L366 1205.1 L371.2 1205.4 L376.3 1205.5 L381.5 1205.6 L386.6 1205.7 L391.8 1205.7 L396.9 1205.6 L402.1 1205.5 L407.2 1205.4 L412.4 1205.2 L417.5 1204.9 L422.7 1204.6 L427.8 1204.3 L433 1203.9 L438.2 1203.5 L443.3 1203.1 L448.5 1202.6 L453.6 1202.1 L458.8 1201.6 L463.9 1201.1 L469.1 1200.5 L474.2 1199.9 L479.4 1199.3 L484.5 1198.7 L489.7 1198.1 L494.8 1197.4 L500 1196.8 L505.1 1196.1 L505.1 1333.2 L500 1331 L494.8 1328.9 L489.7 1326.8 L484.5 1324.6 L479.4 1322.5 L474.2 1320.5 L469.1 1318.4 L463.9 1316.4 L458.8 1314.4 L453.6 1312.4 L448.5 1310.4 L443.3 1308.5 L438.2 1306.6 L433 1304.7 L427.8 1302.8 L422.7 1301 L417.5 1299.3 L412.4 1297.5 L407.2 1295.9 L402.1 1294.2 L396.9 1292.6 L391.8 1291.1 L386.6 1289.6 L381.5 1288.2 L376.3 1286.8 L371.2 1285.5 L366 1284.3 L360.9 1283.2 L355.7 1282.1 L350.6 1281.1 L345.4 1280.1 L340.2 1279.2 L335.1 1278.5 L329.9 1277.8 L324.8 1277.1 L319.6 1276.6 L314.5 1276.1 L309.3 1275.7 L304.2 1275.3 L299 1275.1 L293.9 1274.9 L288.7 1274.7 L283.6 1274.7 L278.4 1274.7 L273.3 1274.7 L268.1 1274.8 L263 1274.9 L257.8 1275.1 L252.6 1275.4 L247.5 1275.7 L242.3 1276 L237.2 1276.3 L232 1276.7 L226.9 1277.1 L221.7 1277.6 L216.6 1278.1 L211.4 1278.6 L206.3 1279.1 L201.1 1279.7 L196 1280.2 L190.8 1280.8 L185.7 1281.5 L180.5 1282.1 L175.4 1282.7 L170.2 1283.4 L165 1284.1 L159.9 1284.8 L154.7 1285.5 L149.6 1286.2 L144.4 1286.9 L139.3 1287.7 L134.1 1288.4 L129 1289.2 L123.8 1289.9 L118.7 1290.7 L113.5 1291.5 L108.4 1292.3 L103.2 1293.1 L98.1 1293.9Z" fill="#999" fill-opacity="0.4"/>
<path d="M98.1 1206.3L505.1 1264.6" stroke="#3063ff" stroke-width="2.9" fill="none"/>
<rect x="77.7" y="1011.6" width="447.8" height="336.9" fill="none" stroke="#404040" stroke-width="1.3"/>
<path d="M212.1 1348.5v3.6" stroke="#333" stroke-width="1.5"/><text transform="translate(212.1 1363.1) scale(1.36 1)" font-size="11.0" text-anchor="middle" fill="#4d4d4d" stroke="#4d4d4d">4.0</text><path d="M379.4 1348.5v3.6" stroke="#333" stroke-width="1.5"/><text transform="translate(379.4 1363.1) scale(1.36 1)" font-size="11.0" text-anchor="middle" fill="#4d4d4d" stroke="#4d4d4d">4.5</text><path d="M77.7 1290h-5" stroke="#333" stroke-width="1.5"/><text transform="translate(68.1 1293.9) scale(1.36 1)" font-size="11.0" text-anchor="end" fill="#4d4d4d" stroke="#4d4d4d">0</text><path d="M77.7 1199h-5" stroke="#333" stroke-width="1.5"/><text transform="translate(68.1 1202.9) scale(1.36 1)" font-size="11.0" text-anchor="end" fill="#4d4d4d" stroke="#4d4d4d">5000</text><path d="M77.7 1107.9h-5" stroke="#333" stroke-width="1.5"/><text transform="translate(68.1 1111.8) scale(1.36 1)" font-size="11.0" text-anchor="end" fill="#4d4d4d" stroke="#4d4d4d">10000</text><path d="M77.7 1016.9h-5" stroke="#333" stroke-width="1.5"/><text transform="translate(68.1 1020.8) scale(1.36 1)" font-size="11.0" text-anchor="end" fill="#4d4d4d" stroke="#4d4d4d">15000</text>
<text transform="translate(301.6 1378.1) scale(1.36 1)" font-size="13.8" text-anchor="middle" fill="#000" stroke="#000">FOS</text>
<text transform="translate(16 1180) rotate(-90) scale(1 1.36)" font-size="13.8" text-anchor="middle" fill="#000" stroke="#000">NT−proBNP</text>
<text xml:space="preserve" transform="translate(98.1 1028.3) scale(1.36 1)" font-size="13.8" fill="#000" stroke="#000"><tspan font-style="italic">R</tspan> =<tspan dx="3.2">−</tspan><tspan dx="2">0.055, </tspan><tspan font-style="italic">p</tspan> = 0.83</text>
<path d="M98.1 1008.3 L98.1 992.4 L100.1 992.3 L102.1 992.3 L104.2 992.3 L106.2 992.3 L108.3 992.4 L110.3 992.5 L112.4 992.6 L114.4 992.7 L116.5 992.8 L118.5 993 L120.6 993.2 L122.6 993.3 L124.6 993.5 L126.7 993.7 L128.7 993.9 L130.8 994.2 L132.8 994.4 L134.9 994.6 L136.9 994.8 L139 995 L141 995.2 L143.1 995.4 L145.1 995.6 L147.2 995.7 L149.2 995.9 L151.2 996 L153.3 996.1 L155.3 996.2 L157.4 996.3 L159.4 996.3 L161.5 996.3 L163.5 996.3 L165.6 996.2 L167.6 996.1 L169.7 996 L171.7 995.9 L173.7 995.7 L175.8 995.5 L177.8 995.2 L179.9 994.9 L181.9 994.6 L184 994.3 L186 993.9 L188.1 993.5 L190.1 993 L192.2 992.6 L194.2 992.1 L196.2 991.6 L198.3 991 L200.3 990.4 L202.4 989.9 L204.4 989.2 L206.5 988.6 L208.5 988 L210.6 987.3 L212.6 986.6 L214.7 986 L216.7 985.3 L218.7 984.6 L220.8 983.9 L222.8 983.1 L224.9 982.4 L226.9 981.7 L229 981 L231 980.2 L233.1 979.5 L235.1 978.8 L237.2 978.1 L239.2 977.3 L241.3 976.6 L243.3 975.9 L245.3 975.2 L247.4 974.5 L249.4 973.8 L251.5 973.1 L253.5 972.4 L255.6 971.7 L257.6 971 L259.7 970.3 L261.7 969.6 L263.8 968.9 L265.8 968.2 L267.8 967.5 L269.9 966.9 L271.9 966.2 L274 965.5 L276 964.8 L278.1 964.1 L280.1 963.4 L282.2 962.7 L284.2 962 L286.3 961.4 L288.3 960.7 L290.3 960 L292.4 959.3 L294.4 958.6 L296.5 957.9 L298.5 957.2 L300.6 956.5 L302.6 955.9 L304.7 955.2 L306.7 954.5 L308.8 953.9 L310.8 953.2 L312.9 952.6 L314.9 952 L316.9 951.4 L319 950.9 L321 950.3 L323.1 949.8 L325.1 949.3 L327.2 948.9 L329.2 948.5 L331.3 948.1 L333.3 947.8 L335.4 947.5 L337.4 947.2 L339.4 947 L341.5 946.9 L343.5 946.8 L345.6 946.7 L347.6 946.7 L349.7 946.7 L351.7 946.9 L353.8 947 L355.8 947.2 L357.9 947.5 L359.9 947.8 L361.9 948.2 L364 948.6 L366 949.1 L368.1 949.6 L370.1 950.1 L372.2 950.7 L374.2 951.4 L376.3 952.1 L378.3 952.8 L380.4 953.5 L382.4 954.3 L384.5 955.1 L386.5 955.9 L388.5 956.8 L390.6 957.6 L392.6 958.5 L394.7 959.3 L396.7 960.2 L398.8 961 L400.8 961.9 L402.9 962.7 L404.9 963.5 L407 964.3 L409 965.1 L411 965.8 L413.1 966.6 L415.1 967.2 L417.2 967.9 L419.2 968.5 L421.3 969.1 L423.3 969.6 L425.4 970.1 L427.4 970.6 L429.5 971 L431.5 971.4 L433.5 971.7 L435.6 972.1 L437.6 972.3 L439.7 972.6 L441.7 972.8 L443.8 973 L445.8 973.1 L447.9 973.2 L449.9 973.4 L452 973.4 L454 973.5 L456 973.6 L458.1 973.7 L460.1 973.7 L462.2 973.8 L464.2 973.8 L466.3 973.9 L468.3 974 L470.4 974.1 L472.4 974.2 L474.5 974.3 L476.5 974.4 L478.6 974.6 L480.6 974.8 L482.6 975 L484.7 975.3 L486.7 975.6 L488.8 975.9 L490.8 976.3 L492.9 976.7 L494.9 977.1 L497 977.5 L499 978 L501.1 978.6 L503.1 979.1 L505.1 979.7 L505.1 1008.3Z" fill="#ffa500"/>
<path d="M98.1 992.4 L100.1 992.3 L102.1 992.3 L104.2 992.3 L106.2 992.3 L108.3 992.4 L110.3 992.5 L112.4 992.6 L114.4 992.7 L116.5 992.8 L118.5 993 L120.6 993.2 L122.6 993.3 L124.6 993.5 L126.7 993.7 L128.7 993.9 L130.8 994.2 L132.8 994.4 L134.9 994.6 L136.9 994.8 L139 995 L141 995.2 L143.1 995.4 L145.1 995.6 L147.2 995.7 L149.2 995.9 L151.2 996 L153.3 996.1 L155.3 996.2 L157.4 996.3 L159.4 996.3 L161.5 996.3 L163.5 996.3 L165.6 996.2 L167.6 996.1 L169.7 996 L171.7 995.9 L173.7 995.7 L175.8 995.5 L177.8 995.2 L179.9 994.9 L181.9 994.6 L184 994.3 L186 993.9 L188.1 993.5 L190.1 993 L192.2 992.6 L194.2 992.1 L196.2 991.6 L198.3 991 L200.3 990.4 L202.4 989.9 L204.4 989.2 L206.5 988.6 L208.5 988 L210.6 987.3 L212.6 986.6 L214.7 986 L216.7 985.3 L218.7 984.6 L220.8 983.9 L222.8 983.1 L224.9 982.4 L226.9 981.7 L229 981 L231 980.2 L233.1 979.5 L235.1 978.8 L237.2 978.1 L239.2 977.3 L241.3 976.6 L243.3 975.9 L245.3 975.2 L247.4 974.5 L249.4 973.8 L251.5 973.1 L253.5 972.4 L255.6 971.7 L257.6 971 L259.7 970.3 L261.7 969.6 L263.8 968.9 L265.8 968.2 L267.8 967.5 L269.9 966.9 L271.9 966.2 L274 965.5 L276 964.8 L278.1 964.1 L280.1 963.4 L282.2 962.7 L284.2 962 L286.3 961.4 L288.3 960.7 L290.3 960 L292.4 959.3 L294.4 958.6 L296.5 957.9 L298.5 957.2 L300.6 956.5 L302.6 955.9 L304.7 955.2 L306.7 954.5 L308.8 953.9 L310.8 953.2 L312.9 952.6 L314.9 952 L316.9 951.4 L319 950.9 L321 950.3 L323.1 949.8 L325.1 949.3 L327.2 948.9 L329.2 948.5 L331.3 948.1 L333.3 947.8 L335.4 947.5 L337.4 947.2 L339.4 947 L341.5 946.9 L343.5 946.8 L345.6 946.7 L347.6 946.7 L349.7 946.7 L351.7 946.9 L353.8 947 L355.8 947.2 L357.9 947.5 L359.9 947.8 L361.9 948.2 L364 948.6 L366 949.1 L368.1 949.6 L370.1 950.1 L372.2 950.7 L374.2 951.4 L376.3 952.1 L378.3 952.8 L380.4 953.5 L382.4 954.3 L384.5 955.1 L386.5 955.9 L388.5 956.8 L390.6 957.6 L392.6 958.5 L394.7 959.3 L396.7 960.2 L398.8 961 L400.8 961.9 L402.9 962.7 L404.9 963.5 L407 964.3 L409 965.1 L411 965.8 L413.1 966.6 L415.1 967.2 L417.2 967.9 L419.2 968.5 L421.3 969.1 L423.3 969.6 L425.4 970.1 L427.4 970.6 L429.5 971 L431.5 971.4 L433.5 971.7 L435.6 972.1 L437.6 972.3 L439.7 972.6 L441.7 972.8 L443.8 973 L445.8 973.1 L447.9 973.2 L449.9 973.4 L452 973.4 L454 973.5 L456 973.6 L458.1 973.7 L460.1 973.7 L462.2 973.8 L464.2 973.8 L466.3 973.9 L468.3 974 L470.4 974.1 L472.4 974.2 L474.5 974.3 L476.5 974.4 L478.6 974.6 L480.6 974.8 L482.6 975 L484.7 975.3 L486.7 975.6 L488.8 975.9 L490.8 976.3 L492.9 976.7 L494.9 977.1 L497 977.5 L499 978 L501.1 978.6 L503.1 979.1 L505.1 979.7" fill="none" stroke="#0a0a14" stroke-width="1.7" stroke-linejoin="round"/>
<path d="M530.3 1333.2 L530.3 1333.2 L530.3 1331.6 L530.3 1330.1 L530.3 1328.6 L530.3 1327 L530.3 1325.5 L530.4 1324 L530.4 1322.4 L530.5 1320.9 L530.6 1319.3 L530.7 1317.8 L530.9 1316.3 L531.2 1314.7 L531.7 1313.2 L532.2 1311.6 L533 1310.1 L534 1308.6 L535.3 1307 L537 1305.5 L539.1 1303.9 L541.6 1302.4 L544.6 1300.9 L548.1 1299.3 L552.1 1297.8 L556.7 1296.2 L561.6 1294.7 L567 1293.2 L572.6 1291.6 L578.3 1290.1 L584 1288.6 L589.5 1287 L594.8 1285.5 L599.5 1283.9 L603.6 1282.4 L606.9 1280.9 L609.5 1279.3 L611.1 1277.8 L611.7 1276.2 L611.4 1274.7 L610.3 1273.2 L608.3 1271.6 L605.5 1270.1 L602.1 1268.5 L598.3 1267 L594 1265.5 L589.6 1263.9 L585 1262.4 L580.6 1260.9 L576.2 1259.3 L572.2 1257.8 L568.5 1256.2 L565.1 1254.7 L562.1 1253.2 L559.4 1251.6 L557.1 1250.1 L555 1248.5 L553.2 1247 L551.5 1245.5 L549.8 1243.9 L548.3 1242.4 L546.7 1240.8 L545.2 1239.3 L543.7 1237.8 L542.1 1236.2 L540.7 1234.7 L539.2 1233.1 L537.9 1231.6 L536.6 1230.1 L535.5 1228.5 L534.5 1227 L533.6 1225.5 L532.9 1223.9 L532.3 1222.4 L531.8 1220.8 L531.4 1219.3 L531.1 1217.8 L530.9 1216.2 L530.7 1214.7 L530.6 1213.1 L530.5 1211.6 L530.4 1210.1 L530.4 1208.5 L530.4 1207 L530.3 1205.4 L530.3 1203.9 L530.3 1202.4 L530.3 1200.8 L530.3 1199.3 L530.3 1197.7 L530.3 1196.2 L530.3 1194.7 L530.3 1193.1 L530.3 1191.6 L530.3 1190.1 L530.3 1188.5 L530.3 1187 L530.3 1185.4 L530.3 1183.9 L530.3 1182.4 L530.3 1180.8 L530.3 1179.3 L530.3 1177.7 L530.3 1176.2 L530.4 1174.7 L530.4 1173.1 L530.4 1171.6 L530.5 1170 L530.6 1168.5 L530.7 1167 L530.9 1165.4 L531.1 1163.9 L531.3 1162.4 L531.6 1160.8 L532 1159.3 L532.4 1157.7 L532.9 1156.2 L533.4 1154.7 L534 1153.1 L534.6 1151.6 L535.2 1150 L535.8 1148.5 L536.4 1147 L536.9 1145.4 L537.3 1143.9 L537.6 1142.3 L537.7 1140.8 L537.8 1139.3 L537.7 1137.7 L537.4 1136.2 L537.1 1134.6 L536.6 1133.1 L536.1 1131.6 L535.5 1130 L534.9 1128.5 L534.3 1127 L533.7 1125.4 L533.1 1123.9 L532.6 1122.3 L532.2 1120.8 L531.8 1119.3 L531.5 1117.7 L531.2 1116.2 L531 1114.6 L530.9 1113.1 L530.8 1111.6 L530.8 1110 L530.8 1108.5 L530.9 1106.9 L531.1 1105.4 L531.3 1103.9 L531.5 1102.3 L531.9 1100.8 L532.2 1099.2 L532.7 1097.7 L533.2 1096.2 L533.8 1094.6 L534.4 1093.1 L535 1091.6 L535.6 1090 L536.2 1088.5 L536.7 1086.9 L537.1 1085.4 L537.5 1083.9 L537.7 1082.3 L537.8 1080.8 L537.7 1079.2 L537.5 1077.7 L537.2 1076.2 L536.8 1074.6 L536.3 1073.1 L535.7 1071.5 L535.1 1070 L534.5 1068.5 L533.9 1066.9 L533.4 1065.4 L532.8 1063.9 L532.4 1062.3 L532 1060.8 L531.7 1059.2 L531.4 1057.7 L531.3 1056.2 L531.2 1054.6 L531.2 1053.1 L531.3 1051.5 L531.4 1050 L531.7 1048.5 L532 1046.9 L532.3 1045.4 L532.8 1043.8 L533.3 1042.3 L533.9 1040.8 L534.5 1039.2 L535.1 1037.7 L535.7 1036.1 L536.2 1034.6 L536.8 1033.1 L537.2 1031.5 L537.5 1030 L537.7 1028.5 L537.8 1026.9 L530.3 1026.9Z" fill="#0000ff"/>
<path d="M530.3 1333.2 L530.3 1331.6 L530.3 1330.1 L530.3 1328.6 L530.3 1327 L530.3 1325.5 L530.4 1324 L530.4 1322.4 L530.5 1320.9 L530.6 1319.3 L530.7 1317.8 L530.9 1316.3 L531.2 1314.7 L531.7 1313.2 L532.2 1311.6 L533 1310.1 L534 1308.6 L535.3 1307 L537 1305.5 L539.1 1303.9 L541.6 1302.4 L544.6 1300.9 L548.1 1299.3 L552.1 1297.8 L556.7 1296.2 L561.6 1294.7 L567 1293.2 L572.6 1291.6 L578.3 1290.1 L584 1288.6 L589.5 1287 L594.8 1285.5 L599.5 1283.9 L603.6 1282.4 L606.9 1280.9 L609.5 1279.3 L611.1 1277.8 L611.7 1276.2 L611.4 1274.7 L610.3 1273.2 L608.3 1271.6 L605.5 1270.1 L602.1 1268.5 L598.3 1267 L594 1265.5 L589.6 1263.9 L585 1262.4 L580.6 1260.9 L576.2 1259.3 L572.2 1257.8 L568.5 1256.2 L565.1 1254.7 L562.1 1253.2 L559.4 1251.6 L557.1 1250.1 L555 1248.5 L553.2 1247 L551.5 1245.5 L549.8 1243.9 L548.3 1242.4 L546.7 1240.8 L545.2 1239.3 L543.7 1237.8 L542.1 1236.2 L540.7 1234.7 L539.2 1233.1 L537.9 1231.6 L536.6 1230.1 L535.5 1228.5 L534.5 1227 L533.6 1225.5 L532.9 1223.9 L532.3 1222.4 L531.8 1220.8 L531.4 1219.3 L531.1 1217.8 L530.9 1216.2 L530.7 1214.7 L530.6 1213.1 L530.5 1211.6 L530.4 1210.1 L530.4 1208.5 L530.4 1207 L530.3 1205.4 L530.3 1203.9 L530.3 1202.4 L530.3 1200.8 L530.3 1199.3 L530.3 1197.7 L530.3 1196.2 L530.3 1194.7 L530.3 1193.1 L530.3 1191.6 L530.3 1190.1 L530.3 1188.5 L530.3 1187 L530.3 1185.4 L530.3 1183.9 L530.3 1182.4 L530.3 1180.8 L530.3 1179.3 L530.3 1177.7 L530.3 1176.2 L530.4 1174.7 L530.4 1173.1 L530.4 1171.6 L530.5 1170 L530.6 1168.5 L530.7 1167 L530.9 1165.4 L531.1 1163.9 L531.3 1162.4 L531.6 1160.8 L532 1159.3 L532.4 1157.7 L532.9 1156.2 L533.4 1154.7 L534 1153.1 L534.6 1151.6 L535.2 1150 L535.8 1148.5 L536.4 1147 L536.9 1145.4 L537.3 1143.9 L537.6 1142.3 L537.7 1140.8 L537.8 1139.3 L537.7 1137.7 L537.4 1136.2 L537.1 1134.6 L536.6 1133.1 L536.1 1131.6 L535.5 1130 L534.9 1128.5 L534.3 1127 L533.7 1125.4 L533.1 1123.9 L532.6 1122.3 L532.2 1120.8 L531.8 1119.3 L531.5 1117.7 L531.2 1116.2 L531 1114.6 L530.9 1113.1 L530.8 1111.6 L530.8 1110 L530.8 1108.5 L530.9 1106.9 L531.1 1105.4 L531.3 1103.9 L531.5 1102.3 L531.9 1100.8 L532.2 1099.2 L532.7 1097.7 L533.2 1096.2 L533.8 1094.6 L534.4 1093.1 L535 1091.6 L535.6 1090 L536.2 1088.5 L536.7 1086.9 L537.1 1085.4 L537.5 1083.9 L537.7 1082.3 L537.8 1080.8 L537.7 1079.2 L537.5 1077.7 L537.2 1076.2 L536.8 1074.6 L536.3 1073.1 L535.7 1071.5 L535.1 1070 L534.5 1068.5 L533.9 1066.9 L533.4 1065.4 L532.8 1063.9 L532.4 1062.3 L532 1060.8 L531.7 1059.2 L531.4 1057.7 L531.3 1056.2 L531.2 1054.6 L531.2 1053.1 L531.3 1051.5 L531.4 1050 L531.7 1048.5 L532 1046.9 L532.3 1045.4 L532.8 1043.8 L533.3 1042.3 L533.9 1040.8 L534.5 1039.2 L535.1 1037.7 L535.7 1036.1 L536.2 1034.6 L536.8 1033.1 L537.2 1031.5 L537.5 1030 L537.7 1028.5 L537.8 1026.9" fill="none" stroke="#000" stroke-width="1.9" stroke-linejoin="round"/>
<text class="pl" transform="translate(4.5 976.1) scale(1 1.045)">G</text>
</g>
<g>
<rect x="705.1" y="1011.6" width="469.1" height="336.9" fill="#fff"/>
<path d="M758.3 1011.6V1348.5" stroke="#efefef" stroke-width="1"/><path d="M933.5 1011.6V1348.5" stroke="#efefef" stroke-width="1"/><path d="M1108.7 1011.6V1348.5" stroke="#efefef" stroke-width="1"/><path d="M705.1 1341.7H1174.2" stroke="#efefef" stroke-width="1"/><path d="M705.1 1256.6H1174.2" stroke="#efefef" stroke-width="1"/><path d="M705.1 1171.5H1174.2" stroke="#efefef" stroke-width="1"/><path d="M705.1 1086.5H1174.2" stroke="#efefef" stroke-width="1"/><path d="M845.9 1011.6V1348.5" stroke="#e6e6e6" stroke-width="1.4"/><path d="M1021.1 1011.6V1348.5" stroke="#e6e6e6" stroke-width="1.4"/><path d="M705.1 1299.2H1174.2" stroke="#e6e6e6" stroke-width="1.4"/><path d="M705.1 1214.1H1174.2" stroke="#e6e6e6" stroke-width="1.4"/><path d="M705.1 1129H1174.2" stroke="#e6e6e6" stroke-width="1.4"/><path d="M705.1 1043.9H1174.2" stroke="#e6e6e6" stroke-width="1.4"/>
<g fill="#000"><ellipse cx="1037.9" cy="1265.1" rx="4.1" ry="3.05"/><ellipse cx="857.8" cy="1248.1" rx="4.1" ry="3.05"/><ellipse cx="958" cy="1129" rx="4.1" ry="3.05"/><ellipse cx="1152.9" cy="1163" rx="4.1" ry="3.05"/><ellipse cx="992.7" cy="1163" rx="4.1" ry="3.05"/><ellipse cx="730.3" cy="1333.2" rx="4.1" ry="3.05"/><ellipse cx="1116.8" cy="1163" rx="4.1" ry="3.05"/><ellipse cx="963.3" cy="1146" rx="4.1" ry="3.05"/><ellipse cx="1007.5" cy="1248.1" rx="4.1" ry="3.05"/><ellipse cx="1000.1" cy="1214.1" rx="4.1" ry="3.05"/><ellipse cx="991" cy="1282.1" rx="4.1" ry="3.05"/><ellipse cx="896" cy="1026.9" rx="4.1" ry="3.05"/><ellipse cx="1024.3" cy="1026.9" rx="4.1" ry="3.05"/><ellipse cx="1123.1" cy="1129" rx="4.1" ry="3.05"/><ellipse cx="888.7" cy="1129" rx="4.1" ry="3.05"/><ellipse cx="726.4" cy="1129" rx="4.1" ry="3.05"/><ellipse cx="931.1" cy="1095" rx="4.1" ry="3.05"/><ellipse cx="1134" cy="1043.9" rx="4.1" ry="3.05"/></g>
<path d="M726.4 1104.2 L731.8 1105.1 L737.2 1105.9 L742.6 1106.8 L748 1107.6 L753.4 1108.4 L758.8 1109.3 L764.2 1110.1 L769.6 1110.9 L775 1111.7 L780.4 1112.4 L785.8 1113.2 L791.2 1113.9 L796.6 1114.7 L802 1115.4 L807.4 1116.1 L812.8 1116.7 L818.2 1117.4 L823.6 1118.1 L829 1118.7 L834.4 1119.3 L839.8 1119.8 L845.2 1120.4 L850.6 1120.9 L856 1121.4 L861.4 1121.8 L866.8 1122.3 L872.2 1122.6 L877.6 1123 L883 1123.3 L888.4 1123.5 L893.8 1123.8 L899.2 1123.9 L904.6 1124 L910 1124.1 L915.4 1124 L920.8 1124 L926.2 1123.8 L931.6 1123.6 L937 1123.3 L942.3 1122.9 L947.7 1122.5 L953.1 1121.9 L958.5 1121.3 L963.9 1120.6 L969.3 1119.8 L974.7 1118.9 L980.1 1118 L985.5 1116.9 L990.9 1115.7 L996.3 1114.5 L1001.7 1113.2 L1007.1 1111.8 L1012.5 1110.3 L1017.9 1108.7 L1023.3 1107.1 L1028.7 1105.4 L1034.1 1103.6 L1039.5 1101.8 L1044.9 1099.9 L1050.3 1097.9 L1055.7 1095.9 L1061.1 1093.9 L1066.5 1091.8 L1071.9 1089.6 L1077.3 1087.4 L1082.7 1085.2 L1088.1 1082.9 L1093.5 1080.7 L1098.9 1078.3 L1104.3 1076 L1109.7 1073.6 L1115.1 1071.2 L1120.5 1068.7 L1125.9 1066.3 L1131.3 1063.8 L1136.7 1061.3 L1142.1 1058.8 L1147.5 1056.2 L1152.9 1053.7 L1152.9 1211.6 L1147.5 1210.9 L1142.1 1210.2 L1136.7 1209.5 L1131.3 1208.8 L1125.9 1208.2 L1120.5 1207.6 L1115.1 1207 L1109.7 1206.4 L1104.3 1205.8 L1098.9 1205.3 L1093.5 1204.8 L1088.1 1204.4 L1082.7 1203.9 L1077.3 1203.5 L1071.9 1203.2 L1066.5 1202.9 L1061.1 1202.6 L1055.7 1202.4 L1050.3 1202.2 L1044.9 1202.1 L1039.5 1202 L1034.1 1202 L1028.7 1202.1 L1023.3 1202.2 L1017.9 1202.4 L1012.5 1202.7 L1007.1 1203 L1001.7 1203.5 L996.3 1204 L990.9 1204.6 L985.5 1205.3 L980.1 1206 L974.7 1206.9 L969.3 1207.8 L963.9 1208.9 L958.5 1210 L953.1 1211.2 L947.7 1212.5 L942.3 1213.9 L937 1215.4 L931.6 1216.9 L926.2 1218.5 L920.8 1220.2 L915.4 1221.9 L910 1223.8 L904.6 1225.6 L899.2 1227.6 L893.8 1229.6 L888.4 1231.6 L883 1233.7 L877.6 1235.8 L872.2 1238 L866.8 1240.2 L861.4 1242.5 L856 1244.8 L850.6 1247.1 L845.2 1249.5 L839.8 1251.8 L834.4 1254.2 L829 1256.7 L823.6 1259.1 L818.2 1261.6 L812.8 1264.1 L807.4 1266.6 L802 1269.1 L796.6 1271.7 L791.2 1274.2 L785.8 1276.8 L780.4 1279.4 L775 1282 L769.6 1284.6 L764.2 1287.3 L758.8 1289.9 L753.4 1292.6 L748 1295.2 L742.6 1297.9 L737.2 1300.6 L731.8 1303.3 L726.4 1306Z" fill="#999" fill-opacity="0.4"/>
<path d="M726.4 1205.1L1152.9 1132.6" stroke="#3063ff" stroke-width="2.9" fill="none"/>
<rect x="705.1" y="1011.6" width="469.1" height="336.9" fill="none" stroke="#404040" stroke-width="1.3"/>
<path d="M845.9 1348.5v3.6" stroke="#333" stroke-width="1.5"/><text transform="translate(845.9 1363.1) scale(1.36 1)" font-size="11.0" text-anchor="middle" fill="#4d4d4d" stroke="#4d4d4d">4.0</text><path d="M1021.1 1348.5v3.6" stroke="#333" stroke-width="1.5"/><text transform="translate(1021.1 1363.1) scale(1.36 1)" font-size="11.0" text-anchor="middle" fill="#4d4d4d" stroke="#4d4d4d">4.5</text><path d="M705.1 1299.2h-5" stroke="#333" stroke-width="1.5"/><text transform="translate(695.5 1303.1) scale(1.36 1)" font-size="11.0" text-anchor="end" fill="#4d4d4d" stroke="#4d4d4d">50</text><path d="M705.1 1214.1h-5" stroke="#333" stroke-width="1.5"/><text transform="translate(695.5 1218) scale(1.36 1)" font-size="11.0" text-anchor="end" fill="#4d4d4d" stroke="#4d4d4d">55</text><path d="M705.1 1129h-5" stroke="#333" stroke-width="1.5"/><text transform="translate(695.5 1132.9) scale(1.36 1)" font-size="11.0" text-anchor="end" fill="#4d4d4d" stroke="#4d4d4d">60</text><path d="M705.1 1043.9h-5" stroke="#333" stroke-width="1.5"/><text transform="translate(695.5 1047.8) scale(1.36 1)" font-size="11.0" text-anchor="end" fill="#4d4d4d" stroke="#4d4d4d">65</text>
<text transform="translate(939.7 1378.1) scale(1.36 1)" font-size="13.8" text-anchor="middle" fill="#000" stroke="#000">FOS</text>
<text transform="translate(670 1180) rotate(-90) scale(1 1.36)" font-size="13.8" text-anchor="middle" fill="#000" stroke="#000">LVEDD</text>
<text xml:space="preserve" transform="translate(726.4 1024.7) scale(1.36 1)" font-size="13.8" fill="#000" stroke="#000"><tspan font-style="italic">R</tspan> = 0.046, <tspan font-style="italic">p</tspan> = 0.86</text>
<path d="M726.4 1008.3 L726.4 992.4 L728.6 992.3 L730.7 992.3 L732.9 992.3 L735 992.3 L737.1 992.4 L739.3 992.5 L741.4 992.6 L743.6 992.7 L745.7 992.8 L747.9 993 L750 993.2 L752.1 993.3 L754.3 993.5 L756.4 993.7 L758.6 993.9 L760.7 994.2 L762.9 994.4 L765 994.6 L767.1 994.8 L769.3 995 L771.4 995.2 L773.6 995.4 L775.7 995.6 L777.9 995.7 L780 995.9 L782.1 996 L784.3 996.1 L786.4 996.2 L788.6 996.3 L790.7 996.3 L792.9 996.3 L795 996.3 L797.1 996.2 L799.3 996.1 L801.4 996 L803.6 995.9 L805.7 995.7 L807.9 995.5 L810 995.2 L812.1 994.9 L814.3 994.6 L816.4 994.3 L818.6 993.9 L820.7 993.5 L822.9 993 L825 992.6 L827.1 992.1 L829.3 991.6 L831.4 991 L833.6 990.4 L835.7 989.9 L837.9 989.2 L840 988.6 L842.1 988 L844.3 987.3 L846.4 986.6 L848.6 986 L850.7 985.3 L852.9 984.6 L855 983.9 L857.1 983.1 L859.3 982.4 L861.4 981.7 L863.6 981 L865.7 980.2 L867.9 979.5 L870 978.8 L872.1 978.1 L874.3 977.3 L876.4 976.6 L878.6 975.9 L880.7 975.2 L882.9 974.5 L885 973.8 L887.1 973.1 L889.3 972.4 L891.4 971.7 L893.6 971 L895.7 970.3 L897.9 969.6 L900 968.9 L902.1 968.2 L904.3 967.5 L906.4 966.9 L908.6 966.2 L910.7 965.5 L912.9 964.8 L915 964.1 L917.1 963.4 L919.3 962.7 L921.4 962 L923.6 961.4 L925.7 960.7 L927.9 960 L930 959.3 L932.1 958.6 L934.3 957.9 L936.4 957.2 L938.6 956.5 L940.7 955.9 L942.9 955.2 L945 954.5 L947.2 953.9 L949.3 953.2 L951.4 952.6 L953.6 952 L955.7 951.4 L957.9 950.9 L960 950.3 L962.2 949.8 L964.3 949.3 L966.4 948.9 L968.6 948.5 L970.7 948.1 L972.9 947.8 L975 947.5 L977.2 947.2 L979.3 947 L981.4 946.9 L983.6 946.8 L985.7 946.7 L987.9 946.7 L990 946.7 L992.2 946.9 L994.3 947 L996.4 947.2 L998.6 947.5 L1000.7 947.8 L1002.9 948.2 L1005 948.6 L1007.2 949.1 L1009.3 949.6 L1011.4 950.1 L1013.6 950.7 L1015.7 951.4 L1017.9 952.1 L1020 952.8 L1022.2 953.5 L1024.3 954.3 L1026.4 955.1 L1028.6 955.9 L1030.7 956.8 L1032.9 957.6 L1035 958.5 L1037.2 959.3 L1039.3 960.2 L1041.4 961 L1043.6 961.9 L1045.7 962.7 L1047.9 963.5 L1050 964.3 L1052.2 965.1 L1054.3 965.8 L1056.4 966.6 L1058.6 967.2 L1060.7 967.9 L1062.9 968.5 L1065 969.1 L1067.2 969.6 L1069.3 970.1 L1071.4 970.6 L1073.6 971 L1075.7 971.4 L1077.9 971.7 L1080 972.1 L1082.2 972.3 L1084.3 972.6 L1086.4 972.8 L1088.6 973 L1090.7 973.1 L1092.9 973.2 L1095 973.4 L1097.2 973.4 L1099.3 973.5 L1101.4 973.6 L1103.6 973.7 L1105.7 973.7 L1107.9 973.8 L1110 973.8 L1112.2 973.9 L1114.3 974 L1116.4 974.1 L1118.6 974.2 L1120.7 974.3 L1122.9 974.4 L1125 974.6 L1127.2 974.8 L1129.3 975 L1131.4 975.3 L1133.6 975.6 L1135.7 975.9 L1137.9 976.3 L1140 976.7 L1142.2 977.1 L1144.3 977.5 L1146.4 978 L1148.6 978.6 L1150.7 979.1 L1152.9 979.7 L1152.9 1008.3Z" fill="#ffa500"/>
<path d="M726.4 992.4 L728.6 992.3 L730.7 992.3 L732.9 992.3 L735 992.3 L737.1 992.4 L739.3 992.5 L741.4 992.6 L743.6 992.7 L745.7 992.8 L747.9 993 L750 993.2 L752.1 993.3 L754.3 993.5 L756.4 993.7 L758.6 993.9 L760.7 994.2 L762.9 994.4 L765 994.6 L767.1 994.8 L769.3 995 L771.4 995.2 L773.6 995.4 L775.7 995.6 L777.9 995.7 L780 995.9 L782.1 996 L784.3 996.1 L786.4 996.2 L788.6 996.3 L790.7 996.3 L792.9 996.3 L795 996.3 L797.1 996.2 L799.3 996.1 L801.4 996 L803.6 995.9 L805.7 995.7 L807.9 995.5 L810 995.2 L812.1 994.9 L814.3 994.6 L816.4 994.3 L818.6 993.9 L820.7 993.5 L822.9 993 L825 992.6 L827.1 992.1 L829.3 991.6 L831.4 991 L833.6 990.4 L835.7 989.9 L837.9 989.2 L840 988.6 L842.1 988 L844.3 987.3 L846.4 986.6 L848.6 986 L850.7 985.3 L852.9 984.6 L855 983.9 L857.1 983.1 L859.3 982.4 L861.4 981.7 L863.6 981 L865.7 980.2 L867.9 979.5 L870 978.8 L872.1 978.1 L874.3 977.3 L876.4 976.6 L878.6 975.9 L880.7 975.2 L882.9 974.5 L885 973.8 L887.1 973.1 L889.3 972.4 L891.4 971.7 L893.6 971 L895.7 970.3 L897.9 969.6 L900 968.9 L902.1 968.2 L904.3 967.5 L906.4 966.9 L908.6 966.2 L910.7 965.5 L912.9 964.8 L915 964.1 L917.1 963.4 L919.3 962.7 L921.4 962 L923.6 961.4 L925.7 960.7 L927.9 960 L930 959.3 L932.1 958.6 L934.3 957.9 L936.4 957.2 L938.6 956.5 L940.7 955.9 L942.9 955.2 L945 954.5 L947.2 953.9 L949.3 953.2 L951.4 952.6 L953.6 952 L955.7 951.4 L957.9 950.9 L960 950.3 L962.2 949.8 L964.3 949.3 L966.4 948.9 L968.6 948.5 L970.7 948.1 L972.9 947.8 L975 947.5 L977.2 947.2 L979.3 947 L981.4 946.9 L983.6 946.8 L985.7 946.7 L987.9 946.7 L990 946.7 L992.2 946.9 L994.3 947 L996.4 947.2 L998.6 947.5 L1000.7 947.8 L1002.9 948.2 L1005 948.6 L1007.2 949.1 L1009.3 949.6 L1011.4 950.1 L1013.6 950.7 L1015.7 951.4 L1017.9 952.1 L1020 952.8 L1022.2 953.5 L1024.3 954.3 L1026.4 955.1 L1028.6 955.9 L1030.7 956.8 L1032.9 957.6 L1035 958.5 L1037.2 959.3 L1039.3 960.2 L1041.4 961 L1043.6 961.9 L1045.7 962.7 L1047.9 963.5 L1050 964.3 L1052.2 965.1 L1054.3 965.8 L1056.4 966.6 L1058.6 967.2 L1060.7 967.9 L1062.9 968.5 L1065 969.1 L1067.2 969.6 L1069.3 970.1 L1071.4 970.6 L1073.6 971 L1075.7 971.4 L1077.9 971.7 L1080 972.1 L1082.2 972.3 L1084.3 972.6 L1086.4 972.8 L1088.6 973 L1090.7 973.1 L1092.9 973.2 L1095 973.4 L1097.2 973.4 L1099.3 973.5 L1101.4 973.6 L1103.6 973.7 L1105.7 973.7 L1107.9 973.8 L1110 973.8 L1112.2 973.9 L1114.3 974 L1116.4 974.1 L1118.6 974.2 L1120.7 974.3 L1122.9 974.4 L1125 974.6 L1127.2 974.8 L1129.3 975 L1131.4 975.3 L1133.6 975.6 L1135.7 975.9 L1137.9 976.3 L1140 976.7 L1142.2 977.1 L1144.3 977.5 L1146.4 978 L1148.6 978.6 L1150.7 979.1 L1152.9 979.7" fill="none" stroke="#0a0a14" stroke-width="1.7" stroke-linejoin="round"/>
<path d="M1179 1333.2 L1199.3 1333.2 L1199.9 1331.6 L1200.5 1330.1 L1201.1 1328.6 L1201.7 1327 L1202.4 1325.5 L1203 1324 L1203.6 1322.4 L1204.3 1320.9 L1204.9 1319.3 L1205.6 1317.8 L1206.3 1316.3 L1206.9 1314.7 L1207.6 1313.2 L1208.3 1311.6 L1209 1310.1 L1209.7 1308.6 L1210.4 1307 L1211.1 1305.5 L1211.8 1303.9 L1212.4 1302.4 L1213.1 1300.9 L1213.8 1299.3 L1214.5 1297.8 L1215.2 1296.2 L1215.9 1294.7 L1216.6 1293.2 L1217.2 1291.6 L1217.9 1290.1 L1218.5 1288.6 L1219.2 1287 L1219.8 1285.5 L1220.4 1283.9 L1221 1282.4 L1221.6 1280.9 L1222.2 1279.3 L1222.7 1277.8 L1223.3 1276.2 L1223.8 1274.7 L1224.3 1273.2 L1224.8 1271.6 L1225.2 1270.1 L1225.6 1268.5 L1226.1 1267 L1226.4 1265.5 L1226.8 1263.9 L1227.2 1262.4 L1227.5 1260.9 L1227.8 1259.3 L1228.1 1257.8 L1228.3 1256.2 L1228.6 1254.7 L1228.8 1253.2 L1229 1251.6 L1229.2 1250.1 L1229.4 1248.5 L1229.6 1247 L1229.7 1245.5 L1229.9 1243.9 L1230 1242.4 L1230.1 1240.8 L1230.3 1239.3 L1230.4 1237.8 L1230.5 1236.2 L1230.6 1234.7 L1230.8 1233.1 L1230.9 1231.6 L1231.1 1230.1 L1231.2 1228.5 L1231.4 1227 L1231.6 1225.5 L1231.8 1223.9 L1232 1222.4 L1232.2 1220.8 L1232.5 1219.3 L1232.8 1217.8 L1233.1 1216.2 L1233.5 1214.7 L1233.9 1213.1 L1234.3 1211.6 L1234.7 1210.1 L1235.2 1208.5 L1235.7 1207 L1236.2 1205.4 L1236.8 1203.9 L1237.4 1202.4 L1238.1 1200.8 L1238.7 1199.3 L1239.4 1197.7 L1240.2 1196.2 L1240.9 1194.7 L1241.7 1193.1 L1242.5 1191.6 L1243.4 1190.1 L1244.2 1188.5 L1245.1 1187 L1246 1185.4 L1246.9 1183.9 L1247.8 1182.4 L1248.7 1180.8 L1249.7 1179.3 L1250.6 1177.7 L1251.5 1176.2 L1252.5 1174.7 L1253.4 1173.1 L1254.3 1171.6 L1255.1 1170 L1256 1168.5 L1256.8 1167 L1257.6 1165.4 L1258.4 1163.9 L1259.2 1162.4 L1259.9 1160.8 L1260.5 1159.3 L1261.1 1157.7 L1261.7 1156.2 L1262.2 1154.7 L1262.7 1153.1 L1263.1 1151.6 L1263.4 1150 L1263.7 1148.5 L1264 1147 L1264.1 1145.4 L1264.2 1143.9 L1264.3 1142.3 L1264.3 1140.8 L1264.2 1139.3 L1264 1137.7 L1263.8 1136.2 L1263.5 1134.6 L1263.2 1133.1 L1262.8 1131.6 L1262.3 1130 L1261.8 1128.5 L1261.2 1127 L1260.6 1125.4 L1259.9 1123.9 L1259.2 1122.3 L1258.4 1120.8 L1257.6 1119.3 L1256.7 1117.7 L1255.8 1116.2 L1254.9 1114.6 L1253.9 1113.1 L1252.9 1111.6 L1251.9 1110 L1250.8 1108.5 L1249.8 1106.9 L1248.7 1105.4 L1247.6 1103.9 L1246.6 1102.3 L1245.5 1100.8 L1244.4 1099.2 L1243.3 1097.7 L1242.2 1096.2 L1241.2 1094.6 L1240.1 1093.1 L1239.1 1091.6 L1238.1 1090 L1237.1 1088.5 L1236.1 1086.9 L1235.1 1085.4 L1234.2 1083.9 L1233.3 1082.3 L1232.4 1080.8 L1231.6 1079.2 L1230.8 1077.7 L1230 1076.2 L1229.2 1074.6 L1228.5 1073.1 L1227.8 1071.5 L1227.1 1070 L1226.5 1068.5 L1225.8 1066.9 L1225.2 1065.4 L1224.7 1063.9 L1224.1 1062.3 L1223.6 1060.8 L1223.1 1059.2 L1222.6 1057.7 L1222.1 1056.2 L1221.7 1054.6 L1221.2 1053.1 L1220.8 1051.5 L1220.4 1050 L1219.9 1048.5 L1219.5 1046.9 L1219.1 1045.4 L1218.7 1043.8 L1218.3 1042.3 L1217.8 1040.8 L1217.4 1039.2 L1217 1037.7 L1216.5 1036.1 L1216.1 1034.6 L1215.6 1033.1 L1215.2 1031.5 L1214.7 1030 L1214.2 1028.5 L1213.7 1026.9 L1179 1026.9Z" fill="#0000ff"/>
<path d="M1199.3 1333.2 L1199.9 1331.6 L1200.5 1330.1 L1201.1 1328.6 L1201.7 1327 L1202.4 1325.5 L1203 1324 L1203.6 1322.4 L1204.3 1320.9 L1204.9 1319.3 L1205.6 1317.8 L1206.3 1316.3 L1206.9 1314.7 L1207.6 1313.2 L1208.3 1311.6 L1209 1310.1 L1209.7 1308.6 L1210.4 1307 L1211.1 1305.5 L1211.8 1303.9 L1212.4 1302.4 L1213.1 1300.9 L1213.8 1299.3 L1214.5 1297.8 L1215.2 1296.2 L1215.9 1294.7 L1216.6 1293.2 L1217.2 1291.6 L1217.9 1290.1 L1218.5 1288.6 L1219.2 1287 L1219.8 1285.5 L1220.4 1283.9 L1221 1282.4 L1221.6 1280.9 L1222.2 1279.3 L1222.7 1277.8 L1223.3 1276.2 L1223.8 1274.7 L1224.3 1273.2 L1224.8 1271.6 L1225.2 1270.1 L1225.6 1268.5 L1226.1 1267 L1226.4 1265.5 L1226.8 1263.9 L1227.2 1262.4 L1227.5 1260.9 L1227.8 1259.3 L1228.1 1257.8 L1228.3 1256.2 L1228.6 1254.7 L1228.8 1253.2 L1229 1251.6 L1229.2 1250.1 L1229.4 1248.5 L1229.6 1247 L1229.7 1245.5 L1229.9 1243.9 L1230 1242.4 L1230.1 1240.8 L1230.3 1239.3 L1230.4 1237.8 L1230.5 1236.2 L1230.6 1234.7 L1230.8 1233.1 L1230.9 1231.6 L1231.1 1230.1 L1231.2 1228.5 L1231.4 1227 L1231.6 1225.5 L1231.8 1223.9 L1232 1222.4 L1232.2 1220.8 L1232.5 1219.3 L1232.8 1217.8 L1233.1 1216.2 L1233.5 1214.7 L1233.9 1213.1 L1234.3 1211.6 L1234.7 1210.1 L1235.2 1208.5 L1235.7 1207 L1236.2 1205.4 L1236.8 1203.9 L1237.4 1202.4 L1238.1 1200.8 L1238.7 1199.3 L1239.4 1197.7 L1240.2 1196.2 L1240.9 1194.7 L1241.7 1193.1 L1242.5 1191.6 L1243.4 1190.1 L1244.2 1188.5 L1245.1 1187 L1246 1185.4 L1246.9 1183.9 L1247.8 1182.4 L1248.7 1180.8 L1249.7 1179.3 L1250.6 1177.7 L1251.5 1176.2 L1252.5 1174.7 L1253.4 1173.1 L1254.3 1171.6 L1255.1 1170 L1256 1168.5 L1256.8 1167 L1257.6 1165.4 L1258.4 1163.9 L1259.2 1162.4 L1259.9 1160.8 L1260.5 1159.3 L1261.1 1157.7 L1261.7 1156.2 L1262.2 1154.7 L1262.7 1153.1 L1263.1 1151.6 L1263.4 1150 L1263.7 1148.5 L1264 1147 L1264.1 1145.4 L1264.2 1143.9 L1264.3 1142.3 L1264.3 1140.8 L1264.2 1139.3 L1264 1137.7 L1263.8 1136.2 L1263.5 1134.6 L1263.2 1133.1 L1262.8 1131.6 L1262.3 1130 L1261.8 1128.5 L1261.2 1127 L1260.6 1125.4 L1259.9 1123.9 L1259.2 1122.3 L1258.4 1120.8 L1257.6 1119.3 L1256.7 1117.7 L1255.8 1116.2 L1254.9 1114.6 L1253.9 1113.1 L1252.9 1111.6 L1251.9 1110 L1250.8 1108.5 L1249.8 1106.9 L1248.7 1105.4 L1247.6 1103.9 L1246.6 1102.3 L1245.5 1100.8 L1244.4 1099.2 L1243.3 1097.7 L1242.2 1096.2 L1241.2 1094.6 L1240.1 1093.1 L1239.1 1091.6 L1238.1 1090 L1237.1 1088.5 L1236.1 1086.9 L1235.1 1085.4 L1234.2 1083.9 L1233.3 1082.3 L1232.4 1080.8 L1231.6 1079.2 L1230.8 1077.7 L1230 1076.2 L1229.2 1074.6 L1228.5 1073.1 L1227.8 1071.5 L1227.1 1070 L1226.5 1068.5 L1225.8 1066.9 L1225.2 1065.4 L1224.7 1063.9 L1224.1 1062.3 L1223.6 1060.8 L1223.1 1059.2 L1222.6 1057.7 L1222.1 1056.2 L1221.7 1054.6 L1221.2 1053.1 L1220.8 1051.5 L1220.4 1050 L1219.9 1048.5 L1219.5 1046.9 L1219.1 1045.4 L1218.7 1043.8 L1218.3 1042.3 L1217.8 1040.8 L1217.4 1039.2 L1217 1037.7 L1216.5 1036.1 L1216.1 1034.6 L1215.6 1033.1 L1215.2 1031.5 L1214.7 1030 L1214.2 1028.5 L1213.7 1026.9" fill="none" stroke="#000" stroke-width="1.9" stroke-linejoin="round"/>
<text class="pl" transform="translate(654.9 975.8) scale(1 1.045)">H</text>
</g>
<g>
<rect x="1384.9" y="1011.6" width="468.7" height="336.9" fill="#fff"/>
<path d="M1438.1 1011.6V1348.5" stroke="#efefef" stroke-width="1"/><path d="M1613.1 1011.6V1348.5" stroke="#efefef" stroke-width="1"/><path d="M1788.2 1011.6V1348.5" stroke="#efefef" stroke-width="1"/><path d="M1384.9 1302.4H1853.6" stroke="#efefef" stroke-width="1"/><path d="M1384.9 1240.8H1853.6" stroke="#efefef" stroke-width="1"/><path d="M1384.9 1179.2H1853.6" stroke="#efefef" stroke-width="1"/><path d="M1384.9 1117.6H1853.6" stroke="#efefef" stroke-width="1"/><path d="M1384.9 1056H1853.6" stroke="#efefef" stroke-width="1"/><path d="M1525.6 1011.6V1348.5" stroke="#e6e6e6" stroke-width="1.4"/><path d="M1700.7 1011.6V1348.5" stroke="#e6e6e6" stroke-width="1.4"/><path d="M1384.9 1333.2H1853.6" stroke="#e6e6e6" stroke-width="1.4"/><path d="M1384.9 1271.6H1853.6" stroke="#e6e6e6" stroke-width="1.4"/><path d="M1384.9 1210H1853.6" stroke="#e6e6e6" stroke-width="1.4"/><path d="M1384.9 1148.4H1853.6" stroke="#e6e6e6" stroke-width="1.4"/><path d="M1384.9 1086.8H1853.6" stroke="#e6e6e6" stroke-width="1.4"/><path d="M1384.9 1025.2H1853.6" stroke="#e6e6e6" stroke-width="1.4"/>
<g fill="#000"><ellipse cx="1717.5" cy="1086.8" rx="4.1" ry="3.05"/><ellipse cx="1537.5" cy="1037.5" rx="4.1" ry="3.05"/><ellipse cx="1637.6" cy="1333.2" rx="4.1" ry="3.05"/><ellipse cx="1832.3" cy="1123.8" rx="4.1" ry="3.05"/><ellipse cx="1672.3" cy="1148.4" rx="4.1" ry="3.05"/><ellipse cx="1410.1" cy="1049.8" rx="4.1" ry="3.05"/><ellipse cx="1796.2" cy="1160.7" rx="4.1" ry="3.05"/><ellipse cx="1642.9" cy="1123.8" rx="4.1" ry="3.05"/><ellipse cx="1687" cy="1111.4" rx="4.1" ry="3.05"/><ellipse cx="1679.6" cy="1173" rx="4.1" ry="3.05"/><ellipse cx="1670.5" cy="1111.4" rx="4.1" ry="3.05"/><ellipse cx="1575.7" cy="1037.5" rx="4.1" ry="3.05"/><ellipse cx="1703.8" cy="1247" rx="4.1" ry="3.05"/><ellipse cx="1802.5" cy="1210" rx="4.1" ry="3.05"/><ellipse cx="1568.3" cy="1234.6" rx="4.1" ry="3.05"/><ellipse cx="1406.2" cy="1210" rx="4.1" ry="3.05"/><ellipse cx="1610.7" cy="1210" rx="4.1" ry="3.05"/><ellipse cx="1813.4" cy="1247" rx="4.1" ry="3.05"/></g>
<path d="M1406.2 1026.9 L1411.6 1029.4 L1417 1031.9 L1422.4 1034.3 L1427.8 1036.8 L1433.2 1039.2 L1438.6 1041.7 L1444 1044.1 L1449.4 1046.5 L1454.7 1048.9 L1460.1 1051.3 L1465.5 1053.7 L1470.9 1056.1 L1476.3 1058.5 L1481.7 1060.8 L1487.1 1063.1 L1492.5 1065.4 L1497.9 1067.7 L1503.3 1070 L1508.7 1072.3 L1514.1 1074.5 L1519.5 1076.7 L1524.9 1078.9 L1530.3 1081.1 L1535.6 1083.2 L1541 1085.3 L1546.4 1087.4 L1551.8 1089.4 L1557.2 1091.4 L1562.6 1093.4 L1568 1095.3 L1573.4 1097.2 L1578.8 1099 L1584.2 1100.8 L1589.6 1102.5 L1595 1104.1 L1600.4 1105.8 L1605.8 1107.3 L1611.2 1108.8 L1616.6 1110.2 L1621.9 1111.5 L1627.3 1112.8 L1632.7 1114 L1638.1 1115.1 L1643.5 1116.1 L1648.9 1117 L1654.3 1117.9 L1659.7 1118.6 L1665.1 1119.3 L1670.5 1120 L1675.9 1120.5 L1681.3 1120.9 L1686.7 1121.3 L1692.1 1121.6 L1697.5 1121.8 L1702.9 1122 L1708.2 1122.1 L1713.6 1122.1 L1719 1122.1 L1724.4 1122 L1729.8 1121.9 L1735.2 1121.7 L1740.6 1121.5 L1746 1121.2 L1751.4 1120.9 L1756.8 1120.5 L1762.2 1120.1 L1767.6 1119.7 L1773 1119.2 L1778.4 1118.8 L1783.8 1118.2 L1789.1 1117.7 L1794.5 1117.1 L1799.9 1116.6 L1805.3 1116 L1810.7 1115.3 L1816.1 1114.7 L1821.5 1114 L1826.9 1113.3 L1832.3 1112.6 L1832.3 1259.5 L1826.9 1257.2 L1821.5 1254.8 L1816.1 1252.5 L1810.7 1250.2 L1805.3 1247.9 L1799.9 1245.7 L1794.5 1243.4 L1789.1 1241.2 L1783.8 1239 L1778.4 1236.9 L1773 1234.7 L1767.6 1232.6 L1762.2 1230.5 L1756.8 1228.5 L1751.4 1226.5 L1746 1224.5 L1740.6 1222.6 L1735.2 1220.7 L1729.8 1218.8 L1724.4 1217 L1719 1215.3 L1713.6 1213.6 L1708.2 1212 L1702.9 1210.4 L1697.5 1209 L1692.1 1207.5 L1686.7 1206.2 L1681.3 1204.9 L1675.9 1203.7 L1670.5 1202.6 L1665.1 1201.5 L1659.7 1200.6 L1654.3 1199.7 L1648.9 1198.9 L1643.5 1198.2 L1638.1 1197.5 L1632.7 1197 L1627.3 1196.5 L1621.9 1196.1 L1616.6 1195.8 L1611.2 1195.5 L1605.8 1195.4 L1600.4 1195.2 L1595 1195.2 L1589.6 1195.2 L1584.2 1195.3 L1578.8 1195.4 L1573.4 1195.6 L1568 1195.8 L1562.6 1196.1 L1557.2 1196.4 L1551.8 1196.7 L1546.4 1197.1 L1541 1197.5 L1535.6 1197.9 L1530.3 1198.4 L1524.9 1198.9 L1519.5 1199.5 L1514.1 1200 L1508.7 1200.6 L1503.3 1201.2 L1497.9 1201.8 L1492.5 1202.5 L1487.1 1203.1 L1481.7 1203.8 L1476.3 1204.5 L1470.9 1205.2 L1465.5 1205.9 L1460.1 1206.6 L1454.7 1207.4 L1449.4 1208.1 L1444 1208.9 L1438.6 1209.7 L1433.2 1210.5 L1427.8 1211.3 L1422.4 1212.1 L1417 1212.9 L1411.6 1213.7 L1406.2 1214.5Z" fill="#999" fill-opacity="0.4"/>
<path d="M1406.2 1120.7L1832.3 1186.1" stroke="#3063ff" stroke-width="2.9" fill="none"/>
<rect x="1384.9" y="1011.6" width="468.7" height="336.9" fill="none" stroke="#404040" stroke-width="1.3"/>
<path d="M1525.6 1348.5v3.6" stroke="#333" stroke-width="1.5"/><text transform="translate(1525.6 1363.1) scale(1.36 1)" font-size="11.0" text-anchor="middle" fill="#4d4d4d" stroke="#4d4d4d">4.0</text><path d="M1700.7 1348.5v3.6" stroke="#333" stroke-width="1.5"/><text transform="translate(1700.7 1363.1) scale(1.36 1)" font-size="11.0" text-anchor="middle" fill="#4d4d4d" stroke="#4d4d4d">4.5</text><path d="M1384.9 1333.2h-5" stroke="#333" stroke-width="1.5"/><text transform="translate(1375.3 1337.1) scale(1.36 1)" font-size="11.0" text-anchor="end" fill="#4d4d4d" stroke="#4d4d4d">25</text><path d="M1384.9 1271.6h-5" stroke="#333" stroke-width="1.5"/><text transform="translate(1375.3 1275.5) scale(1.36 1)" font-size="11.0" text-anchor="end" fill="#4d4d4d" stroke="#4d4d4d">30</text><path d="M1384.9 1210h-5" stroke="#333" stroke-width="1.5"/><text transform="translate(1375.3 1213.9) scale(1.36 1)" font-size="11.0" text-anchor="end" fill="#4d4d4d" stroke="#4d4d4d">35</text><path d="M1384.9 1148.4h-5" stroke="#333" stroke-width="1.5"/><text transform="translate(1375.3 1152.3) scale(1.36 1)" font-size="11.0" text-anchor="end" fill="#4d4d4d" stroke="#4d4d4d">40</text><path d="M1384.9 1086.8h-5" stroke="#333" stroke-width="1.5"/><text transform="translate(1375.3 1090.7) scale(1.36 1)" font-size="11.0" text-anchor="end" fill="#4d4d4d" stroke="#4d4d4d">45</text><path d="M1384.9 1025.2h-5" stroke="#333" stroke-width="1.5"/><text transform="translate(1375.3 1029.1) scale(1.36 1)" font-size="11.0" text-anchor="end" fill="#4d4d4d" stroke="#4d4d4d">50</text>
<text transform="translate(1619.2 1378.1) scale(1.36 1)" font-size="13.8" text-anchor="middle" fill="#000" stroke="#000">FOS</text>
<text transform="translate(1349 1180) rotate(-90) scale(1 1.36)" font-size="13.8" text-anchor="middle" fill="#000" stroke="#000">LVEF (%)</text>
<text xml:space="preserve" transform="translate(1406.2 1027) scale(1.36 1)" font-size="13.8" fill="#000" stroke="#000"><tspan font-style="italic">R</tspan> =<tspan dx="3.2">−</tspan><tspan dx="2">0.21, </tspan><tspan font-style="italic">p</tspan> = 0.4</text>
<path d="M1406.2 1008.3 L1406.2 992.4 L1408.3 992.3 L1410.5 992.3 L1412.6 992.3 L1414.8 992.3 L1416.9 992.4 L1419.1 992.5 L1421.2 992.6 L1423.3 992.7 L1425.5 992.8 L1427.6 993 L1429.8 993.2 L1431.9 993.3 L1434 993.5 L1436.2 993.7 L1438.3 993.9 L1440.5 994.2 L1442.6 994.4 L1444.7 994.6 L1446.9 994.8 L1449 995 L1451.2 995.2 L1453.3 995.4 L1455.5 995.6 L1457.6 995.7 L1459.7 995.9 L1461.9 996 L1464 996.1 L1466.2 996.2 L1468.3 996.3 L1470.4 996.3 L1472.6 996.3 L1474.7 996.3 L1476.9 996.2 L1479 996.1 L1481.1 996 L1483.3 995.9 L1485.4 995.7 L1487.6 995.5 L1489.7 995.2 L1491.9 994.9 L1494 994.6 L1496.1 994.3 L1498.3 993.9 L1500.4 993.5 L1502.6 993 L1504.7 992.6 L1506.8 992.1 L1509 991.6 L1511.1 991 L1513.3 990.4 L1515.4 989.9 L1517.5 989.2 L1519.7 988.6 L1521.8 988 L1524 987.3 L1526.1 986.6 L1528.3 986 L1530.4 985.3 L1532.5 984.6 L1534.7 983.9 L1536.8 983.1 L1539 982.4 L1541.1 981.7 L1543.2 981 L1545.4 980.2 L1547.5 979.5 L1549.7 978.8 L1551.8 978.1 L1553.9 977.3 L1556.1 976.6 L1558.2 975.9 L1560.4 975.2 L1562.5 974.5 L1564.7 973.8 L1566.8 973.1 L1568.9 972.4 L1571.1 971.7 L1573.2 971 L1575.4 970.3 L1577.5 969.6 L1579.6 968.9 L1581.8 968.2 L1583.9 967.5 L1586.1 966.9 L1588.2 966.2 L1590.3 965.5 L1592.5 964.8 L1594.6 964.1 L1596.8 963.4 L1598.9 962.7 L1601.1 962 L1603.2 961.4 L1605.3 960.7 L1607.5 960 L1609.6 959.3 L1611.8 958.6 L1613.9 957.9 L1616 957.2 L1618.2 956.5 L1620.3 955.9 L1622.5 955.2 L1624.6 954.5 L1626.7 953.9 L1628.9 953.2 L1631 952.6 L1633.2 952 L1635.3 951.4 L1637.4 950.9 L1639.6 950.3 L1641.7 949.8 L1643.9 949.3 L1646 948.9 L1648.2 948.5 L1650.3 948.1 L1652.4 947.8 L1654.6 947.5 L1656.7 947.2 L1658.9 947 L1661 946.9 L1663.1 946.8 L1665.3 946.7 L1667.4 946.7 L1669.6 946.7 L1671.7 946.9 L1673.8 947 L1676 947.2 L1678.1 947.5 L1680.3 947.8 L1682.4 948.2 L1684.6 948.6 L1686.7 949.1 L1688.8 949.6 L1691 950.1 L1693.1 950.7 L1695.3 951.4 L1697.4 952.1 L1699.5 952.8 L1701.7 953.5 L1703.8 954.3 L1706 955.1 L1708.1 955.9 L1710.2 956.8 L1712.4 957.6 L1714.5 958.5 L1716.7 959.3 L1718.8 960.2 L1721 961 L1723.1 961.9 L1725.2 962.7 L1727.4 963.5 L1729.5 964.3 L1731.7 965.1 L1733.8 965.8 L1735.9 966.6 L1738.1 967.2 L1740.2 967.9 L1742.4 968.5 L1744.5 969.1 L1746.6 969.6 L1748.8 970.1 L1750.9 970.6 L1753.1 971 L1755.2 971.4 L1757.4 971.7 L1759.5 972.1 L1761.6 972.3 L1763.8 972.6 L1765.9 972.8 L1768.1 973 L1770.2 973.1 L1772.3 973.2 L1774.5 973.4 L1776.6 973.4 L1778.8 973.5 L1780.9 973.6 L1783 973.7 L1785.2 973.7 L1787.3 973.8 L1789.5 973.8 L1791.6 973.9 L1793.8 974 L1795.9 974.1 L1798 974.2 L1800.2 974.3 L1802.3 974.4 L1804.5 974.6 L1806.6 974.8 L1808.7 975 L1810.9 975.3 L1813 975.6 L1815.2 975.9 L1817.3 976.3 L1819.4 976.7 L1821.6 977.1 L1823.7 977.5 L1825.9 978 L1828 978.6 L1830.2 979.1 L1832.3 979.7 L1832.3 1008.3Z" fill="#ffa500"/>
<path d="M1406.2 992.4 L1408.3 992.3 L1410.5 992.3 L1412.6 992.3 L1414.8 992.3 L1416.9 992.4 L1419.1 992.5 L1421.2 992.6 L1423.3 992.7 L1425.5 992.8 L1427.6 993 L1429.8 993.2 L1431.9 993.3 L1434 993.5 L1436.2 993.7 L1438.3 993.9 L1440.5 994.2 L1442.6 994.4 L1444.7 994.6 L1446.9 994.8 L1449 995 L1451.2 995.2 L1453.3 995.4 L1455.5 995.6 L1457.6 995.7 L1459.7 995.9 L1461.9 996 L1464 996.1 L1466.2 996.2 L1468.3 996.3 L1470.4 996.3 L1472.6 996.3 L1474.7 996.3 L1476.9 996.2 L1479 996.1 L1481.1 996 L1483.3 995.9 L1485.4 995.7 L1487.6 995.5 L1489.7 995.2 L1491.9 994.9 L1494 994.6 L1496.1 994.3 L1498.3 993.9 L1500.4 993.5 L1502.6 993 L1504.7 992.6 L1506.8 992.1 L1509 991.6 L1511.1 991 L1513.3 990.4 L1515.4 989.9 L1517.5 989.2 L1519.7 988.6 L1521.8 988 L1524 987.3 L1526.1 986.6 L1528.3 986 L1530.4 985.3 L1532.5 984.6 L1534.7 983.9 L1536.8 983.1 L1539 982.4 L1541.1 981.7 L1543.2 981 L1545.4 980.2 L1547.5 979.5 L1549.7 978.8 L1551.8 978.1 L1553.9 977.3 L1556.1 976.6 L1558.2 975.9 L1560.4 975.2 L1562.5 974.5 L1564.7 973.8 L1566.8 973.1 L1568.9 972.4 L1571.1 971.7 L1573.2 971 L1575.4 970.3 L1577.5 969.6 L1579.6 968.9 L1581.8 968.2 L1583.9 967.5 L1586.1 966.9 L1588.2 966.2 L1590.3 965.5 L1592.5 964.8 L1594.6 964.1 L1596.8 963.4 L1598.9 962.7 L1601.1 962 L1603.2 961.4 L1605.3 960.7 L1607.5 960 L1609.6 959.3 L1611.8 958.6 L1613.9 957.9 L1616 957.2 L1618.2 956.5 L1620.3 955.9 L1622.5 955.2 L1624.6 954.5 L1626.7 953.9 L1628.9 953.2 L1631 952.6 L1633.2 952 L1635.3 951.4 L1637.4 950.9 L1639.6 950.3 L1641.7 949.8 L1643.9 949.3 L1646 948.9 L1648.2 948.5 L1650.3 948.1 L1652.4 947.8 L1654.6 947.5 L1656.7 947.2 L1658.9 947 L1661 946.9 L1663.1 946.8 L1665.3 946.7 L1667.4 946.7 L1669.6 946.7 L1671.7 946.9 L1673.8 947 L1676 947.2 L1678.1 947.5 L1680.3 947.8 L1682.4 948.2 L1684.6 948.6 L1686.7 949.1 L1688.8 949.6 L1691 950.1 L1693.1 950.7 L1695.3 951.4 L1697.4 952.1 L1699.5 952.8 L1701.7 953.5 L1703.8 954.3 L1706 955.1 L1708.1 955.9 L1710.2 956.8 L1712.4 957.6 L1714.5 958.5 L1716.7 959.3 L1718.8 960.2 L1721 961 L1723.1 961.9 L1725.2 962.7 L1727.4 963.5 L1729.5 964.3 L1731.7 965.1 L1733.8 965.8 L1735.9 966.6 L1738.1 967.2 L1740.2 967.9 L1742.4 968.5 L1744.5 969.1 L1746.6 969.6 L1748.8 970.1 L1750.9 970.6 L1753.1 971 L1755.2 971.4 L1757.4 971.7 L1759.5 972.1 L1761.6 972.3 L1763.8 972.6 L1765.9 972.8 L1768.1 973 L1770.2 973.1 L1772.3 973.2 L1774.5 973.4 L1776.6 973.4 L1778.8 973.5 L1780.9 973.6 L1783 973.7 L1785.2 973.7 L1787.3 973.8 L1789.5 973.8 L1791.6 973.9 L1793.8 974 L1795.9 974.1 L1798 974.2 L1800.2 974.3 L1802.3 974.4 L1804.5 974.6 L1806.6 974.8 L1808.7 975 L1810.9 975.3 L1813 975.6 L1815.2 975.9 L1817.3 976.3 L1819.4 976.7 L1821.6 977.1 L1823.7 977.5 L1825.9 978 L1828 978.6 L1830.2 979.1 L1832.3 979.7" fill="none" stroke="#0a0a14" stroke-width="1.7" stroke-linejoin="round"/>
<path d="M1858.4 1333.2 L1873 1333.2 L1873.2 1331.6 L1873.4 1330.1 L1873.7 1328.6 L1873.9 1327 L1874.1 1325.5 L1874.3 1324 L1874.6 1322.4 L1874.8 1320.9 L1875.1 1319.3 L1875.4 1317.8 L1875.7 1316.3 L1876 1314.7 L1876.3 1313.2 L1876.7 1311.6 L1877 1310.1 L1877.4 1308.6 L1877.9 1307 L1878.4 1305.5 L1878.9 1303.9 L1879.4 1302.4 L1880 1300.9 L1880.6 1299.3 L1881.3 1297.8 L1882 1296.2 L1882.7 1294.7 L1883.5 1293.2 L1884.3 1291.6 L1885.2 1290.1 L1886.1 1288.6 L1887.1 1287 L1888.1 1285.5 L1889.1 1283.9 L1890.2 1282.4 L1891.4 1280.9 L1892.5 1279.3 L1893.8 1277.8 L1895 1276.2 L1896.3 1274.7 L1897.6 1273.2 L1898.9 1271.6 L1900.3 1270.1 L1901.7 1268.5 L1903.1 1267 L1904.5 1265.5 L1906 1263.9 L1907.4 1262.4 L1908.9 1260.9 L1910.3 1259.3 L1911.8 1257.8 L1913.2 1256.2 L1914.6 1254.7 L1916 1253.2 L1917.4 1251.6 L1918.8 1250.1 L1920.2 1248.5 L1921.5 1247 L1922.8 1245.5 L1924 1243.9 L1925.2 1242.4 L1926.4 1240.8 L1927.5 1239.3 L1928.6 1237.8 L1929.6 1236.2 L1930.6 1234.7 L1931.5 1233.1 L1932.3 1231.6 L1933.2 1230.1 L1933.9 1228.5 L1934.6 1227 L1935.3 1225.5 L1935.9 1223.9 L1936.4 1222.4 L1936.9 1220.8 L1937.4 1219.3 L1937.7 1217.8 L1938.1 1216.2 L1938.4 1214.7 L1938.6 1213.1 L1938.9 1211.6 L1939 1210.1 L1939.2 1208.5 L1939.3 1207 L1939.3 1205.4 L1939.4 1203.9 L1939.4 1202.4 L1939.4 1200.8 L1939.4 1199.3 L1939.4 1197.7 L1939.3 1196.2 L1939.3 1194.7 L1939.3 1193.1 L1939.2 1191.6 L1939.1 1190.1 L1939.1 1188.5 L1939 1187 L1939 1185.4 L1939 1183.9 L1939 1182.4 L1939 1180.8 L1939 1179.3 L1939 1177.7 L1939.1 1176.2 L1939.1 1174.7 L1939.2 1173.1 L1939.3 1171.6 L1939.4 1170 L1939.5 1168.5 L1939.7 1167 L1939.9 1165.4 L1940 1163.9 L1940.2 1162.4 L1940.4 1160.8 L1940.7 1159.3 L1940.9 1157.7 L1941.1 1156.2 L1941.3 1154.7 L1941.6 1153.1 L1941.8 1151.6 L1942 1150 L1942.3 1148.5 L1942.5 1147 L1942.7 1145.4 L1942.9 1143.9 L1943.1 1142.3 L1943.2 1140.8 L1943.3 1139.3 L1943.5 1137.7 L1943.5 1136.2 L1943.6 1134.6 L1943.6 1133.1 L1943.6 1131.6 L1943.6 1130 L1943.5 1128.5 L1943.4 1127 L1943.2 1125.4 L1943.1 1123.9 L1942.8 1122.3 L1942.6 1120.8 L1942.3 1119.3 L1942 1117.7 L1941.6 1116.2 L1941.2 1114.6 L1940.7 1113.1 L1940.3 1111.6 L1939.8 1110 L1939.2 1108.5 L1938.6 1106.9 L1938.1 1105.4 L1937.4 1103.9 L1936.8 1102.3 L1936.1 1100.8 L1935.4 1099.2 L1934.7 1097.7 L1934 1096.2 L1933.3 1094.6 L1932.6 1093.1 L1931.8 1091.6 L1931.1 1090 L1930.3 1088.5 L1929.6 1086.9 L1928.8 1085.4 L1928.1 1083.9 L1927.3 1082.3 L1926.6 1080.8 L1925.8 1079.2 L1925.1 1077.7 L1924.4 1076.2 L1923.6 1074.6 L1922.9 1073.1 L1922.2 1071.5 L1921.5 1070 L1920.8 1068.5 L1920.1 1066.9 L1919.4 1065.4 L1918.7 1063.9 L1918 1062.3 L1917.3 1060.8 L1916.6 1059.2 L1915.9 1057.7 L1915.1 1056.2 L1914.4 1054.6 L1913.7 1053.1 L1912.9 1051.5 L1912.2 1050 L1911.4 1048.5 L1910.6 1046.9 L1909.8 1045.4 L1909 1043.8 L1908.1 1042.3 L1907.3 1040.8 L1906.4 1039.2 L1905.5 1037.7 L1904.6 1036.1 L1903.6 1034.6 L1902.7 1033.1 L1901.7 1031.5 L1900.7 1030 L1899.7 1028.5 L1898.6 1026.9 L1858.4 1026.9Z" fill="#0000ff"/>
<path d="M1873 1333.2 L1873.2 1331.6 L1873.4 1330.1 L1873.7 1328.6 L1873.9 1327 L1874.1 1325.5 L1874.3 1324 L1874.6 1322.4 L1874.8 1320.9 L1875.1 1319.3 L1875.4 1317.8 L1875.7 1316.3 L1876 1314.7 L1876.3 1313.2 L1876.7 1311.6 L1877 1310.1 L1877.4 1308.6 L1877.9 1307 L1878.4 1305.5 L1878.9 1303.9 L1879.4 1302.4 L1880 1300.9 L1880.6 1299.3 L1881.3 1297.8 L1882 1296.2 L1882.7 1294.7 L1883.5 1293.2 L1884.3 1291.6 L1885.2 1290.1 L1886.1 1288.6 L1887.1 1287 L1888.1 1285.5 L1889.1 1283.9 L1890.2 1282.4 L1891.4 1280.9 L1892.5 1279.3 L1893.8 1277.8 L1895 1276.2 L1896.3 1274.7 L1897.6 1273.2 L1898.9 1271.6 L1900.3 1270.1 L1901.7 1268.5 L1903.1 1267 L1904.5 1265.5 L1906 1263.9 L1907.4 1262.4 L1908.9 1260.9 L1910.3 1259.3 L1911.8 1257.8 L1913.2 1256.2 L1914.6 1254.7 L1916 1253.2 L1917.4 1251.6 L1918.8 1250.1 L1920.2 1248.5 L1921.5 1247 L1922.8 1245.5 L1924 1243.9 L1925.2 1242.4 L1926.4 1240.8 L1927.5 1239.3 L1928.6 1237.8 L1929.6 1236.2 L1930.6 1234.7 L1931.5 1233.1 L1932.3 1231.6 L1933.2 1230.1 L1933.9 1228.5 L1934.6 1227 L1935.3 1225.5 L1935.9 1223.9 L1936.4 1222.4 L1936.9 1220.8 L1937.4 1219.3 L1937.7 1217.8 L1938.1 1216.2 L1938.4 1214.7 L1938.6 1213.1 L1938.9 1211.6 L1939 1210.1 L1939.2 1208.5 L1939.3 1207 L1939.3 1205.4 L1939.4 1203.9 L1939.4 1202.4 L1939.4 1200.8 L1939.4 1199.3 L1939.4 1197.7 L1939.3 1196.2 L1939.3 1194.7 L1939.3 1193.1 L1939.2 1191.6 L1939.1 1190.1 L1939.1 1188.5 L1939 1187 L1939 1185.4 L1939 1183.9 L1939 1182.4 L1939 1180.8 L1939 1179.3 L1939 1177.7 L1939.1 1176.2 L1939.1 1174.7 L1939.2 1173.1 L1939.3 1171.6 L1939.4 1170 L1939.5 1168.5 L1939.7 1167 L1939.9 1165.4 L1940 1163.9 L1940.2 1162.4 L1940.4 1160.8 L1940.7 1159.3 L1940.9 1157.7 L1941.1 1156.2 L1941.3 1154.7 L1941.6 1153.1 L1941.8 1151.6 L1942 1150 L1942.3 1148.5 L1942.5 1147 L1942.7 1145.4 L1942.9 1143.9 L1943.1 1142.3 L1943.2 1140.8 L1943.3 1139.3 L1943.5 1137.7 L1943.5 1136.2 L1943.6 1134.6 L1943.6 1133.1 L1943.6 1131.6 L1943.6 1130 L1943.5 1128.5 L1943.4 1127 L1943.2 1125.4 L1943.1 1123.9 L1942.8 1122.3 L1942.6 1120.8 L1942.3 1119.3 L1942 1117.7 L1941.6 1116.2 L1941.2 1114.6 L1940.7 1113.1 L1940.3 1111.6 L1939.8 1110 L1939.2 1108.5 L1938.6 1106.9 L1938.1 1105.4 L1937.4 1103.9 L1936.8 1102.3 L1936.1 1100.8 L1935.4 1099.2 L1934.7 1097.7 L1934 1096.2 L1933.3 1094.6 L1932.6 1093.1 L1931.8 1091.6 L1931.1 1090 L1930.3 1088.5 L1929.6 1086.9 L1928.8 1085.4 L1928.1 1083.9 L1927.3 1082.3 L1926.6 1080.8 L1925.8 1079.2 L1925.1 1077.7 L1924.4 1076.2 L1923.6 1074.6 L1922.9 1073.1 L1922.2 1071.5 L1921.5 1070 L1920.8 1068.5 L1920.1 1066.9 L1919.4 1065.4 L1918.7 1063.9 L1918 1062.3 L1917.3 1060.8 L1916.6 1059.2 L1915.9 1057.7 L1915.1 1056.2 L1914.4 1054.6 L1913.7 1053.1 L1912.9 1051.5 L1912.2 1050 L1911.4 1048.5 L1910.6 1046.9 L1909.8 1045.4 L1909 1043.8 L1908.1 1042.3 L1907.3 1040.8 L1906.4 1039.2 L1905.5 1037.7 L1904.6 1036.1 L1903.6 1034.6 L1902.7 1033.1 L1901.7 1031.5 L1900.7 1030 L1899.7 1028.5 L1898.6 1026.9" fill="none" stroke="#000" stroke-width="1.9" stroke-linejoin="round"/>
<text class="pl" transform="translate(1328.4 975.8) scale(1 1.045)">I</text>
</g>
</g>
</svg>
</body></html>
